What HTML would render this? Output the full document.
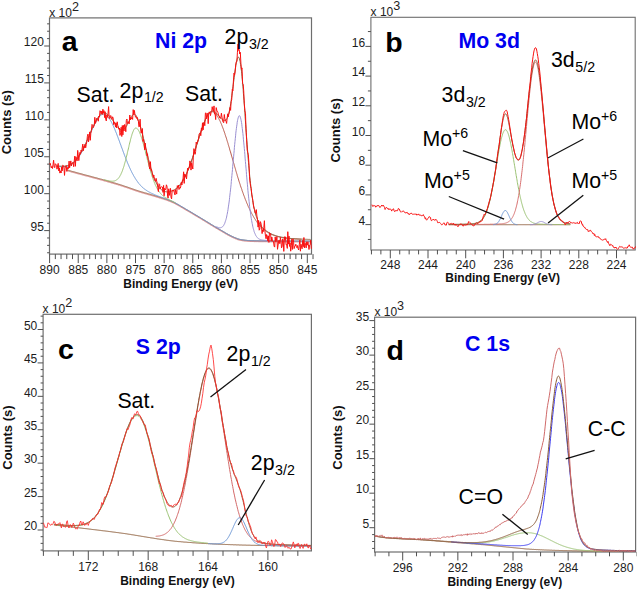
<!DOCTYPE html>
<html><head><meta charset="utf-8"><style>
html,body{margin:0;padding:0;background:#fff;}
svg{display:block;font-family:"Liberation Sans", sans-serif;}
</style></head><body>
<svg width="637" height="590" viewBox="0 0 637 590">
<rect width="637" height="590" fill="#fff"/>
<rect x="49.50" y="17.90" width="262.00" height="236.20" fill="none" stroke="#6e6e6e" stroke-width="1.2"/>
<line x1="47.10" y1="252.75" x2="49.50" y2="252.75" stroke="#505050" stroke-width="1.0"/>
<line x1="47.10" y1="245.37" x2="49.50" y2="245.37" stroke="#505050" stroke-width="1.0"/>
<line x1="47.10" y1="237.98" x2="49.50" y2="237.98" stroke="#505050" stroke-width="1.0"/>
<line x1="47.10" y1="223.22" x2="49.50" y2="223.22" stroke="#505050" stroke-width="1.0"/>
<line x1="47.10" y1="215.83" x2="49.50" y2="215.83" stroke="#505050" stroke-width="1.0"/>
<line x1="47.10" y1="208.45" x2="49.50" y2="208.45" stroke="#505050" stroke-width="1.0"/>
<line x1="47.10" y1="201.06" x2="49.50" y2="201.06" stroke="#505050" stroke-width="1.0"/>
<line x1="47.10" y1="186.30" x2="49.50" y2="186.30" stroke="#505050" stroke-width="1.0"/>
<line x1="47.10" y1="178.91" x2="49.50" y2="178.91" stroke="#505050" stroke-width="1.0"/>
<line x1="47.10" y1="171.53" x2="49.50" y2="171.53" stroke="#505050" stroke-width="1.0"/>
<line x1="47.10" y1="164.14" x2="49.50" y2="164.14" stroke="#505050" stroke-width="1.0"/>
<line x1="47.10" y1="149.38" x2="49.50" y2="149.38" stroke="#505050" stroke-width="1.0"/>
<line x1="47.10" y1="141.99" x2="49.50" y2="141.99" stroke="#505050" stroke-width="1.0"/>
<line x1="47.10" y1="134.61" x2="49.50" y2="134.61" stroke="#505050" stroke-width="1.0"/>
<line x1="47.10" y1="127.22" x2="49.50" y2="127.22" stroke="#505050" stroke-width="1.0"/>
<line x1="47.10" y1="112.46" x2="49.50" y2="112.46" stroke="#505050" stroke-width="1.0"/>
<line x1="47.10" y1="105.07" x2="49.50" y2="105.07" stroke="#505050" stroke-width="1.0"/>
<line x1="47.10" y1="97.69" x2="49.50" y2="97.69" stroke="#505050" stroke-width="1.0"/>
<line x1="47.10" y1="90.30" x2="49.50" y2="90.30" stroke="#505050" stroke-width="1.0"/>
<line x1="47.10" y1="75.54" x2="49.50" y2="75.54" stroke="#505050" stroke-width="1.0"/>
<line x1="47.10" y1="68.15" x2="49.50" y2="68.15" stroke="#505050" stroke-width="1.0"/>
<line x1="47.10" y1="60.77" x2="49.50" y2="60.77" stroke="#505050" stroke-width="1.0"/>
<line x1="47.10" y1="53.38" x2="49.50" y2="53.38" stroke="#505050" stroke-width="1.0"/>
<line x1="47.10" y1="38.62" x2="49.50" y2="38.62" stroke="#505050" stroke-width="1.0"/>
<line x1="47.10" y1="31.23" x2="49.50" y2="31.23" stroke="#505050" stroke-width="1.0"/>
<line x1="47.10" y1="23.85" x2="49.50" y2="23.85" stroke="#505050" stroke-width="1.0"/>
<line x1="44.20" y1="230.60" x2="49.50" y2="230.60" stroke="#505050" stroke-width="1.0"/>
<text x="43.90" y="230.80" font-size="12" font-weight="normal" fill="#1c1c1c" text-anchor="end" >95</text>
<line x1="44.20" y1="193.68" x2="49.50" y2="193.68" stroke="#505050" stroke-width="1.0"/>
<text x="43.90" y="193.88" font-size="12" font-weight="normal" fill="#1c1c1c" text-anchor="end" >100</text>
<line x1="44.20" y1="156.76" x2="49.50" y2="156.76" stroke="#505050" stroke-width="1.0"/>
<text x="43.90" y="156.96" font-size="12" font-weight="normal" fill="#1c1c1c" text-anchor="end" >105</text>
<line x1="44.20" y1="119.84" x2="49.50" y2="119.84" stroke="#505050" stroke-width="1.0"/>
<text x="43.90" y="120.04" font-size="12" font-weight="normal" fill="#1c1c1c" text-anchor="end" >110</text>
<line x1="44.20" y1="82.92" x2="49.50" y2="82.92" stroke="#505050" stroke-width="1.0"/>
<text x="43.90" y="83.12" font-size="12" font-weight="normal" fill="#1c1c1c" text-anchor="end" >115</text>
<line x1="44.20" y1="46.00" x2="49.50" y2="46.00" stroke="#505050" stroke-width="1.0"/>
<text x="43.90" y="46.20" font-size="12" font-weight="normal" fill="#1c1c1c" text-anchor="end" >120</text>
<line x1="313.03" y1="254.10" x2="313.03" y2="259.10" stroke="#505050" stroke-width="1.0"/>
<line x1="301.57" y1="254.10" x2="301.57" y2="259.10" stroke="#505050" stroke-width="1.0"/>
<line x1="295.85" y1="254.10" x2="295.85" y2="259.10" stroke="#505050" stroke-width="1.0"/>
<line x1="290.12" y1="254.10" x2="290.12" y2="259.10" stroke="#505050" stroke-width="1.0"/>
<line x1="284.39" y1="254.10" x2="284.39" y2="259.10" stroke="#505050" stroke-width="1.0"/>
<line x1="272.94" y1="254.10" x2="272.94" y2="259.10" stroke="#505050" stroke-width="1.0"/>
<line x1="267.21" y1="254.10" x2="267.21" y2="259.10" stroke="#505050" stroke-width="1.0"/>
<line x1="261.49" y1="254.10" x2="261.49" y2="259.10" stroke="#505050" stroke-width="1.0"/>
<line x1="255.76" y1="254.10" x2="255.76" y2="259.10" stroke="#505050" stroke-width="1.0"/>
<line x1="244.31" y1="254.10" x2="244.31" y2="259.10" stroke="#505050" stroke-width="1.0"/>
<line x1="238.58" y1="254.10" x2="238.58" y2="259.10" stroke="#505050" stroke-width="1.0"/>
<line x1="232.85" y1="254.10" x2="232.85" y2="259.10" stroke="#505050" stroke-width="1.0"/>
<line x1="227.13" y1="254.10" x2="227.13" y2="259.10" stroke="#505050" stroke-width="1.0"/>
<line x1="215.67" y1="254.10" x2="215.67" y2="259.10" stroke="#505050" stroke-width="1.0"/>
<line x1="209.95" y1="254.10" x2="209.95" y2="259.10" stroke="#505050" stroke-width="1.0"/>
<line x1="204.22" y1="254.10" x2="204.22" y2="259.10" stroke="#505050" stroke-width="1.0"/>
<line x1="198.49" y1="254.10" x2="198.49" y2="259.10" stroke="#505050" stroke-width="1.0"/>
<line x1="187.04" y1="254.10" x2="187.04" y2="259.10" stroke="#505050" stroke-width="1.0"/>
<line x1="181.31" y1="254.10" x2="181.31" y2="259.10" stroke="#505050" stroke-width="1.0"/>
<line x1="175.59" y1="254.10" x2="175.59" y2="259.10" stroke="#505050" stroke-width="1.0"/>
<line x1="169.86" y1="254.10" x2="169.86" y2="259.10" stroke="#505050" stroke-width="1.0"/>
<line x1="158.41" y1="254.10" x2="158.41" y2="259.10" stroke="#505050" stroke-width="1.0"/>
<line x1="152.68" y1="254.10" x2="152.68" y2="259.10" stroke="#505050" stroke-width="1.0"/>
<line x1="146.95" y1="254.10" x2="146.95" y2="259.10" stroke="#505050" stroke-width="1.0"/>
<line x1="141.23" y1="254.10" x2="141.23" y2="259.10" stroke="#505050" stroke-width="1.0"/>
<line x1="129.77" y1="254.10" x2="129.77" y2="259.10" stroke="#505050" stroke-width="1.0"/>
<line x1="124.05" y1="254.10" x2="124.05" y2="259.10" stroke="#505050" stroke-width="1.0"/>
<line x1="118.32" y1="254.10" x2="118.32" y2="259.10" stroke="#505050" stroke-width="1.0"/>
<line x1="112.59" y1="254.10" x2="112.59" y2="259.10" stroke="#505050" stroke-width="1.0"/>
<line x1="101.14" y1="254.10" x2="101.14" y2="259.10" stroke="#505050" stroke-width="1.0"/>
<line x1="95.41" y1="254.10" x2="95.41" y2="259.10" stroke="#505050" stroke-width="1.0"/>
<line x1="89.69" y1="254.10" x2="89.69" y2="259.10" stroke="#505050" stroke-width="1.0"/>
<line x1="83.96" y1="254.10" x2="83.96" y2="259.10" stroke="#505050" stroke-width="1.0"/>
<line x1="72.51" y1="254.10" x2="72.51" y2="259.10" stroke="#505050" stroke-width="1.0"/>
<line x1="66.78" y1="254.10" x2="66.78" y2="259.10" stroke="#505050" stroke-width="1.0"/>
<line x1="61.05" y1="254.10" x2="61.05" y2="259.10" stroke="#505050" stroke-width="1.0"/>
<line x1="55.33" y1="254.10" x2="55.33" y2="259.10" stroke="#505050" stroke-width="1.0"/>
<line x1="49.60" y1="254.10" x2="49.60" y2="263.10" stroke="#505050" stroke-width="1.0"/>
<text x="49.60" y="274.00" font-size="12" font-weight="normal" fill="#1c1c1c" text-anchor="middle" >890</text>
<line x1="78.23" y1="254.10" x2="78.23" y2="263.10" stroke="#505050" stroke-width="1.0"/>
<text x="78.23" y="274.00" font-size="12" font-weight="normal" fill="#1c1c1c" text-anchor="middle" >885</text>
<line x1="106.87" y1="254.10" x2="106.87" y2="263.10" stroke="#505050" stroke-width="1.0"/>
<text x="106.87" y="274.00" font-size="12" font-weight="normal" fill="#1c1c1c" text-anchor="middle" >880</text>
<line x1="135.50" y1="254.10" x2="135.50" y2="263.10" stroke="#505050" stroke-width="1.0"/>
<text x="135.50" y="274.00" font-size="12" font-weight="normal" fill="#1c1c1c" text-anchor="middle" >875</text>
<line x1="164.13" y1="254.10" x2="164.13" y2="263.10" stroke="#505050" stroke-width="1.0"/>
<text x="164.13" y="274.00" font-size="12" font-weight="normal" fill="#1c1c1c" text-anchor="middle" >870</text>
<line x1="192.77" y1="254.10" x2="192.77" y2="263.10" stroke="#505050" stroke-width="1.0"/>
<text x="192.77" y="274.00" font-size="12" font-weight="normal" fill="#1c1c1c" text-anchor="middle" >865</text>
<line x1="221.40" y1="254.10" x2="221.40" y2="263.10" stroke="#505050" stroke-width="1.0"/>
<text x="221.40" y="274.00" font-size="12" font-weight="normal" fill="#1c1c1c" text-anchor="middle" >860</text>
<line x1="250.03" y1="254.10" x2="250.03" y2="263.10" stroke="#505050" stroke-width="1.0"/>
<text x="250.03" y="274.00" font-size="12" font-weight="normal" fill="#1c1c1c" text-anchor="middle" >855</text>
<line x1="278.67" y1="254.10" x2="278.67" y2="263.10" stroke="#505050" stroke-width="1.0"/>
<text x="278.67" y="274.00" font-size="12" font-weight="normal" fill="#1c1c1c" text-anchor="middle" >850</text>
<line x1="307.30" y1="254.10" x2="307.30" y2="263.10" stroke="#505050" stroke-width="1.0"/>
<text x="307.30" y="274.00" font-size="12" font-weight="normal" fill="#1c1c1c" text-anchor="middle" >845</text>
<text x="49.20" y="17.00" font-size="12" fill="#222">x 10<tspan font-size="12.6" dy="-5.6">2</tspan></text>
<text x="0" y="0" font-size="13" font-weight="bold" fill="#111" text-anchor="middle" transform="translate(11.20,122.20) rotate(-90)">Counts (s)</text>
<text x="180.60" y="288.20" font-size="12" font-weight="bold" fill="#111" text-anchor="middle" >Binding Energy (eV)</text>
<polyline points="66.9,169.9 67.2,170.0 67.5,170.1 67.8,170.2 68.0,170.2 68.3,170.3 68.6,170.4 68.9,170.5 69.2,170.6 69.4,170.6 69.7,170.7 70.0,170.8 70.3,170.9 70.6,170.9 70.9,171.0 71.1,171.1 71.4,171.2 71.7,171.3 72.0,171.3 72.3,171.4 72.5,171.5 72.8,171.6 73.1,171.6 73.4,171.7 73.7,171.8 73.9,171.9 74.2,171.9 74.5,172.0 74.8,172.1 75.1,172.2 75.4,172.3 75.6,172.3 75.9,172.4 76.2,172.5 76.5,172.6 76.8,172.6 77.0,172.7 77.3,172.8 77.6,172.9 77.9,172.9 78.2,173.0 78.5,173.1 78.7,173.2 79.0,173.2 79.3,173.3 79.6,173.4 79.9,173.5 80.1,173.5 80.4,173.6 80.7,173.7 81.0,173.8 81.3,173.8 81.5,173.9 81.8,174.0 82.1,174.1 82.4,174.2 82.7,174.2 83.0,174.3 83.2,174.4 83.5,174.5 83.8,174.5 84.1,174.6 84.4,174.7 84.6,174.8 84.9,174.8 85.2,174.9 85.5,175.0 85.8,175.1 86.1,175.1 86.3,175.2 86.6,175.3 86.9,175.4 87.2,175.4 87.5,175.5 87.7,175.6 88.0,175.7 88.3,175.7 88.6,175.8 88.9,175.9 89.2,176.0 89.4,176.0 89.7,176.1 90.0,176.2 90.3,176.3 90.6,176.3 90.8,176.4 91.1,176.5 91.4,176.6 91.7,176.6 92.0,176.7 92.2,176.8 92.5,176.9 92.8,176.9 93.1,177.0 93.4,177.1 93.7,177.2 93.9,177.2 94.2,177.3 94.5,177.4 94.8,177.5 95.1,177.5 95.3,177.6 95.6,177.7 95.9,177.8 96.2,177.8 96.5,177.9 96.8,178.0 97.0,178.1 97.3,178.2 97.6,178.2 97.9,178.3 98.2,178.4 98.4,178.5 98.7,178.5 99.0,178.6 99.3,178.7 99.6,178.8 99.9,178.8 100.1,178.9 100.4,179.0 100.7,179.1 101.0,179.2 101.3,179.2 101.5,179.3 101.8,179.4 102.1,179.5 102.4,179.5 102.7,179.6 102.9,179.7 103.2,179.8 103.5,179.9 103.8,179.9 104.1,180.0 104.4,180.1 104.6,180.2 104.9,180.2 105.2,180.3 105.5,180.4 105.8,180.5 106.0,180.6 106.3,180.6 106.6,180.7 106.9,180.8 107.2,180.9 107.5,181.0 107.7,181.0 108.0,181.1 108.3,181.2 108.6,181.3 108.9,181.4 109.1,181.4 109.4,181.5 109.7,181.6 110.0,181.7 110.3,181.8 110.5,181.8 110.8,181.9 111.1,182.0 111.4,182.1 111.7,182.2 112.0,182.2 112.2,182.3 112.5,182.4 112.8,182.5 113.1,182.6 113.4,182.7 113.6,182.7 113.9,182.8 114.2,182.9 114.5,183.0 114.8,183.1 115.1,183.2 115.3,183.2 115.6,183.3 115.9,183.4 116.2,183.5 116.5,183.6 116.7,183.7 117.0,183.8 117.3,183.8 117.6,183.9 117.9,184.0 118.2,184.1 118.4,184.2 118.7,184.3 119.0,184.4 119.3,184.4 119.6,184.5 119.8,184.6 120.1,184.7 120.4,184.8 120.7,184.9 121.0,185.0 121.2,185.1 121.5,185.1 121.8,185.2 122.1,185.3 122.4,185.4 122.7,185.5 122.9,185.6 123.2,185.7 123.5,185.8 123.8,185.9 124.1,186.0 124.3,186.1 124.6,186.2 124.9,186.3 125.2,186.4 125.5,186.5 125.8,186.5 126.0,186.6 126.3,186.7 126.6,186.8 126.9,186.9 127.2,187.0 127.4,187.1 127.7,187.2 128.0,187.3 128.3,187.4 128.6,187.5 128.9,187.6 129.1,187.7 129.4,187.8 129.7,187.9 130.0,188.0 130.3,188.1 130.5,188.2 130.8,188.3 131.1,188.4 131.4,188.5 131.7,188.6 131.9,188.7 132.2,188.8 132.5,188.9 132.8,189.0 133.1,189.1 133.4,189.2 133.6,189.3 133.9,189.4 134.2,189.5 134.5,189.6 134.8,189.7 135.0,189.8 135.3,189.9 135.6,190.0 135.9,190.1 136.2,190.2 136.5,190.3 136.7,190.3 137.0,190.4 137.3,190.5 137.6,190.6 137.9,190.7 138.1,190.8 138.4,190.9 138.7,191.0 139.0,191.1 139.3,191.2 139.6,191.3 139.8,191.3 140.1,191.4 140.4,191.5 140.7,191.6 141.0,191.7 141.2,191.8 141.5,191.9 141.8,191.9 142.1,192.0 142.4,192.1 142.6,192.2 142.9,192.3 143.2,192.4 143.5,192.4 143.8,192.5 144.1,192.6 144.3,192.7 144.6,192.8 144.9,192.8 145.2,192.9 145.5,193.0 145.7,193.1 146.0,193.2 146.3,193.2 146.6,193.3 146.9,193.4 147.2,193.5 147.4,193.6 147.7,193.6 148.0,193.7 148.3,193.8 148.6,193.9 148.8,194.0 149.1,194.0 149.4,194.1 149.7,194.2 150.0,194.3 150.2,194.4 150.5,194.4 150.8,194.5 151.1,194.6 151.4,194.7 151.7,194.8 151.9,194.8 152.2,194.9 152.5,195.0 152.8,195.1 153.1,195.2 153.3,195.3 153.6,195.3 153.9,195.4 154.2,195.5 154.5,195.6 154.8,195.7 155.0,195.8 155.3,195.9 155.6,195.9 155.9,196.0 156.2,196.1 156.4,196.2 156.7,196.3 157.0,196.4 157.3,196.5 157.6,196.5 157.9,196.6 158.1,196.7 158.4,196.8 158.7,196.9 159.0,197.0 159.3,197.1 159.5,197.2 159.8,197.2 160.1,197.3 160.4,197.4 160.7,197.5 160.9,197.6 161.2,197.7 161.5,197.8 161.8,197.9 162.1,197.9 162.4,198.0 162.6,198.1 162.9,198.2 163.2,198.3 163.5,198.4 163.8,198.5 164.0,198.6 164.3,198.7 164.6,198.8 164.9,198.9 165.2,198.9 165.5,199.0 165.7,199.1 166.0,199.2 166.3,199.3 166.6,199.4 166.9,199.5 167.1,199.6 167.4,199.7 167.7,199.8 168.0,199.9 168.3,200.0 168.6,200.2 168.8,200.3 169.1,200.4 169.4,200.5 169.7,200.6 170.0,200.7 170.2,200.8 170.5,200.9 170.8,201.0 171.1,201.2 171.4,201.3 171.6,201.4 171.9,201.5 172.2,201.6 172.5,201.8 172.8,201.9 173.1,202.0 173.3,202.2 173.6,202.3 173.9,202.4 174.2,202.6 174.5,202.7 174.7,202.8 175.0,203.0 175.3,203.1 175.6,203.3 175.9,203.4 176.2,203.6 176.4,203.7 176.7,203.9 177.0,204.0 177.3,204.2 177.6,204.4 177.8,204.5 178.1,204.7 178.4,204.8 178.7,205.0 179.0,205.2 179.2,205.3 179.5,205.5 179.8,205.6 180.1,205.8 180.4,206.0 180.7,206.1 180.9,206.3 181.2,206.5 181.5,206.6 181.8,206.8 182.1,207.0 182.3,207.2 182.6,207.3 182.9,207.5 183.2,207.7 183.5,207.8 183.8,208.0 184.0,208.2 184.3,208.3 184.6,208.5 184.9,208.7 185.2,208.8 185.4,209.0 185.7,209.2 186.0,209.3 186.3,209.5 186.6,209.7 186.9,209.8 187.1,210.0 187.4,210.1 187.7,210.3 188.0,210.5 188.3,210.6 188.5,210.8 188.8,211.0 189.1,211.1 189.4,211.3 189.7,211.4 189.9,211.6 190.2,211.8 190.5,211.9 190.8,212.1 191.1,212.3 191.4,212.4 191.6,212.6 191.9,212.8 192.2,212.9 192.5,213.1 192.8,213.3 193.0,213.4 193.3,213.6 193.6,213.8 193.9,213.9 194.2,214.1 194.5,214.3 194.7,214.5 195.0,214.6 195.3,214.8 195.6,215.0 195.9,215.1 196.1,215.3 196.4,215.5 196.7,215.6 197.0,215.8 197.3,216.0 197.6,216.1 197.8,216.3 198.1,216.5 198.4,216.7 198.7,216.8 199.0,217.0 199.2,217.2 199.5,217.3 199.8,217.5 200.1,217.7 200.4,217.8 200.6,218.0 200.9,218.2 201.2,218.4 201.5,218.5 201.8,218.7 202.1,218.9 202.3,219.0 202.6,219.2 202.9,219.4 203.2,219.5 203.5,219.7 203.7,219.9 204.0,220.1 204.3,220.2 204.6,220.4 204.9,220.6 205.2,220.7 205.4,220.9 205.7,221.1 206.0,221.3 206.3,221.4 206.6,221.6 206.8,221.8 207.1,221.9 207.4,222.1 207.7,222.3 208.0,222.5 208.2,222.6 208.5,222.8 208.8,223.0 209.1,223.2 209.4,223.3 209.7,223.5 209.9,223.7 210.2,223.9 210.5,224.0 210.8,224.2 211.1,224.4 211.3,224.6 211.6,224.7 211.9,224.9 212.2,225.1 212.5,225.2 212.8,225.4 213.0,225.6 213.3,225.8 213.6,225.9 213.9,226.1 214.2,226.3 214.4,226.4 214.7,226.6 215.0,226.8 215.3,227.0 215.6,227.1 215.9,227.3 216.1,227.5 216.4,227.6 216.7,227.8 217.0,228.0 217.3,228.1 217.5,228.3 217.8,228.4 218.1,228.6 218.4,228.8 218.7,228.9 218.9,229.1 219.2,229.3 219.5,229.4 219.8,229.6 220.1,229.8 220.4,229.9 220.6,230.1 220.9,230.3 221.2,230.4 221.5,230.6 221.8,230.7 222.0,230.9 222.3,231.1 222.6,231.2 222.9,231.4 223.2,231.6 223.5,231.7 223.7,231.9 224.0,232.1 224.3,232.2 224.6,232.4 224.9,232.6 225.1,232.7 225.4,232.9 225.7,233.1 226.0,233.2 226.3,233.4 226.6,233.5 226.8,233.7 227.1,233.9 227.4,234.0 227.7,234.2 228.0,234.3 228.2,234.5 228.5,234.6 228.8,234.8 229.1,234.9 229.4,235.1 229.6,235.2 229.9,235.4 230.2,235.5 230.5,235.7 230.8,235.8 231.1,236.0 231.3,236.1 231.6,236.2 231.9,236.4 232.2,236.5 232.5,236.6 232.7,236.8 233.0,236.9 233.3,237.0 233.6,237.1 233.9,237.3 234.2,237.4 234.4,237.5 234.7,237.6 235.0,237.7 235.3,237.9 235.6,238.0 235.8,238.1 236.1,238.2 236.4,238.3 236.7,238.4 237.0,238.6 237.2,238.7 237.5,238.8 237.8,238.9 238.1,239.0 238.4,239.1 238.7,239.1 238.9,239.2 239.2,239.3 239.5,239.4 239.8,239.4 240.1,239.5 240.3,239.5 240.6,239.6 240.9,239.6 241.2,239.7 241.5,239.7 241.8,239.8 242.0,239.8 242.3,239.9 242.6,239.9 242.9,240.0 243.2,240.0 243.4,240.0 243.7,240.1 244.0,240.1 244.3,240.2 244.6,240.2 244.9,240.2 245.1,240.3 245.4,240.3 245.7,240.3 246.0,240.4 246.3,240.4 246.5,240.4 246.8,240.4 247.1,240.5 247.4,240.5 247.7,240.5 247.9,240.5 248.2,240.5 248.5,240.6 248.8,240.6 249.1,240.6 249.4,240.6 249.6,240.6 249.9,240.6 250.2,240.6 250.5,240.7 250.8,240.7 251.0,240.7 251.3,240.7 251.6,240.7 251.9,240.7 252.2,240.7 252.5,240.7 252.7,240.7 253.0,240.7 253.3,240.7 253.6,240.7 253.9,240.8 254.1,240.8 254.4,240.8 254.7,240.8 255.0,240.8 255.3,240.8 255.6,240.8 255.8,240.8 256.1,240.8 256.4,240.8 256.7,240.8 257.0,240.8 257.2,240.8 257.5,240.8 257.8,240.8 258.1,240.8 258.4,240.8 258.6,240.9 258.9,240.9 259.2,240.9 259.5,240.9 259.8,240.9 260.1,240.9 260.3,240.9 260.6,240.9 260.9,240.9 261.2,240.9 261.5,240.9 261.7,240.9 262.0,240.9 262.3,240.9 262.6,240.9 262.9,240.9 263.2,240.9 263.4,240.9 263.7,240.9 264.0,240.9 264.3,240.9 264.6,240.9 264.8,240.9 265.1,240.9 265.4,240.9 265.7,240.9 266.0,240.9 266.3,240.9 266.5,240.9 266.8,240.9 267.1,241.0 267.4,241.0 267.7,241.0 267.9,241.0 268.2,241.0 268.5,241.0 268.8,241.0 269.1,241.0 269.3,241.0 269.6,241.0 269.9,241.0 270.2,241.0 270.5,241.0 270.8,241.0 271.0,241.0 271.3,241.0 271.6,241.0 271.9,241.0 272.2,241.0 272.4,241.0 272.7,241.0 273.0,241.0 273.3,241.0 273.6,241.0 273.9,241.0 274.1,241.0 274.4,241.0 274.7,241.0 275.0,241.0 275.3,241.0 275.5,241.0 275.8,241.0 276.1,241.0 276.4,241.0 276.7,241.0 276.9,241.0 277.2,241.0 277.5,241.0 277.8,241.0 278.1,241.0 278.4,241.0 278.6,241.0 278.9,241.0 279.2,241.0 279.5,241.1 279.8,241.1 280.0,241.1 280.3,241.1 280.6,241.1 280.9,241.1 281.2,241.1 281.5,241.1 281.7,241.1 282.0,241.1 282.3,241.1 282.6,241.1 282.9,241.1 283.1,241.1 283.4,241.1 283.7,241.1 284.0,241.1 284.3,241.1 284.6,241.1 284.8,241.1 285.1,241.1 285.4,241.1 285.7,241.1 286.0,241.1 286.2,241.1 286.5,241.1 286.8,241.1 287.1,241.1 287.4,241.1 287.6,241.1 287.9,241.1 288.2,241.1 288.5,241.1 288.8,241.1 289.1,241.1 289.3,241.1 289.6,241.1 289.9,241.1 290.2,241.1 290.5,241.1 290.7,241.1 291.0,241.1 291.3,241.1 291.6,241.1 291.9,241.1 292.2,241.1 292.4,241.1 292.7,241.1 293.0,241.1 293.3,241.1 293.6,241.1 293.8,241.1 294.1,241.1 294.4,241.1 294.7,241.1 295.0,241.1 295.3,241.1 295.5,241.1 295.8,241.1 296.1,241.1 296.4,241.1 296.7,241.1 296.9,241.1 297.2,241.1 297.5,241.1 297.8,241.1 298.1,241.1 298.3,241.1 298.6,241.1 298.9,241.1 299.2,241.1 299.5,241.1 299.8,241.1 300.0,241.1 300.3,241.1 300.6,241.1 300.9,241.1 301.2,241.1 301.4,241.1 301.7,241.1 302.0,241.1 302.3,241.1 302.6,241.1 302.9,241.1 303.1,241.1 303.4,241.1 303.7,241.1 304.0,241.1 304.3,241.1 304.5,241.1 304.8,241.1 305.1,241.1 305.4,241.1 305.7,241.1 305.9,241.1 306.2,241.1 306.5,241.1 306.8,241.1 307.1,241.1 307.4,241.1 307.6,241.1 307.9,241.1 308.2,241.1 308.5,241.1 308.8,241.1 309.0,241.1 309.3,241.1 309.6,241.1 309.9,241.1 310.2,241.1 310.5,241.1 310.7,241.1" fill="none" stroke="#8a5a36" stroke-width="1.0" stroke-linejoin="round" />
<polyline points="66.9,170.7 67.2,170.8 67.5,170.9 67.8,171.0 68.0,171.0 68.3,171.1 68.6,171.2 68.9,171.3 69.2,171.4 69.4,171.4 69.7,171.5 70.0,171.6 70.3,171.7 70.6,171.7 70.9,171.8 71.1,171.9 71.4,172.0 71.7,172.1 72.0,172.1 72.3,172.2 72.5,172.3 72.8,172.4 73.1,172.4 73.4,172.5 73.7,172.6 73.9,172.7 74.2,172.7 74.5,172.8 74.8,172.9 75.1,173.0 75.4,173.1 75.6,173.1 75.9,173.2 76.2,173.3 76.5,173.4 76.8,173.4 77.0,173.5 77.3,173.6 77.6,173.7 77.9,173.7 78.2,173.8 78.5,173.9 78.7,174.0 79.0,174.0 79.3,174.1 79.6,174.2 79.9,174.3 80.1,174.3 80.4,174.4 80.7,174.5 81.0,174.6 81.3,174.6 81.5,174.7 81.8,174.8 82.1,174.9 82.4,175.0 82.7,175.0 83.0,175.1 83.2,175.2 83.5,175.3 83.8,175.3 84.1,175.4 84.4,175.5 84.6,175.6 84.9,175.6 85.2,175.7 85.5,175.8 85.8,175.9 86.1,175.9 86.3,176.0 86.6,176.1 86.9,176.2 87.2,176.2 87.5,176.3 87.7,176.4 88.0,176.5 88.3,176.5 88.6,176.6 88.9,176.7 89.2,176.8 89.4,176.8 89.7,176.9 90.0,177.0 90.3,177.1 90.6,177.1 90.8,177.2 91.1,177.3 91.4,177.4 91.7,177.4 92.0,177.5 92.2,177.6 92.5,177.7 92.8,177.7 93.1,177.8 93.4,177.9 93.7,178.0 93.9,178.0 94.2,178.1 94.5,178.2 94.8,178.3 95.1,178.3 95.3,178.4 95.6,178.5 95.9,178.6 96.2,178.6 96.5,178.7 96.8,178.8 97.0,178.9 97.3,179.0 97.6,179.0 97.9,179.1 98.2,179.2 98.4,179.3 98.7,179.3 99.0,179.4 99.3,179.5 99.6,179.6 99.9,179.6 100.1,179.7 100.4,179.8 100.7,179.9 101.0,180.0 101.3,180.0 101.5,180.1 101.8,180.2 102.1,180.3 102.4,180.3 102.7,180.4 102.9,180.5 103.2,180.6 103.5,180.7 103.8,180.7 104.1,180.8 104.4,180.9 104.6,181.0 104.9,181.0 105.2,181.1 105.5,181.2 105.8,181.3 106.0,181.4 106.3,181.4 106.6,181.5 106.9,181.6 107.2,181.7 107.5,181.8 107.7,181.8 108.0,181.9 108.3,182.0 108.6,182.1 108.9,182.2 109.1,182.2 109.4,182.3 109.7,182.4 110.0,182.5 110.3,182.6 110.5,182.6 110.8,182.7 111.1,182.8 111.4,182.9 111.7,183.0 112.0,183.0 112.2,183.1 112.5,183.2 112.8,183.3 113.1,183.4 113.4,183.5 113.6,183.5 113.9,183.6 114.2,183.7 114.5,183.8 114.8,183.9 115.1,184.0 115.3,184.0 115.6,184.1 115.9,184.2 116.2,184.3 116.5,184.4 116.7,184.5 117.0,184.6 117.3,184.6 117.6,184.7 117.9,184.8 118.2,184.9 118.4,185.0 118.7,185.1 119.0,185.2 119.3,185.2 119.6,185.3 119.8,185.4 120.1,185.5 120.4,185.6 120.7,185.7 121.0,185.8 121.2,185.9 121.5,185.9 121.8,186.0 122.1,186.1 122.4,186.2 122.7,186.3 122.9,186.4 123.2,186.5 123.5,186.6 123.8,186.7 124.1,186.8 124.3,186.9 124.6,187.0 124.9,187.1 125.2,187.2 125.5,187.3 125.8,187.3 126.0,187.4 126.3,187.5 126.6,187.6 126.9,187.7 127.2,187.8 127.4,187.9 127.7,188.0 128.0,188.1 128.3,188.2 128.6,188.3 128.9,188.4 129.1,188.5 129.4,188.6 129.7,188.7 130.0,188.8 130.3,188.9 130.5,189.0 130.8,189.1 131.1,189.2 131.4,189.3 131.7,189.4 131.9,189.5 132.2,189.6 132.5,189.7 132.8,189.8 133.1,189.9 133.4,190.0 133.6,190.1 133.9,190.2 134.2,190.3 134.5,190.4 134.8,190.5 135.0,190.6 135.3,190.7 135.6,190.8 135.9,190.9 136.2,191.0 136.5,191.1 136.7,191.1 137.0,191.2 137.3,191.3 137.6,191.4 137.9,191.5 138.1,191.6 138.4,191.7 138.7,191.8 139.0,191.9 139.3,192.0 139.6,192.1 139.8,192.1 140.1,192.2 140.4,192.3 140.7,192.4 141.0,192.5 141.2,192.6 141.5,192.7 141.8,192.7 142.1,192.8 142.4,192.9 142.6,193.0 142.9,193.1 143.2,193.2 143.5,193.2 143.8,193.3 144.1,193.4 144.3,193.5 144.6,193.6 144.9,193.6 145.2,193.7 145.5,193.8 145.7,193.9 146.0,194.0 146.3,194.0 146.6,194.1 146.9,194.2 147.2,194.3 147.4,194.4 147.7,194.4 148.0,194.5 148.3,194.6 148.6,194.7 148.8,194.8 149.1,194.8 149.4,194.9 149.7,195.0 150.0,195.1 150.2,195.2 150.5,195.2 150.8,195.3 151.1,195.4 151.4,195.5 151.7,195.6 151.9,195.6 152.2,195.7 152.5,195.8 152.8,195.9 153.1,196.0 153.3,196.1 153.6,196.1 153.9,196.2 154.2,196.3 154.5,196.4 154.8,196.5 155.0,196.6 155.3,196.7 155.6,196.7 155.9,196.8 156.2,196.9 156.4,197.0 156.7,197.1 157.0,197.2 157.3,197.3 157.6,197.3 157.9,197.4 158.1,197.5 158.4,197.6 158.7,197.7 159.0,197.8 159.3,197.9 159.5,198.0 159.8,198.0 160.1,198.1 160.4,198.2 160.7,198.3 160.9,198.4 161.2,198.5 161.5,198.6 161.8,198.7 162.1,198.7 162.4,198.8 162.6,198.9 162.9,199.0 163.2,199.1 163.5,199.2 163.8,199.3 164.0,199.4 164.3,199.5 164.6,199.6 164.9,199.7 165.2,199.7 165.5,199.8 165.7,199.9 166.0,200.0 166.3,200.1 166.6,200.2 166.9,200.3 167.1,200.4 167.4,200.5 167.7,200.6 168.0,200.7 168.3,200.8 168.6,201.0 168.8,201.1 169.1,201.2 169.4,201.3 169.7,201.4 170.0,201.5 170.2,201.6 170.5,201.7 170.8,201.8 171.1,202.0 171.4,202.1 171.6,202.2 171.9,202.3 172.2,202.4 172.5,202.6 172.8,202.7 173.1,202.8 173.3,203.0 173.6,203.1 173.9,203.2 174.2,203.4 174.5,203.5 174.7,203.6 175.0,203.8 175.3,203.9 175.6,204.1 175.9,204.2 176.2,204.4 176.4,204.5 176.7,204.7 177.0,204.8 177.3,205.0 177.6,205.2 177.8,205.3 178.1,205.5 178.4,205.6 178.7,205.8 179.0,206.0 179.2,206.1 179.5,206.3 179.8,206.4 180.1,206.6 180.4,206.8 180.7,206.9 180.9,207.1 181.2,207.3 181.5,207.4 181.8,207.6 182.1,207.8 182.3,208.0 182.6,208.1 182.9,208.3 183.2,208.5 183.5,208.6 183.8,208.8 184.0,209.0 184.3,209.1 184.6,209.3 184.9,209.5 185.2,209.6 185.4,209.8 185.7,210.0 186.0,210.1 186.3,210.3 186.6,210.5 186.9,210.6 187.1,210.8 187.4,210.9 187.7,211.1 188.0,211.3 188.3,211.4 188.5,211.6 188.8,211.8 189.1,211.9 189.4,212.1 189.7,212.2 189.9,212.4 190.2,212.6 190.5,212.7 190.8,212.9 191.1,213.1 191.4,213.2 191.6,213.4 191.9,213.6 192.2,213.7 192.5,213.9 192.8,214.1 193.0,214.2 193.3,214.4 193.6,214.6 193.9,214.7 194.2,214.9 194.5,215.1 194.7,215.3 195.0,215.4 195.3,215.6 195.6,215.8 195.9,215.9 196.1,216.1 196.4,216.3 196.7,216.4 197.0,216.6 197.3,216.8 197.6,216.9 197.8,217.1 198.1,217.3 198.4,217.5 198.7,217.6 199.0,217.8 199.2,218.0 199.5,218.1 199.8,218.3 200.1,218.5 200.4,218.6 200.6,218.8 200.9,219.0 201.2,219.2 201.5,219.3 201.8,219.5 202.1,219.7 202.3,219.8 202.6,220.0 202.9,220.2 203.2,220.3 203.5,220.5 203.7,220.7 204.0,220.9 204.3,221.0 204.6,221.2 204.9,221.4 205.2,221.5 205.4,221.7 205.7,221.9 206.0,222.1 206.3,222.2 206.6,222.4 206.8,222.6 207.1,222.7 207.4,222.9 207.7,223.1 208.0,223.3 208.2,223.4 208.5,223.6 208.8,223.8 209.1,224.0 209.4,224.1 209.7,224.3 209.9,224.5 210.2,224.7 210.5,224.8 210.8,225.0 211.1,225.2 211.3,225.4 211.6,225.5 211.9,225.7 212.2,225.9 212.5,226.0 212.8,226.2 213.0,226.4 213.3,226.6 213.6,226.7 213.9,226.9 214.2,227.1 214.4,227.2 214.7,227.4 215.0,227.6 215.3,227.8 215.6,227.9 215.9,228.1 216.1,228.3 216.4,228.4 216.7,228.6 217.0,228.8 217.3,228.9 217.5,229.1 217.8,229.2 218.1,229.4 218.4,229.6 218.7,229.7 218.9,229.9 219.2,230.1 219.5,230.2 219.8,230.4 220.1,230.6 220.4,230.7 220.6,230.9 220.9,231.1 221.2,231.2 221.5,231.4 221.8,231.5 222.0,231.7 222.3,231.9 222.6,232.0 222.9,232.2 223.2,232.4 223.5,232.5 223.7,232.7 224.0,232.9 224.3,233.0 224.6,233.2 224.9,233.4 225.1,233.5 225.4,233.7 225.7,233.9 226.0,234.0 226.3,234.2 226.6,234.3 226.8,234.5 227.1,234.7 227.4,234.8 227.7,235.0 228.0,235.1 228.2,235.3 228.5,235.4 228.8,235.6 229.1,235.7 229.4,235.9 229.6,236.0 229.9,236.2 230.2,236.3 230.5,236.5 230.8,236.6 231.1,236.8 231.3,236.9 231.6,237.0 231.9,237.2 232.2,237.3 232.5,237.4 232.7,237.6 233.0,237.7 233.3,237.8 233.6,237.9 233.9,238.1 234.2,238.2 234.4,238.3 234.7,238.4 235.0,238.5 235.3,238.7 235.6,238.8 235.8,238.9 236.1,239.0 236.4,239.1 236.7,239.2 237.0,239.4 237.2,239.5 237.5,239.6 237.8,239.7 238.1,239.8 238.4,239.9 238.7,239.9 238.9,240.0 239.2,240.1 239.5,240.2 239.8,240.2 240.1,240.3 240.3,240.3 240.6,240.4 240.9,240.4 241.2,240.5 241.5,240.5 241.8,240.6 242.0,240.6 242.3,240.7 242.6,240.7 242.9,240.8 243.2,240.8 243.4,240.8 243.7,240.9 244.0,240.9 244.3,241.0 244.6,241.0 244.9,241.0 245.1,241.1 245.4,241.1 245.7,241.1 246.0,241.2 246.3,241.2 246.5,241.2 246.8,241.2 247.1,241.3 247.4,241.3 247.7,241.3 247.9,241.3 248.2,241.3 248.5,241.4 248.8,241.4 249.1,241.4 249.4,241.4 249.6,241.4 249.9,241.4 250.2,241.4 250.5,241.5 250.8,241.5 251.0,241.5 251.3,241.5 251.6,241.5 251.9,241.5 252.2,241.5 252.5,241.5 252.7,241.5 253.0,241.5 253.3,241.5 253.6,241.5 253.9,241.6 254.1,241.6 254.4,241.6 254.7,241.6 255.0,241.6 255.3,241.6 255.6,241.6 255.8,241.6 256.1,241.6 256.4,241.6 256.7,241.6 257.0,241.6 257.2,241.6 257.5,241.6 257.8,241.6 258.1,241.6 258.4,241.6 258.6,241.7 258.9,241.7 259.2,241.7 259.5,241.7 259.8,241.7 260.1,241.7 260.3,241.7 260.6,241.7 260.9,241.7 261.2,241.7 261.5,241.7 261.7,241.7 262.0,241.7 262.3,241.7 262.6,241.7 262.9,241.7 263.2,241.7 263.4,241.7 263.7,241.7 264.0,241.7 264.3,241.7 264.6,241.7 264.8,241.7 265.1,241.7 265.4,241.7 265.7,241.7 266.0,241.7 266.3,241.7 266.5,241.7 266.8,241.7 267.1,241.8 267.4,241.8 267.7,241.8 267.9,241.8 268.2,241.8 268.5,241.8 268.8,241.8 269.1,241.8 269.3,241.8 269.6,241.8 269.9,241.8 270.2,241.8 270.5,241.8 270.8,241.8 271.0,241.8 271.3,241.8 271.6,241.8 271.9,241.8 272.2,241.8 272.4,241.8 272.7,241.8 273.0,241.8 273.3,241.8 273.6,241.8 273.9,241.8 274.1,241.8 274.4,241.8 274.7,241.8 275.0,241.8 275.3,241.8 275.5,241.8 275.8,241.8 276.1,241.8 276.4,241.8 276.7,241.8 276.9,241.8 277.2,241.8 277.5,241.8 277.8,241.8 278.1,241.8 278.4,241.8 278.6,241.8 278.9,241.8 279.2,241.8 279.5,241.9 279.8,241.9 280.0,241.9 280.3,241.9 280.6,241.9 280.9,241.9 281.2,241.9 281.5,241.9 281.7,241.9 282.0,241.9 282.3,241.9 282.6,241.9 282.9,241.9 283.1,241.9 283.4,241.9 283.7,241.9 284.0,241.9 284.3,241.9 284.6,241.9 284.8,241.9 285.1,241.9 285.4,241.9 285.7,241.9 286.0,241.9 286.2,241.9 286.5,241.9 286.8,241.9 287.1,241.9 287.4,241.9 287.6,241.9 287.9,241.9 288.2,241.9 288.5,241.9 288.8,241.9 289.1,241.9 289.3,241.9 289.6,241.9 289.9,241.9 290.2,241.9 290.5,241.9 290.7,241.9 291.0,241.9 291.3,241.9 291.6,241.9 291.9,241.9 292.2,241.9 292.4,241.9 292.7,241.9 293.0,241.9 293.3,241.9 293.6,241.9 293.8,241.9 294.1,241.9 294.4,241.9 294.7,241.9 295.0,241.9 295.3,241.9 295.5,241.9 295.8,241.9 296.1,241.9 296.4,241.9 296.7,241.9 296.9,241.9 297.2,241.9 297.5,241.9 297.8,241.9 298.1,241.9 298.3,241.9 298.6,241.9 298.9,241.9 299.2,241.9 299.5,241.9 299.8,241.9 300.0,241.9 300.3,241.9 300.6,241.9 300.9,241.9 301.2,241.9 301.4,241.9 301.7,241.9 302.0,241.9 302.3,241.9 302.6,241.9 302.9,241.9 303.1,241.9 303.4,241.9 303.7,241.9 304.0,241.9 304.3,241.9 304.5,241.9 304.8,241.9 305.1,241.9 305.4,241.9 305.7,241.9 305.9,241.9 306.2,241.9 306.5,241.9 306.8,241.9 307.1,241.9 307.4,241.9 307.6,241.9 307.9,241.9 308.2,241.9 308.5,241.9 308.8,241.9 309.0,241.9 309.3,241.9 309.6,241.9 309.9,241.9 310.2,241.9 310.5,241.9 310.7,241.9" fill="none" stroke="#cc6262" stroke-width="0.8" stroke-linejoin="round" />
<polyline points="57.6,166.3 57.9,166.3 58.2,166.4 58.5,166.4 58.7,166.5 59.0,166.5 59.3,166.5 59.6,166.6 59.9,166.6 60.2,166.6 60.4,166.6 60.7,166.7 61.0,166.7 61.3,166.7 61.6,166.7 61.8,166.7 62.1,166.7 62.4,166.7 62.7,166.7 63.0,166.7 63.2,166.7 63.5,166.7 63.8,166.7 64.1,166.7 64.4,166.6 64.7,166.6 64.9,166.6 65.2,166.6 65.5,166.5 65.8,166.5 66.1,166.4 66.3,166.4 66.6,166.3 66.9,166.2 67.2,166.2 67.5,166.1 67.8,166.0 68.0,165.9 68.3,165.8 68.6,165.7 68.9,165.6 69.2,165.5 69.4,165.4 69.7,165.3 70.0,165.1 70.3,165.0 70.6,164.9 70.9,164.7 71.1,164.5 71.4,164.4 71.7,164.2 72.0,164.0 72.3,163.8 72.5,163.6 72.8,163.4 73.1,163.2 73.4,163.0 73.7,162.7 73.9,162.5 74.2,162.2 74.5,162.0 74.8,161.7 75.1,161.4 75.4,161.1 75.6,160.8 75.9,160.5 76.2,160.2 76.5,159.9 76.8,159.6 77.0,159.2 77.3,158.9 77.6,158.5 77.9,158.1 78.2,157.7 78.5,157.3 78.7,156.9 79.0,156.5 79.3,156.1 79.6,155.7 79.9,155.2 80.1,154.8 80.4,154.3 80.7,153.8 81.0,153.4 81.3,152.9 81.5,152.4 81.8,151.9 82.1,151.4 82.4,150.8 82.7,150.3 83.0,149.8 83.2,149.2 83.5,148.6 83.8,148.1 84.1,147.5 84.4,146.9 84.6,146.3 84.9,145.8 85.2,145.2 85.5,144.5 85.8,143.9 86.1,143.3 86.3,142.7 86.6,142.1 86.9,141.4 87.2,140.8 87.5,140.2 87.7,139.5 88.0,138.9 88.3,138.2 88.6,137.6 88.9,136.9 89.2,136.3 89.4,135.6 89.7,135.0 90.0,134.3 90.3,133.7 90.6,133.1 90.8,132.4 91.1,131.8 91.4,131.1 91.7,130.5 92.0,129.9 92.2,129.2 92.5,128.6 92.8,128.0 93.1,127.4 93.4,126.8 93.7,126.2 93.9,125.6 94.2,125.0 94.5,124.5 94.8,123.9 95.1,123.4 95.3,122.8 95.6,122.3 95.9,121.8 96.2,121.3 96.5,120.8 96.8,120.3 97.0,119.9 97.3,119.4 97.6,119.0 97.9,118.6 98.2,118.2 98.4,117.8 98.7,117.4 99.0,117.1 99.3,116.8 99.6,116.5 99.9,116.2 100.1,115.9 100.4,115.6 100.7,115.4 101.0,115.2 101.3,115.0 101.5,114.8 101.8,114.7 102.1,114.6 102.4,114.5 102.7,114.4 102.9,114.3 103.2,114.3 103.5,114.3 103.8,114.3 104.1,114.3 104.4,114.4 104.6,114.4 104.9,114.5 105.2,114.7 105.5,114.8 105.8,115.0 106.0,115.1 106.3,115.3 106.6,115.5 106.9,115.8 107.2,116.0 107.5,116.3 107.7,116.6 108.0,116.9 108.3,117.3 108.6,117.6 108.9,118.0 109.1,118.4 109.4,118.8 109.7,119.2 110.0,119.6 110.3,120.1 110.5,120.6 110.8,121.0 111.1,121.5 111.4,122.1 111.7,122.6 112.0,123.1 112.2,123.7 112.5,124.3 112.8,124.9 113.1,125.5 113.4,126.1 113.6,126.7 113.9,127.3 114.2,128.0 114.5,128.6 114.8,129.3 115.1,130.0 115.3,130.7 115.6,131.4 115.9,132.1 116.2,132.8 116.5,133.5 116.7,134.2 117.0,134.9 117.3,135.7 117.6,136.4 117.9,137.2 118.2,137.9 118.4,138.7 118.7,139.4 119.0,140.2 119.3,141.0 119.6,141.7 119.8,142.5 120.1,143.3 120.4,144.0 120.7,144.8 121.0,145.6 121.2,146.3 121.5,147.1 121.8,147.9 122.1,148.6 122.4,149.4 122.7,150.2 122.9,150.9 123.2,151.7 123.5,152.5 123.8,153.2 124.1,154.0 124.3,154.7 124.6,155.4 124.9,156.2 125.2,156.9 125.5,157.6 125.8,158.4 126.0,159.1 126.3,159.8 126.6,160.5 126.9,161.2 127.2,161.9 127.4,162.6 127.7,163.3 128.0,163.9 128.3,164.6 128.6,165.2 128.9,165.9 129.1,166.5 129.4,167.2 129.7,167.8 130.0,168.4 130.3,169.0 130.5,169.6 130.8,170.2 131.1,170.8 131.4,171.4 131.7,171.9 131.9,172.5 132.2,173.0 132.5,173.6 132.8,174.1 133.1,174.6 133.4,175.2 133.6,175.7 133.9,176.2 134.2,176.6 134.5,177.1 134.8,177.6 135.0,178.1 135.3,178.5 135.6,179.0 135.9,179.4 136.2,179.8 136.5,180.2 136.7,180.6 137.0,181.0 137.3,181.4 137.6,181.8 137.9,182.2 138.1,182.6 138.4,182.9 138.7,183.3 139.0,183.6 139.3,184.0 139.6,184.3 139.8,184.6 140.1,185.0 140.4,185.3 140.7,185.6 141.0,185.9 141.2,186.1 141.5,186.4 141.8,186.7 142.1,187.0 142.4,187.2 142.6,187.5 142.9,187.7 143.2,188.0 143.5,188.2 143.8,188.5 144.1,188.7 144.3,188.9 144.6,189.1 144.9,189.3 145.2,189.6 145.5,189.8 145.7,190.0 146.0,190.2 146.3,190.3 146.6,190.5 146.9,190.7 147.2,190.9 147.4,191.1 147.7,191.2 148.0,191.4 148.3,191.6 148.6,191.7 148.8,191.9 149.1,192.0 149.4,192.2 149.7,192.3 150.0,192.5 150.2,192.6 150.5,192.8 150.8,192.9 151.1,193.1 151.4,193.2 151.7,193.3 151.9,193.5 152.2,193.6 152.5,193.7 152.8,193.9 153.1,194.0 153.3,194.1 153.6,194.2 153.9,194.4 154.2,194.5 154.5,194.6 154.8,194.7 155.0,194.8 155.3,195.0 155.6,195.1 155.9,195.2 156.2,195.3 156.4,195.4 156.7,195.5 157.0,195.6 157.3,195.7 157.6,195.9 157.9,196.0 158.1,196.1 158.4,196.2 158.7,196.3 159.0,196.4 159.3,196.5 159.5,196.6 159.8,196.7 160.1,196.8 160.4,196.9 160.7,197.0 160.9,197.1 161.2,197.2 161.5,197.3 161.8,197.4 162.1,197.5 162.4,197.6 162.6,197.7 162.9,197.8 163.2,197.9 163.5,198.0 163.8,198.1 164.0,198.2 164.3,198.3 164.6,198.4 164.9,198.5 165.2,198.6 165.5,198.7 165.7,198.8 166.0,198.9 166.3,199.0 166.6,199.1 166.9,199.2 167.1,199.3 167.4,199.4 167.7,199.5 168.0,199.6 168.3,199.7 168.6,199.9 168.8,200.0 169.1,200.1 169.4,200.2 169.7,200.3 170.0,200.4 170.2,200.5 170.5,200.6 170.8,200.8 171.1,200.9 171.4,201.0 171.6,201.1 171.9,201.3 172.2,201.4 172.5,201.5 172.8,201.6 173.1,201.8 173.3,201.9 173.6,202.0 173.9,202.2 174.2,202.3 174.5,202.5 174.7,202.6 175.0,202.8 175.3,202.9 175.6,203.1 175.9,203.2 176.2,203.4 176.4,203.5 176.7,203.7 177.0,203.8 177.3,204.0 177.6,204.1 177.8,204.3 178.1,204.5 178.4,204.6 178.7,204.8 179.0,205.0 179.2,205.1 179.5,205.3 179.8,205.4 180.1,205.6 180.4,205.8 180.7,205.9 180.9,206.1 181.2,206.3 181.5,206.5 181.8,206.6 182.1,206.8 182.3,207.0 182.6,207.1 182.9,207.3 183.2,207.5 183.5,207.6 183.8,207.8 184.0,208.0 184.3,208.1 184.6,208.3 184.9,208.5 185.2,208.7 185.4,208.8 185.7,209.0 186.0,209.2 186.3,209.3 186.6,209.5 186.9,209.6 187.1,209.8 187.4,210.0 187.7,210.1 188.0,210.3 188.3,210.5 188.5,210.6 188.8,210.8 189.1,211.0 189.4,211.1 189.7,211.3 189.9,211.5 190.2,211.6 190.5,211.8 190.8,212.0 191.1,212.1 191.4,212.3 191.6,212.5 191.9,212.6 192.2,212.8 192.5,213.0 192.8,213.1 193.0,213.3 193.3,213.5 193.6,213.6 193.9,213.8 194.2,214.0 194.5,214.1 194.7,214.3 195.0,214.5 195.3,214.6 195.6,214.8 195.9,215.0 196.1,215.2 196.4,215.3 196.7,215.5 197.0,215.7 197.3,215.8 197.6,216.0 197.8,216.2 198.1,216.4 198.4,216.5 198.7,216.7 199.0,216.9 199.2,217.0 199.5,217.2 199.8,217.4 200.1,217.5 200.4,217.7 200.6,217.9 200.9,218.1 201.2,218.2 201.5,218.4 201.8,218.6 202.1,218.7 202.3,218.9 202.6,219.1 202.9,219.2 203.2,219.4 203.5,219.6 203.7,219.8 204.0,219.9 204.3,220.1 204.6,220.3 204.9,220.4 205.2,220.6 205.4,220.8 205.7,221.0 206.0,221.1 206.3,221.3 206.6,221.5 206.8,221.7 207.1,221.8 207.4,222.0 207.7,222.2 208.0,222.4 208.2,222.5 208.5,222.7 208.8,222.9 209.1,223.1 209.4,223.2 209.7,223.4 209.9,223.6 210.2,223.8 210.5,223.9 210.8,224.1 211.1,224.3 211.3,224.5 211.6,224.6 211.9,224.8 212.2,225.0 212.5,225.1 212.8,225.3 213.0,225.5 213.3,225.7 213.6,225.8 213.9,226.0 214.2,226.2 214.4,226.3 214.7,226.5 215.0,226.7 215.3,226.9 215.6,227.0 215.9,227.2 216.1,227.4 216.4,227.5 216.7,227.7 217.0,227.9 217.3,228.0 217.5,228.2 217.8,228.4 218.1,228.5 218.4,228.7 218.7,228.8 218.9,229.0 219.2,229.2 219.5,229.3 219.8,229.5 220.1,229.7 220.4,229.8 220.6,230.0 220.9,230.2 221.2,230.3 221.5,230.5 221.8,230.7 222.0,230.8 222.3,231.0 222.6,231.2 222.9,231.3 223.2,231.5 223.5,231.7 223.7,231.8 224.0,232.0 224.3,232.2 224.6,232.3 224.9,232.5 225.1,232.7 225.4,232.8 225.7,233.0 226.0,233.1 226.3,233.3 226.6,233.5 226.8,233.6 227.1,233.8 227.4,233.9 227.7,234.1 228.0,234.3 228.2,234.4 228.5,234.6 228.8,234.7 229.1,234.9 229.4,235.0 229.6,235.2 229.9,235.3 230.2,235.5 230.5,235.6 230.8,235.7 231.1,235.9 231.3,236.0 231.6,236.2 231.9,236.3 232.2,236.4 232.5,236.6 232.7,236.7 233.0,236.8 233.3,237.0 233.6,237.1 233.9,237.2 234.2,237.3 234.4,237.4 234.7,237.6 235.0,237.7 235.3,237.8 235.6,237.9 235.8,238.0 236.1,238.2 236.4,238.3 236.7,238.4 237.0,238.5 237.2,238.6 237.5,238.7 237.8,238.8 238.1,238.9 238.4,239.0 238.7,239.1 238.9,239.2 239.2,239.2 239.5,239.3 239.8,239.4 240.1,239.4 240.3,239.5 240.6,239.5 240.9,239.6 241.2,239.6 241.5,239.7 241.8,239.7 242.0,239.8 242.3,239.8 242.6,239.8 242.9,239.9 243.2,239.9 243.4,240.0 243.7,240.0 244.0,240.1 244.3,240.1 244.6,240.1 244.9,240.2 245.1,240.2 245.4,240.2 245.7,240.3 246.0,240.3 246.3,240.3 246.5,240.4 246.8,240.4 247.1,240.4 247.4,240.4 247.7,240.5 247.9,240.5 248.2,240.5 248.5,240.5 248.8,240.5 249.1,240.5 249.4,240.6 249.6,240.6 249.9,240.6 250.2,240.6 250.5,240.6 250.8,240.6 251.0,240.6 251.3,240.6 251.6,240.6 251.9,240.6 252.2,240.7 252.5,240.7 252.7,240.7 253.0,240.7 253.3,240.7 253.6,240.7 253.9,240.7 254.1,240.7 254.4,240.7 254.7,240.7 255.0,240.7 255.3,240.7 255.6,240.7 255.8,240.7 256.1,240.8 256.4,240.8 256.7,240.8 257.0,240.8 257.2,240.8 257.5,240.8 257.8,240.8 258.1,240.8 258.4,240.8 258.6,240.8 258.9,240.8 259.2,240.8 259.5,240.8 259.8,240.8 260.1,240.8 260.3,240.8 260.6,240.8 260.9,240.8 261.2,240.8 261.5,240.8 261.7,240.8 262.0,240.8 262.3,240.9 262.6,240.9 262.9,240.9 263.2,240.9 263.4,240.9 263.7,240.9 264.0,240.9 264.3,240.9 264.6,240.9 264.8,240.9 265.1,240.9 265.4,240.9 265.7,240.9 266.0,240.9 266.3,240.9 266.5,240.9 266.8,240.9 267.1,240.9 267.4,240.9 267.7,240.9 267.9,240.9 268.2,240.9 268.5,240.9 268.8,240.9 269.1,240.9 269.3,240.9 269.6,240.9 269.9,240.9 270.2,240.9 270.5,240.9 270.8,240.9 271.0,240.9 271.3,240.9 271.6,240.9 271.9,241.0 272.2,241.0 272.4,241.0 272.7,241.0 273.0,241.0 273.3,241.0 273.6,241.0 273.9,241.0 274.1,241.0 274.4,241.0 274.7,241.0 275.0,241.0 275.3,241.0 275.5,241.0 275.8,241.0 276.1,241.0 276.4,241.0 276.7,241.0 276.9,241.0 277.2,241.0 277.5,241.0 277.8,241.0 278.1,241.0 278.4,241.0 278.6,241.0 278.9,241.0 279.2,241.0 279.5,241.0 279.8,241.0 280.0,241.0 280.3,241.0 280.6,241.0 280.9,241.0 281.2,241.0 281.5,241.0 281.7,241.0 282.0,241.0 282.3,241.0 282.6,241.0 282.9,241.0 283.1,241.0 283.4,241.0 283.7,241.0 284.0,241.0 284.3,241.0 284.6,241.0 284.8,241.0 285.1,241.0 285.4,241.0 285.7,241.0 286.0,241.0 286.2,241.0 286.5,241.0 286.8,241.0 287.1,241.0 287.4,241.0 287.6,241.0 287.9,241.0 288.2,241.0 288.5,241.0 288.8,241.0 289.1,241.0 289.3,241.1 289.6,241.1 289.9,241.1 290.2,241.1 290.5,241.1 290.7,241.1 291.0,241.1 291.3,241.1 291.6,241.1 291.9,241.1 292.2,241.1 292.4,241.1 292.7,241.1 293.0,241.1 293.3,241.1 293.6,241.1 293.8,241.1 294.1,241.1 294.4,241.1 294.7,241.1 295.0,241.1 295.3,241.1 295.5,241.1 295.8,241.1 296.1,241.1 296.4,241.1 296.7,241.1 296.9,241.1 297.2,241.1 297.5,241.1 297.8,241.1 298.1,241.1 298.3,241.1 298.6,241.1 298.9,241.1 299.2,241.1 299.5,241.1 299.8,241.1 300.0,241.1 300.3,241.1 300.6,241.1 300.9,241.1 301.2,241.1 301.4,241.1 301.7,241.1 302.0,241.1 302.3,241.1 302.6,241.1 302.9,241.1 303.1,241.1 303.4,241.1 303.7,241.1 304.0,241.1 304.3,241.1 304.5,241.1 304.8,241.1 305.1,241.1 305.4,241.1 305.7,241.1 305.9,241.1 306.2,241.1 306.5,241.1 306.8,241.1 307.1,241.1 307.4,241.1 307.6,241.1 307.9,241.1 308.2,241.1 308.5,241.1 308.8,241.1 309.0,241.1 309.3,241.1 309.6,241.1 309.9,241.1 310.2,241.1 310.5,241.1 310.7,241.1" fill="none" stroke="#6e98d6" stroke-width="1.0" stroke-linejoin="round" />
<polyline points="104.1,179.7 104.4,179.8 104.6,179.9 104.9,179.9 105.2,180.0 105.5,180.1 105.8,180.2 106.0,180.2 106.3,180.3 106.6,180.4 106.9,180.4 107.2,180.5 107.5,180.5 107.7,180.6 108.0,180.7 108.3,180.7 108.6,180.8 108.9,180.8 109.1,180.9 109.4,180.9 109.7,181.0 110.0,181.0 110.3,181.1 110.5,181.1 110.8,181.1 111.1,181.1 111.4,181.2 111.7,181.2 112.0,181.2 112.2,181.2 112.5,181.2 112.8,181.2 113.1,181.1 113.4,181.1 113.6,181.1 113.9,181.0 114.2,181.0 114.5,180.9 114.8,180.8 115.1,180.7 115.3,180.6 115.6,180.5 115.9,180.3 116.2,180.2 116.5,180.0 116.7,179.8 117.0,179.6 117.3,179.4 117.6,179.1 117.9,178.8 118.2,178.5 118.4,178.2 118.7,177.9 119.0,177.5 119.3,177.1 119.6,176.7 119.8,176.2 120.1,175.7 120.4,175.2 120.7,174.7 121.0,174.1 121.2,173.5 121.5,172.9 121.8,172.2 122.1,171.5 122.4,170.7 122.7,170.0 122.9,169.2 123.2,168.3 123.5,167.5 123.8,166.6 124.1,165.7 124.3,164.7 124.6,163.7 124.9,162.7 125.2,161.7 125.5,160.6 125.8,159.5 126.0,158.4 126.3,157.3 126.6,156.1 126.9,155.0 127.2,153.8 127.4,152.6 127.7,151.4 128.0,150.2 128.3,149.0 128.6,147.8 128.9,146.6 129.1,145.4 129.4,144.2 129.7,143.0 130.0,141.9 130.3,140.8 130.5,139.7 130.8,138.6 131.1,137.6 131.4,136.5 131.7,135.6 131.9,134.7 132.2,133.8 132.5,133.0 132.8,132.2 133.1,131.5 133.4,130.8 133.6,130.2 133.9,129.7 134.2,129.2 134.5,128.8 134.8,128.5 135.0,128.2 135.3,128.1 135.6,128.0 135.9,127.9 136.2,128.0 136.5,128.1 136.7,128.3 137.0,128.5 137.3,128.7 137.6,129.0 137.9,129.4 138.1,129.8 138.4,130.2 138.7,130.7 139.0,131.2 139.3,131.8 139.6,132.4 139.8,133.1 140.1,133.8 140.4,134.5 140.7,135.3 141.0,136.0 141.2,136.9 141.5,137.7 141.8,138.6 142.1,139.5 142.4,140.5 142.6,141.4 142.9,142.4 143.2,143.4 143.5,144.4 143.8,145.5 144.1,146.5 144.3,147.6 144.6,148.7 144.9,149.8 145.2,150.8 145.5,151.9 145.7,153.1 146.0,154.2 146.3,155.3 146.6,156.4 146.9,157.5 147.2,158.6 147.4,159.7 147.7,160.8 148.0,161.9 148.3,162.9 148.6,164.0 148.8,165.1 149.1,166.1 149.4,167.1 149.7,168.2 150.0,169.2 150.2,170.1 150.5,171.1 150.8,172.1 151.1,173.0 151.4,173.9 151.7,174.8 151.9,175.7 152.2,176.6 152.5,177.4 152.8,178.2 153.1,179.0 153.3,179.8 153.6,180.6 153.9,181.3 154.2,182.1 154.5,182.8 154.8,183.4 155.0,184.1 155.3,184.8 155.6,185.4 155.9,186.0 156.2,186.6 156.4,187.1 156.7,187.7 157.0,188.2 157.3,188.7 157.6,189.2 157.9,189.7 158.1,190.1 158.4,190.6 158.7,191.0 159.0,191.4 159.3,191.8 159.5,192.2 159.8,192.5 160.1,192.9 160.4,193.2 160.7,193.6 160.9,193.9 161.2,194.2 161.5,194.5 161.8,194.7 162.1,195.0 162.4,195.3 162.6,195.5 162.9,195.8 163.2,196.0 163.5,196.2 163.8,196.4 164.0,196.7 164.3,196.9 164.6,197.1 164.9,197.3 165.2,197.4 165.5,197.6 165.7,197.8 166.0,198.0 166.3,198.1 166.6,198.3 166.9,198.5 167.1,198.6 167.4,198.8 167.7,198.9 168.0,199.1 168.3,199.2 168.6,199.4 168.8,199.5 169.1,199.7 169.4,199.8 169.7,200.0 170.0,200.1 170.2,200.2 170.5,200.4 170.8,200.5 171.1,200.6 171.4,200.8 171.6,200.9 171.9,201.1 172.2,201.2 172.5,201.3 172.8,201.5 173.1,201.6 173.3,201.8 173.6,201.9 173.9,202.1 174.2,202.2 174.5,202.4 174.7,202.5 175.0,202.7 175.3,202.8" fill="none" stroke="#9ac272" stroke-width="1.0" stroke-linejoin="round" />
<polyline points="175.6,189.6 175.9,189.4 176.2,189.1 176.4,188.9 176.7,188.7 177.0,188.4 177.3,188.2 177.6,187.9 177.8,187.6 178.1,187.4 178.4,187.1 178.7,186.8 179.0,186.5 179.2,186.1 179.5,185.8 179.8,185.5 180.1,185.1 180.4,184.8 180.7,184.4 180.9,184.0 181.2,183.6 181.5,183.2 181.8,182.8 182.1,182.4 182.3,181.9 182.6,181.5 182.9,181.0 183.2,180.5 183.5,180.0 183.8,179.5 184.0,179.0 184.3,178.5 184.6,178.0 184.9,177.4 185.2,176.8 185.4,176.3 185.7,175.7 186.0,175.1 186.3,174.5 186.6,173.9 186.9,173.2 187.1,172.6 187.4,171.9 187.7,171.2 188.0,170.6 188.3,169.9 188.5,169.2 188.8,168.4 189.1,167.7 189.4,167.0 189.7,166.2 189.9,165.5 190.2,164.7 190.5,163.9 190.8,163.2 191.1,162.4 191.4,161.6 191.6,160.8 191.9,160.0 192.2,159.1 192.5,158.3 192.8,157.5 193.0,156.6 193.3,155.8 193.6,154.9 193.9,154.0 194.2,153.2 194.5,152.3 194.7,151.4 195.0,150.5 195.3,149.6 195.6,148.8 195.9,147.9 196.1,147.0 196.4,146.1 196.7,145.2 197.0,144.3 197.3,143.4 197.6,142.5 197.8,141.6 198.1,140.7 198.4,139.8 198.7,138.9 199.0,138.0 199.2,137.1 199.5,136.2 199.8,135.4 200.1,134.5 200.4,133.6 200.6,132.8 200.9,131.9 201.2,131.1 201.5,130.2 201.8,129.4 202.1,128.6 202.3,127.8 202.6,127.0 202.9,126.2 203.2,125.4 203.5,124.7 203.7,123.9 204.0,123.2 204.3,122.5 204.6,121.8 204.9,121.1 205.2,120.5 205.4,119.9 205.7,119.2 206.0,118.6 206.3,118.1 206.6,117.5 206.8,117.0 207.1,116.5 207.4,116.0 207.7,115.5 208.0,115.1 208.2,114.7 208.5,114.3 208.8,113.9 209.1,113.6 209.4,113.3 209.7,113.0 209.9,112.7 210.2,112.5 210.5,112.3 210.8,112.2 211.1,112.0 211.3,111.9 211.6,111.9 211.9,111.8 212.2,111.8 212.5,111.8 212.8,111.9 213.0,112.0 213.3,112.1 213.6,112.2 213.9,112.4 214.2,112.6 214.4,112.8 214.7,113.0 215.0,113.3 215.3,113.6 215.6,113.9 215.9,114.2 216.1,114.5 216.4,114.9 216.7,115.3 217.0,115.6 217.3,116.1 217.5,116.5 217.8,116.9 218.1,117.4 218.4,117.9 218.7,118.4 218.9,118.9 219.2,119.5 219.5,120.0 219.8,120.6 220.1,121.2 220.4,121.8 220.6,122.4 220.9,123.1 221.2,123.7 221.5,124.4 221.8,125.1 222.0,125.8 222.3,126.5 222.6,127.3 222.9,128.0 223.2,128.8 223.5,129.6 223.7,130.3 224.0,131.1 224.3,132.0 224.6,132.8 224.9,133.6 225.1,134.5 225.4,135.3 225.7,136.2 226.0,137.1 226.3,138.0 226.6,138.8 226.8,139.7 227.1,140.7 227.4,141.6 227.7,142.5 228.0,143.4 228.2,144.4 228.5,145.3 228.8,146.3 229.1,147.2 229.4,148.2 229.6,149.1 229.9,150.1 230.2,151.1 230.5,152.0 230.8,153.0 231.1,154.0 231.3,155.0 231.6,155.9 231.9,156.9 232.2,157.9 232.5,158.9 232.7,159.9 233.0,160.8 233.3,161.8 233.6,162.8 233.9,163.8 234.2,164.7 234.4,165.7 234.7,166.7 235.0,167.7 235.3,168.6 235.6,169.6 235.8,170.6 236.1,171.5 236.4,172.5 236.7,173.5 237.0,174.4 237.2,175.4 237.5,176.3 237.8,177.3 238.1,178.2 238.4,179.1 238.7,180.0 238.9,180.9 239.2,181.8 239.5,182.7 239.8,183.6 240.1,184.4 240.3,185.3 240.6,186.1 240.9,187.0 241.2,187.8 241.5,188.6 241.8,189.4 242.0,190.3 242.3,191.1 242.6,191.9 242.9,192.7 243.2,193.5 243.4,194.2 243.7,195.0 244.0,195.8 244.3,196.5 244.6,197.3 244.9,198.0 245.1,198.8 245.4,199.5 245.7,200.2 246.0,200.9 246.3,201.6 246.5,202.3 246.8,203.0 247.1,203.7 247.4,204.3 247.7,205.0 247.9,205.6 248.2,206.3 248.5,206.9 248.8,207.5 249.1,208.1 249.4,208.7 249.6,209.3 249.9,209.9 250.2,210.5 250.5,211.1 250.8,211.6 251.0,212.2 251.3,212.7 251.6,213.3 251.9,213.8 252.2,214.3 252.5,214.8 252.7,215.3 253.0,215.8 253.3,216.3 253.6,216.8 253.9,217.3 254.1,217.7 254.4,218.2 254.7,218.7 255.0,219.1 255.3,219.5 255.6,220.0 255.8,220.4 256.1,220.8 256.4,221.2 256.7,221.6 257.0,222.0 257.2,222.4 257.5,222.8 257.8,223.1 258.1,223.5 258.4,223.9 258.6,224.2 258.9,224.6 259.2,224.9 259.5,225.2 259.8,225.6 260.1,225.9 260.3,226.2 260.6,226.5 260.9,226.8 261.2,227.1 261.5,227.4 261.7,227.7 262.0,227.9 262.3,228.2 262.6,228.5 262.9,228.7 263.2,229.0 263.4,229.2 263.7,229.5 264.0,229.7 264.3,230.0 264.6,230.2 264.8,230.4 265.1,230.6 265.4,230.8 265.7,231.1 266.0,231.3 266.3,231.5 266.5,231.7 266.8,231.8 267.1,232.0 267.4,232.2 267.7,232.4 267.9,232.6 268.2,232.7 268.5,232.9 268.8,233.1 269.1,233.2 269.3,233.4 269.6,233.5 269.9,233.7 270.2,233.8 270.5,234.0 270.8,234.1 271.0,234.2 271.3,234.4 271.6,234.5 271.9,234.6 272.2,234.7 272.4,234.9 272.7,235.0 273.0,235.1 273.3,235.2 273.6,235.3 273.9,235.4 274.1,235.5 274.4,235.6 274.7,235.7 275.0,235.8 275.3,235.9 275.5,236.0 275.8,236.1 276.1,236.2 276.4,236.2 276.7,236.3 276.9,236.4 277.2,236.5 277.5,236.6 277.8,236.6 278.1,236.7 278.4,236.8 278.6,236.8 278.9,236.9 279.2,237.0 279.5,237.0 279.8,237.1 280.0,237.2 280.3,237.2 280.6,237.3 280.9,237.3 281.2,237.4 281.5,237.4 281.7,237.5 282.0,237.5 282.3,237.6 282.6,237.6 282.9,237.7 283.1,237.7 283.4,237.8 283.7,237.8 284.0,237.9 284.3,237.9 284.6,237.9 284.8,238.0 285.1,238.0 285.4,238.1 285.7,238.1 286.0,238.1 286.2,238.2 286.5,238.2 286.8,238.2 287.1,238.3 287.4,238.3 287.6,238.3 287.9,238.4 288.2,238.4 288.5,238.4 288.8,238.4 289.1,238.5 289.3,238.5 289.6,238.5 289.9,238.5 290.2,238.6 290.5,238.6 290.7,238.6 291.0,238.6 291.3,238.7 291.6,238.7 291.9,238.7 292.2,238.7 292.4,238.7 292.7,238.8 293.0,238.8 293.3,238.8 293.6,238.8 293.8,238.8 294.1,238.9 294.4,238.9 294.7,238.9 295.0,238.9 295.3,238.9 295.5,239.0 295.8,239.0 296.1,239.0 296.4,239.0 296.7,239.0 296.9,239.0 297.2,239.0 297.5,239.1 297.8,239.1 298.1,239.1 298.3,239.1 298.6,239.1 298.9,239.1 299.2,239.1 299.5,239.2 299.8,239.2 300.0,239.2 300.3,239.2 300.6,239.2 300.9,239.2 301.2,239.2 301.4,239.3" fill="none" stroke="#b8584a" stroke-width="1.0" stroke-linejoin="round" />
<polyline points="215.9,226.5 216.1,226.6 216.4,226.8 216.7,226.9 217.0,227.0 217.3,227.1 217.5,227.2 217.8,227.3 218.1,227.4 218.4,227.5 218.7,227.6 218.9,227.6 219.2,227.7 219.5,227.7 219.8,227.7 220.1,227.7 220.4,227.7 220.6,227.7 220.9,227.6 221.2,227.5 221.5,227.4 221.8,227.3 222.0,227.1 222.3,226.9 222.6,226.7 222.9,226.4 223.2,226.0 223.5,225.7 223.7,225.2 224.0,224.7 224.3,224.2 224.6,223.6 224.9,222.9 225.1,222.1 225.4,221.3 225.7,220.4 226.0,219.4 226.3,218.3 226.6,217.1 226.8,215.9 227.1,214.5 227.4,213.0 227.7,211.4 228.0,209.8 228.2,208.0 228.5,206.1 228.8,204.1 229.1,202.0 229.4,199.8 229.6,197.5 229.9,195.1 230.2,192.5 230.5,189.9 230.8,187.2 231.1,184.4 231.3,181.5 231.6,178.6 231.9,175.6 232.2,172.5 232.5,169.4 232.7,166.3 233.0,163.1 233.3,159.9 233.6,156.8 233.9,153.6 234.2,150.5 234.4,147.4 234.7,144.4 235.0,141.4 235.3,138.6 235.6,135.8 235.8,133.2 236.1,130.7 236.4,128.4 236.7,126.2 237.0,124.2 237.2,122.3 237.5,120.7 237.8,119.3 238.1,118.1 238.4,117.2 238.7,116.4 238.9,115.9 239.2,115.7 239.5,115.7 239.8,115.9 240.1,116.4 240.3,117.2 240.6,118.1 240.9,119.3 241.2,120.8 241.5,122.4 241.8,124.3 242.0,126.4 242.3,128.6 242.6,131.0 242.9,133.6 243.2,136.3 243.4,139.2 243.7,142.1 244.0,145.2 244.3,148.3 244.6,151.5 244.9,154.8 245.1,158.1 245.4,161.4 245.7,164.7 246.0,168.1 246.3,171.4 246.5,174.7 246.8,177.9 247.1,181.1 247.4,184.2 247.7,187.3 247.9,190.3 248.2,193.2 248.5,196.1 248.8,198.8 249.1,201.4 249.4,204.0 249.6,206.4 249.9,208.7 250.2,210.9 250.5,213.0 250.8,215.1 251.0,217.0 251.3,218.7 251.6,220.4 251.9,222.0 252.2,223.5 252.5,224.9 252.7,226.2 253.0,227.4 253.3,228.6 253.6,229.6 253.9,230.6 254.1,231.5 254.4,232.3 254.7,233.0 255.0,233.7 255.3,234.4 255.6,235.0 255.8,235.5 256.1,236.0 256.4,236.4 256.7,236.8 257.0,237.2 257.2,237.5 257.5,237.8 257.8,238.1 258.1,238.3 258.4,238.5 258.6,238.7 258.9,238.9 259.2,239.1 259.5,239.2 259.8,239.3 260.1,239.4 260.3,239.5 260.6,239.6 260.9,239.7 261.2,239.8 261.5,239.9 261.7,239.9 262.0,240.0 262.3,240.0 262.6,240.1 262.9,240.1 263.2,240.1 263.4,240.2 263.7,240.2 264.0,240.2 264.3,240.3 264.6,240.3 264.8,240.3 265.1,240.3 265.4,240.3 265.7,240.4 266.0,240.4 266.3,240.4 266.5,240.4 266.8,240.4 267.1,240.4 267.4,240.5 267.7,240.5 267.9,240.5 268.2,240.5 268.5,240.5 268.8,240.5 269.1,240.5 269.3,240.5 269.6,240.5 269.9,240.6" fill="none" stroke="#9a90d2" stroke-width="1.0" stroke-linejoin="round" />
<polyline points="57.6,165.9 57.9,165.9 58.2,165.9 58.5,166.0 58.7,166.0 59.0,166.0 59.3,166.1 59.6,166.1 59.9,166.1 60.2,166.1 60.4,166.2 60.7,166.2 61.0,166.2 61.3,166.2 61.6,166.2 61.8,166.2 62.1,166.2 62.4,166.2 62.7,166.2 63.0,166.2 63.2,166.2 63.5,166.2 63.8,166.2 64.1,166.2 64.4,166.2 64.7,166.1 64.9,166.1 65.2,166.1 65.5,166.0 65.8,166.0 66.1,165.9 66.3,165.9 66.6,165.8 66.9,165.7 67.2,165.7 67.5,165.6 67.8,165.5 68.0,165.4 68.3,165.3 68.6,165.2 68.9,165.1 69.2,165.0 69.4,164.9 69.7,164.7 70.0,164.6 70.3,164.5 70.6,164.3 70.9,164.2 71.1,164.0 71.4,163.8 71.7,163.7 72.0,163.5 72.3,163.3 72.5,163.1 72.8,162.9 73.1,162.6 73.4,162.4 73.7,162.2 73.9,161.9 74.2,161.7 74.5,161.4 74.8,161.1 75.1,160.9 75.4,160.6 75.6,160.3 75.9,160.0 76.2,159.6 76.5,159.3 76.8,159.0 77.0,158.6 77.3,158.3 77.6,157.9 77.9,157.5 78.2,157.1 78.5,156.7 78.7,156.3 79.0,155.9 79.3,155.5 79.6,155.0 79.9,154.6 80.1,154.1 80.4,153.7 80.7,153.2 81.0,152.7 81.3,152.2 81.5,151.7 81.8,151.2 82.1,150.7 82.4,150.2 82.7,149.6 83.0,149.1 83.2,148.5 83.5,148.0 83.8,147.4 84.1,146.8 84.4,146.3 84.6,145.7 84.9,145.1 85.2,144.5 85.5,143.9 85.8,143.2 86.1,142.6 86.3,142.0 86.6,141.4 86.9,140.7 87.2,140.1 87.5,139.5 87.7,138.8 88.0,138.2 88.3,137.5 88.6,136.9 88.9,136.2 89.2,135.6 89.4,134.9 89.7,134.2 90.0,133.6 90.3,132.9 90.6,132.3 90.8,131.6 91.1,131.0 91.4,130.3 91.7,129.7 92.0,129.1 92.2,128.4 92.5,127.8 92.8,127.2 93.1,126.6 93.4,126.0 93.7,125.4 93.9,124.8 94.2,124.2 94.5,123.6 94.8,123.1 95.1,122.5 95.3,122.0 95.6,121.4 95.9,120.9 96.2,120.4 96.5,119.9 96.8,119.4 97.0,119.0 97.3,118.5 97.6,118.1 97.9,117.6 98.2,117.2 98.4,116.8 98.7,116.5 99.0,116.1 99.3,115.8 99.6,115.5 99.9,115.2 100.1,114.9 100.4,114.6 100.7,114.4 101.0,114.1 101.3,113.9 101.5,113.7 101.8,113.6 102.1,113.4 102.4,113.3 102.7,113.2 102.9,113.1 103.2,113.0 103.5,113.0 103.8,113.0 104.1,113.0 104.4,113.0 104.6,113.0 104.9,113.1 105.2,113.1 105.5,113.2 105.8,113.3 106.0,113.5 106.3,113.6 106.6,113.8 106.9,113.9 107.2,114.1 107.5,114.3 107.7,114.6 108.0,114.8 108.3,115.0 108.6,115.3 108.9,115.6 109.1,115.9 109.4,116.2 109.7,116.5 110.0,116.8 110.3,117.1 110.5,117.5 110.8,117.8 111.1,118.2 111.4,118.6 111.7,118.9 112.0,119.3 112.2,119.7 112.5,120.1 112.8,120.5 113.1,120.9 113.4,121.3 113.6,121.7 113.9,122.2 114.2,122.6 114.5,123.0 114.8,123.4 115.1,123.8 115.3,124.2 115.6,124.6 115.9,125.0 116.2,125.4 116.5,125.8 116.7,126.1 117.0,126.5 117.3,126.9 117.6,127.2 117.9,127.5 118.2,127.8 118.4,128.1 118.7,128.4 119.0,128.7 119.3,128.9 119.6,129.1 119.8,129.3 120.1,129.5 120.4,129.7 120.7,129.8 121.0,129.9 121.2,130.0 121.5,130.0 121.8,130.1 122.1,130.1 122.4,130.0 122.7,130.0 122.9,129.9 123.2,129.7 123.5,129.6 123.8,129.4 124.1,129.2 124.3,128.9 124.6,128.6 124.9,128.3 125.2,128.0 125.5,127.6 125.8,127.2 126.0,126.8 126.3,126.4 126.6,125.9 126.9,125.4 127.2,124.9 127.4,124.4 127.7,123.9 128.0,123.3 128.3,122.7 128.6,122.2 128.9,121.6 129.1,121.0 129.4,120.5 129.7,119.9 130.0,119.3 130.3,118.8 130.5,118.3 130.8,117.7 131.1,117.2 131.4,116.8 131.7,116.3 131.9,115.9 132.2,115.6 132.5,115.2 132.8,114.9 133.1,114.7 133.4,114.5 133.6,114.4 133.9,114.3 134.2,114.2 134.5,114.3 134.8,114.3 135.0,114.5 135.3,114.7 135.6,115.0 135.9,115.3 136.2,115.7 136.5,116.2 136.7,116.7 137.0,117.2 137.3,117.8 137.6,118.4 137.9,119.0 138.1,119.7 138.4,120.4 138.7,121.2 139.0,122.0 139.3,122.8 139.6,123.7 139.8,124.6 140.1,125.5 140.4,126.4 140.7,127.4 141.0,128.4 141.2,129.4 141.5,130.5 141.8,131.5 142.1,132.6 142.4,133.7 142.6,134.9 142.9,136.0 143.2,137.1 143.5,138.3 143.8,139.5 144.1,140.7 144.3,141.9 144.6,143.1 144.9,144.3 145.2,145.5 145.5,146.7 145.7,147.9 146.0,149.1 146.3,150.3 146.6,151.5 146.9,152.7 147.2,153.9 147.4,155.1 147.7,156.2 148.0,157.4 148.3,158.5 148.6,159.6 148.8,160.8 149.1,161.9 149.4,162.9 149.7,164.0 150.0,165.1 150.2,166.1 150.5,167.1 150.8,168.1 151.1,169.0 151.4,170.0 151.7,170.9 151.9,171.8 152.2,172.7 152.5,173.6 152.8,174.4 153.1,175.2 153.3,176.0 153.6,176.8 153.9,177.5 154.2,178.3 154.5,179.0 154.8,179.6 155.0,180.3 155.3,180.9 155.6,181.5 155.9,182.1 156.2,182.7 156.4,183.2 156.7,183.8 157.0,184.3 157.3,184.7 157.6,185.2 157.9,185.6 158.1,186.1 158.4,186.5 158.7,186.9 159.0,187.2 159.3,187.6 159.5,187.9 159.8,188.2 160.1,188.5 160.4,188.8 160.7,189.1 160.9,189.3 161.2,189.5 161.5,189.8 161.8,190.0 162.1,190.2 162.4,190.4 162.6,190.5 162.9,190.7 163.2,190.8 163.5,191.0 163.8,191.1 164.0,191.2 164.3,191.3 164.6,191.4 164.9,191.5 165.2,191.6 165.5,191.6 165.7,191.7 166.0,191.7 166.3,191.8 166.6,191.8 166.9,191.8 167.1,191.8 167.4,191.8 167.7,191.8 168.0,191.8 168.3,191.8 168.6,191.8 168.8,191.8 169.1,191.7 169.4,191.7 169.7,191.6 170.0,191.6 170.2,191.5 170.5,191.4 170.8,191.3 171.1,191.3 171.4,191.2 171.6,191.1 171.9,190.9 172.2,190.8 172.5,190.7 172.8,190.6 173.1,190.5 173.3,190.3 173.6,190.2 173.9,190.0 174.2,189.9 174.5,189.7 174.7,189.5 175.0,189.3 175.3,189.1 175.6,189.0 175.9,188.7 176.2,188.5 176.4,188.3 176.7,188.1 177.0,187.8 177.3,187.6 177.6,187.3 177.8,187.1 178.1,186.8 178.4,186.5 178.7,186.2 179.0,185.9 179.2,185.6 179.5,185.3 179.8,184.9 180.1,184.6 180.4,184.2 180.7,183.9 180.9,183.5 181.2,183.1 181.5,182.7 181.8,182.3 182.1,181.8 182.3,181.4 182.6,180.9 182.9,180.5 183.2,180.0 183.5,179.5 183.8,179.0 184.0,178.5 184.3,178.0 184.6,177.5 184.9,176.9 185.2,176.4 185.4,175.8 185.7,175.2 186.0,174.6 186.3,174.0 186.6,173.4 186.9,172.7 187.1,172.1 187.4,171.4 187.7,170.8 188.0,170.1 188.3,169.4 188.5,168.7 188.8,168.0 189.1,167.2 189.4,166.5 189.7,165.8 189.9,165.0 190.2,164.3 190.5,163.5 190.8,162.7 191.1,161.9 191.4,161.1 191.6,160.3 191.9,159.5 192.2,158.7 192.5,157.8 192.8,157.0 193.0,156.1 193.3,155.3 193.6,154.4 193.9,153.6 194.2,152.7 194.5,151.8 194.7,150.9 195.0,150.1 195.3,149.2 195.6,148.3 195.9,147.4 196.1,146.5 196.4,145.6 196.7,144.7 197.0,143.8 197.3,142.9 197.6,142.0 197.8,141.1 198.1,140.2 198.4,139.3 198.7,138.4 199.0,137.5 199.2,136.6 199.5,135.7 199.8,134.9 200.1,134.0 200.4,133.1 200.6,132.3 200.9,131.4 201.2,130.6 201.5,129.7 201.8,128.9 202.1,128.1 202.3,127.3 202.6,126.5 202.9,125.7 203.2,124.9 203.5,124.2 203.7,123.4 204.0,122.7 204.3,122.0 204.6,121.3 204.9,120.6 205.2,119.9 205.4,119.3 205.7,118.7 206.0,118.1 206.3,117.5 206.6,116.9 206.8,116.4 207.1,115.9 207.4,115.4 207.7,114.9 208.0,114.5 208.2,114.1 208.5,113.7 208.8,113.3 209.1,113.0 209.4,112.6 209.7,112.4 209.9,112.1 210.2,111.9 210.5,111.7 210.8,111.5 211.1,111.4 211.3,111.2 211.6,111.2 211.9,111.1 212.2,111.1 212.5,111.1 212.8,111.1 213.0,111.2 213.3,111.3 213.6,111.4 213.9,111.5 214.2,111.7 214.4,111.9 214.7,112.1 215.0,112.3 215.3,112.5 215.6,112.8 215.9,113.0 216.1,113.3 216.4,113.5 216.7,113.8 217.0,114.1 217.3,114.4 217.5,114.7 217.8,115.0 218.1,115.3 218.4,115.6 218.7,115.9 218.9,116.2 219.2,116.5 219.5,116.8 219.8,117.1 220.1,117.4 220.4,117.7 220.6,118.0 220.9,118.3 221.2,118.6 221.5,118.8 221.8,119.1 222.0,119.3 222.3,119.5 222.6,119.7 222.9,119.9 223.2,120.1 223.5,120.2 223.7,120.3 224.0,120.4 224.3,120.5 224.6,120.5 224.9,120.5 225.1,120.4 225.4,120.3 225.7,120.1 226.0,119.9 226.3,119.6 226.6,119.3 226.8,118.9 227.1,118.4 227.4,117.8 227.7,117.1 228.0,116.3 228.2,115.5 228.5,114.5 228.8,113.5 229.1,112.3 229.4,111.0 229.6,109.7 229.9,108.2 230.2,106.7 230.5,105.0 230.8,103.2 231.1,101.4 231.3,99.5 231.6,97.4 231.9,95.4 232.2,93.2 232.5,91.1 232.7,88.8 233.0,86.6 233.3,84.3 233.6,82.0 233.9,79.8 234.2,77.5 234.4,75.3 234.7,73.2 235.0,71.1 235.3,69.1 235.6,67.3 235.8,65.5 236.1,63.9 236.4,62.4 236.7,61.0 237.0,59.9 237.2,58.9 237.5,58.1 237.8,57.6 238.1,57.2 238.4,57.1 238.7,57.2 238.9,57.5 239.2,58.1 239.5,58.9 239.8,60.0 240.1,61.3 240.3,62.8 240.6,64.6 240.9,66.6 241.2,68.8 241.5,71.2 241.8,73.9 242.0,76.7 242.3,79.7 242.6,82.9 242.9,86.2 243.2,89.7 243.4,93.3 243.7,96.9 244.0,100.7 244.3,104.6 244.6,108.5 244.9,112.5 245.1,116.5 245.4,120.5 245.7,124.5 246.0,128.5 246.3,132.5 246.5,136.5 246.8,140.4 247.1,144.2 247.4,148.0 247.7,151.7 247.9,155.3 248.2,158.9 248.5,162.3 248.8,165.6 249.1,168.9 249.4,172.0 249.6,175.0 249.9,177.9 250.2,180.7 250.5,183.4 250.8,185.9 251.0,188.4 251.3,190.7 251.6,192.9 251.9,195.0 252.2,197.0 252.5,198.9 252.7,200.7 253.0,202.4 253.3,204.1 253.6,205.6 253.9,207.0 254.1,208.4 254.4,209.6 254.7,210.8 255.0,212.0 255.3,213.0 255.6,214.1 255.8,215.0 256.1,215.9 256.4,216.7 256.7,217.5 257.0,218.3 257.2,219.0 257.5,219.7 257.8,220.3 258.1,220.9 258.4,221.5 258.6,222.0 258.9,222.5 259.2,223.0 259.5,223.5 259.8,223.9 260.1,224.4 260.3,224.8 260.6,225.2 260.9,225.6 261.2,225.9 261.5,226.3 261.7,226.6 262.0,226.9 262.3,227.3 262.6,227.6 262.9,227.9 263.2,228.2 263.4,228.4 263.7,228.7 264.0,229.0 264.3,229.2 264.6,229.5 264.8,229.7 265.1,230.0 265.4,230.2 265.7,230.4 266.0,230.6 266.3,230.8 266.5,231.1 266.8,231.3 267.1,231.5 267.4,231.6 267.7,231.8 267.9,232.0 268.2,232.2 268.5,232.4 268.8,232.5 269.1,232.7 269.3,232.9 269.6,233.0 269.9,233.2 270.2,233.3 270.5,233.5 270.8,233.6 271.0,233.8 271.3,233.9 271.6,234.0 271.9,234.2 272.2,234.3 272.4,234.4 272.7,234.6 273.0,234.7 273.3,234.8 273.6,234.9 273.9,235.0 274.1,235.1 274.4,235.2 274.7,235.3 275.0,235.4 275.3,235.5 275.5,235.6 275.8,235.7 276.1,235.8 276.4,235.9 276.7,236.0 276.9,236.1 277.2,236.1 277.5,236.2 277.8,236.3 278.1,236.4 278.4,236.5 278.6,236.5 278.9,236.6 279.2,236.7 279.5,236.7 279.8,236.8 280.0,236.9 280.3,236.9 280.6,237.0 280.9,237.0 281.2,237.1 281.5,237.2 281.7,237.2 282.0,237.3 282.3,237.3 282.6,237.4 282.9,237.4 283.1,237.5 283.4,237.5 283.7,237.6 284.0,237.6 284.3,237.6 284.6,237.7 284.8,237.7 285.1,237.8 285.4,237.8 285.7,237.8 286.0,237.9 286.2,237.9 286.5,238.0 286.8,238.0 287.1,238.0 287.4,238.1 287.6,238.1 287.9,238.1 288.2,238.2 288.5,238.2 288.8,238.2 289.1,238.2 289.3,238.3 289.6,238.3 289.9,238.3 290.2,238.4 290.5,238.4 290.7,238.4 291.0,238.4 291.3,238.5 291.6,238.5 291.9,238.5 292.2,238.5 292.4,238.6 292.7,238.6 293.0,238.6 293.3,238.6 293.6,238.6 293.8,238.7 294.1,238.7 294.4,238.7 294.7,238.7 295.0,238.7 295.3,238.8 295.5,238.8 295.8,238.8 296.1,238.8 296.4,238.8 296.7,238.8 296.9,238.9 297.2,238.9 297.5,238.9 297.8,238.9 298.1,238.9 298.3,238.9 298.6,239.0 298.9,239.0 299.2,239.0 299.5,239.0 299.8,239.0 300.0,239.0 300.3,239.0 300.6,239.1 300.9,239.1 301.2,239.1 301.4,239.1 301.7,239.1 302.0,239.1 302.3,239.1 302.6,239.2 302.9,239.2 303.1,239.2 303.4,239.2 303.7,239.2 304.0,239.2 304.3,239.2 304.5,239.2 304.8,239.2 305.1,239.3 305.4,239.3 305.7,239.3 305.9,239.3 306.2,239.3 306.5,239.3 306.8,239.3 307.1,239.3 307.4,239.3 307.6,239.4 307.9,239.4 308.2,239.4 308.5,239.4 308.8,239.4 309.0,239.4 309.3,239.4 309.6,239.4 309.9,239.4 310.2,239.4 310.5,239.5 310.7,239.5" fill="none" stroke="#8a5a36" stroke-width="1.0" stroke-linejoin="round" />
<polyline points="49.6,164.2 50.2,163.3 50.7,165.5 51.3,167.9 51.9,166.4 52.5,168.5 53.0,164.8 53.6,160.2 54.2,167.1 54.8,167.7 55.3,163.7 55.9,164.3 56.5,165.3 57.0,169.2 57.6,166.0 58.2,163.4 58.8,171.0 59.3,167.8 59.9,173.1 60.5,170.9 61.1,173.0 61.6,167.1 62.2,170.9 62.8,165.2 63.3,165.6 63.9,166.9 64.5,175.4 65.1,168.1 65.6,166.2 66.2,165.5 66.8,171.4 67.4,167.4 67.9,169.1 68.5,168.2 69.1,161.1 69.6,167.8 70.2,164.6 70.8,160.9 71.4,166.0 71.9,163.9 72.5,162.7 73.1,162.4 73.7,166.7 74.2,161.4 74.8,156.1 75.4,166.3 75.9,156.8 76.5,158.8 77.1,160.9 77.7,150.4 78.2,154.2 78.8,160.6 79.4,155.1 80.0,152.3 80.5,154.2 81.1,150.0 81.7,151.8 82.2,148.0 82.8,144.1 83.4,150.7 84.0,146.3 84.5,147.6 85.1,144.2 85.7,147.8 86.3,144.3 86.8,141.6 87.4,136.3 88.0,134.1 88.5,141.9 89.1,138.6 89.7,131.9 90.3,140.3 90.8,133.4 91.4,130.7 92.0,124.4 92.6,125.2 93.1,127.7 93.7,126.6 94.3,125.0 94.8,117.3 95.4,123.4 96.0,121.9 96.6,118.4 97.1,119.2 97.7,118.6 98.3,121.2 98.8,116.3 99.4,117.2 100.0,110.7 100.6,112.0 101.1,114.1 101.7,111.1 102.3,114.5 102.9,109.2 103.4,112.9 104.0,110.7 104.6,117.6 105.1,111.7 105.7,119.4 106.3,120.9 106.9,114.8 107.4,117.4 108.0,113.8 108.6,106.6 109.2,118.5 109.7,118.3 110.3,115.9 110.9,115.5 111.4,118.6 112.0,119.4 112.6,116.8 113.2,118.2 113.7,124.7 114.3,122.0 114.9,122.3 115.5,127.1 116.0,123.0 116.6,127.9 117.2,121.8 117.7,125.3 118.3,126.3 118.9,129.3 119.5,128.0 120.0,135.4 120.6,132.5 121.2,127.2 121.8,136.5 122.3,125.5 122.9,134.9 123.5,125.4 124.0,131.0 124.6,124.5 125.2,126.3 125.8,131.7 126.3,120.6 126.9,119.0 127.5,123.6 128.1,123.3 128.6,121.8 129.2,123.8 129.8,115.0 130.3,120.0 130.9,117.2 131.5,119.1 132.1,117.7 132.6,119.4 133.2,109.6 133.8,114.6 134.4,110.4 134.9,114.2 135.5,117.2 136.1,116.6 136.6,118.4 137.2,117.5 137.8,120.2 138.4,121.3 138.9,126.9 139.5,126.5 140.1,119.2 140.7,129.8 141.2,133.2 141.8,130.2 142.4,128.5 142.9,141.4 143.5,139.2 144.1,143.2 144.7,149.8 145.2,143.0 145.8,148.3 146.4,150.4 147.0,155.8 147.5,153.8 148.1,159.8 148.7,160.6 149.2,166.4 149.8,169.0 150.4,161.7 151.0,170.5 151.5,169.4 152.1,172.5 152.7,175.7 153.3,177.6 153.8,175.0 154.4,179.9 155.0,180.7 155.5,181.3 156.1,178.3 156.7,181.2 157.3,183.3 157.8,187.7 158.4,191.6 159.0,183.7 159.6,184.3 160.1,189.1 160.7,187.1 161.3,186.7 161.8,186.9 162.4,187.0 163.0,192.4 163.6,185.4 164.1,195.8 164.7,188.3 165.3,189.8 165.9,188.5 166.4,184.8 167.0,186.3 167.6,196.1 168.1,198.1 168.7,188.8 169.3,195.4 169.9,191.6 170.4,188.3 171.0,197.3 171.6,198.9 172.2,189.9 172.7,190.4 173.3,191.2 173.9,189.9 174.4,192.9 175.0,194.9 175.6,189.6 176.2,192.1 176.7,194.1 177.3,185.7 177.9,187.3 178.5,185.0 179.0,189.5 179.6,187.6 180.2,188.2 180.7,187.0 181.3,182.2 181.9,185.0 182.5,179.9 183.0,179.0 183.6,171.8 184.2,183.4 184.7,173.9 185.3,176.4 185.9,174.9 186.5,179.0 187.0,174.0 187.6,168.2 188.2,169.9 188.8,167.8 189.3,167.7 189.9,160.9 190.5,163.7 191.0,170.1 191.6,162.9 192.2,165.9 192.8,169.0 193.3,157.2 193.9,148.6 194.5,151.6 195.1,154.3 195.6,151.6 196.2,142.1 196.8,143.9 197.3,142.5 197.9,141.0 198.5,138.9 199.1,134.2 199.6,133.3 200.2,132.8 200.8,135.7 201.4,128.2 201.9,131.0 202.5,122.8 203.1,129.9 203.6,124.2 204.2,122.2 204.8,125.7 205.4,113.1 205.9,112.8 206.5,118.7 207.1,113.1 207.7,113.6 208.2,123.7 208.8,112.4 209.4,112.9 209.9,111.8 210.5,115.6 211.1,112.3 211.7,111.8 212.2,106.7 212.8,109.9 213.4,111.3 214.0,105.9 214.5,114.0 215.1,113.8 215.7,119.6 216.2,107.6 216.8,110.4 217.4,111.2 218.0,112.7 218.5,115.4 219.1,115.6 219.7,117.9 220.3,118.4 220.8,118.0 221.4,113.2 222.0,117.2 222.5,119.9 223.1,122.2 223.7,122.7 224.3,114.5 224.8,118.6 225.4,120.1 226.0,121.2 226.6,123.4 227.1,118.6 227.7,113.8 228.3,116.8 228.8,114.1 229.4,111.6 230.0,107.5 230.6,110.4 231.1,101.7 231.7,100.0 232.3,89.2 232.9,90.8 233.4,81.2 234.0,73.1 234.6,75.3 235.1,72.0 235.7,65.0 236.3,61.7 236.9,61.6 237.4,52.8 238.0,44.1 238.6,50.4 239.2,49.6 239.7,54.0 240.3,52.3 240.9,63.2 241.4,69.3 242.0,67.9 242.6,83.8 243.2,84.4 243.7,90.8 244.3,103.6 244.9,110.7 245.5,113.8 246.0,129.9 246.6,139.4 247.2,150.1 247.7,152.5 248.3,154.4 248.9,163.2 249.5,176.6 250.0,182.2 250.6,186.4 251.2,188.4 251.8,194.8 252.3,197.3 252.9,200.6 253.5,206.1 254.0,208.0 254.6,209.7 255.2,213.1 255.8,212.9 256.3,209.6 256.9,216.0 257.5,219.4 258.1,227.1 258.6,220.5 259.2,230.2 259.8,229.1 260.3,221.6 260.9,223.0 261.5,226.9 262.1,233.6 262.6,229.7 263.2,231.7 263.8,227.8 264.4,220.7 264.9,230.9 265.5,236.2 266.1,238.8 266.6,234.5 267.2,235.8 267.8,241.0 268.4,235.9 268.9,242.4 269.5,232.7 270.1,233.6 270.6,233.8 271.2,241.2 271.8,237.0 272.4,240.2 272.9,241.6 273.5,241.6 274.1,246.2 274.7,247.1 275.2,237.0 275.8,241.8 276.4,240.1 276.9,236.6 277.5,249.3 278.1,245.1 278.7,240.9 279.2,240.0 279.8,243.7 280.4,237.4 281.0,241.3 281.5,247.9 282.1,246.7 282.7,238.9 283.2,240.5 283.8,251.4 284.4,236.7 285.0,240.2 285.5,236.8 286.1,244.8 286.7,244.5 287.3,248.4 287.8,231.7 288.4,244.1 289.0,236.1 289.5,246.4 290.1,242.8 290.7,251.2 291.3,245.4 291.8,239.2 292.4,249.4 293.0,238.9 293.6,242.3 294.1,248.6 294.7,246.2 295.3,246.0 295.8,244.2 296.4,246.5 297.0,247.8 297.6,245.5 298.1,248.8 298.7,250.0 299.3,244.4 299.9,240.1 300.4,251.2 301.0,244.2 301.6,247.2 302.1,248.8 302.7,240.4 303.3,246.7 303.9,237.5 304.4,248.0 305.0,242.7 305.6,245.5 306.2,247.9 306.7,241.8 307.3,245.2 307.9,241.8 308.4,244.8 309.0,249.5 309.6,245.1 310.2,244.4 310.7,240.2 311.3,248.8" fill="none" stroke="#fa1010" stroke-width="1.0" stroke-linejoin="round" />
<text x="61.80" y="51.00" font-size="28.5" font-weight="bold" fill="#000" text-anchor="start" >a</text>
<text x="155.00" y="48.00" font-size="21.3" font-weight="bold" fill="#0000f0" text-anchor="start" >Ni 2p</text>
<text x="76.60" y="101.60" font-size="21.3" font-weight="normal" fill="#000" text-anchor="start" >Sat.</text>
<text x="119.60" y="97.60" font-size="21.3" fill="#000">2p<tspan font-size="14.2" dx="0.6" dy="4.6">1/2</tspan></text>
<text x="185.00" y="101.40" font-size="21.3" font-weight="normal" fill="#000" text-anchor="start" >Sat.</text>
<text x="224.60" y="43.90" font-size="21.3" fill="#000">2p<tspan font-size="14.2" dx="0.6" dy="4.6">3/2</tspan></text>
<rect x="370.90" y="17.30" width="264.30" height="232.70" fill="none" stroke="#6e6e6e" stroke-width="1.1"/>
<line x1="367.90" y1="239.45" x2="370.90" y2="239.45" stroke="#505050" stroke-width="1.0"/>
<line x1="367.90" y1="209.75" x2="370.90" y2="209.75" stroke="#505050" stroke-width="1.0"/>
<line x1="367.90" y1="180.05" x2="370.90" y2="180.05" stroke="#505050" stroke-width="1.0"/>
<line x1="367.90" y1="150.35" x2="370.90" y2="150.35" stroke="#505050" stroke-width="1.0"/>
<line x1="367.90" y1="120.65" x2="370.90" y2="120.65" stroke="#505050" stroke-width="1.0"/>
<line x1="367.90" y1="90.95" x2="370.90" y2="90.95" stroke="#505050" stroke-width="1.0"/>
<line x1="367.90" y1="61.25" x2="370.90" y2="61.25" stroke="#505050" stroke-width="1.0"/>
<line x1="367.90" y1="31.55" x2="370.90" y2="31.55" stroke="#505050" stroke-width="1.0"/>
<line x1="365.40" y1="224.60" x2="370.90" y2="224.60" stroke="#505050" stroke-width="1.0"/>
<text x="365.10" y="224.80" font-size="12" font-weight="normal" fill="#1c1c1c" text-anchor="end" >4</text>
<line x1="365.40" y1="194.90" x2="370.90" y2="194.90" stroke="#505050" stroke-width="1.0"/>
<text x="365.10" y="195.10" font-size="12" font-weight="normal" fill="#1c1c1c" text-anchor="end" >6</text>
<line x1="365.40" y1="165.20" x2="370.90" y2="165.20" stroke="#505050" stroke-width="1.0"/>
<text x="365.10" y="165.40" font-size="12" font-weight="normal" fill="#1c1c1c" text-anchor="end" >8</text>
<line x1="365.40" y1="135.50" x2="370.90" y2="135.50" stroke="#505050" stroke-width="1.0"/>
<text x="365.10" y="135.70" font-size="12" font-weight="normal" fill="#1c1c1c" text-anchor="end" >10</text>
<line x1="365.40" y1="105.80" x2="370.90" y2="105.80" stroke="#505050" stroke-width="1.0"/>
<text x="365.10" y="106.00" font-size="12" font-weight="normal" fill="#1c1c1c" text-anchor="end" >12</text>
<line x1="365.40" y1="76.10" x2="370.90" y2="76.10" stroke="#505050" stroke-width="1.0"/>
<text x="365.10" y="76.30" font-size="12" font-weight="normal" fill="#1c1c1c" text-anchor="end" >14</text>
<line x1="365.40" y1="46.40" x2="370.90" y2="46.40" stroke="#505050" stroke-width="1.0"/>
<text x="365.10" y="46.60" font-size="12" font-weight="normal" fill="#1c1c1c" text-anchor="end" >16</text>
<line x1="625.93" y1="250.00" x2="625.93" y2="254.40" stroke="#505050" stroke-width="1.0"/>
<line x1="607.08" y1="250.00" x2="607.08" y2="254.40" stroke="#505050" stroke-width="1.0"/>
<line x1="597.65" y1="250.00" x2="597.65" y2="254.40" stroke="#505050" stroke-width="1.0"/>
<line x1="588.22" y1="250.00" x2="588.22" y2="254.40" stroke="#505050" stroke-width="1.0"/>
<line x1="569.38" y1="250.00" x2="569.38" y2="254.40" stroke="#505050" stroke-width="1.0"/>
<line x1="559.95" y1="250.00" x2="559.95" y2="254.40" stroke="#505050" stroke-width="1.0"/>
<line x1="550.53" y1="250.00" x2="550.53" y2="254.40" stroke="#505050" stroke-width="1.0"/>
<line x1="531.68" y1="250.00" x2="531.68" y2="254.40" stroke="#505050" stroke-width="1.0"/>
<line x1="522.25" y1="250.00" x2="522.25" y2="254.40" stroke="#505050" stroke-width="1.0"/>
<line x1="512.83" y1="250.00" x2="512.83" y2="254.40" stroke="#505050" stroke-width="1.0"/>
<line x1="493.97" y1="250.00" x2="493.97" y2="254.40" stroke="#505050" stroke-width="1.0"/>
<line x1="484.55" y1="250.00" x2="484.55" y2="254.40" stroke="#505050" stroke-width="1.0"/>
<line x1="475.12" y1="250.00" x2="475.12" y2="254.40" stroke="#505050" stroke-width="1.0"/>
<line x1="456.28" y1="250.00" x2="456.28" y2="254.40" stroke="#505050" stroke-width="1.0"/>
<line x1="446.85" y1="250.00" x2="446.85" y2="254.40" stroke="#505050" stroke-width="1.0"/>
<line x1="437.43" y1="250.00" x2="437.43" y2="254.40" stroke="#505050" stroke-width="1.0"/>
<line x1="418.58" y1="250.00" x2="418.58" y2="254.40" stroke="#505050" stroke-width="1.0"/>
<line x1="409.15" y1="250.00" x2="409.15" y2="254.40" stroke="#505050" stroke-width="1.0"/>
<line x1="399.72" y1="250.00" x2="399.72" y2="254.40" stroke="#505050" stroke-width="1.0"/>
<line x1="380.88" y1="250.00" x2="380.88" y2="254.40" stroke="#505050" stroke-width="1.0"/>
<line x1="371.45" y1="250.00" x2="371.45" y2="254.40" stroke="#505050" stroke-width="1.0"/>
<line x1="390.30" y1="250.00" x2="390.30" y2="258.30" stroke="#505050" stroke-width="1.0"/>
<text x="390.30" y="268.80" font-size="12" font-weight="normal" fill="#1c1c1c" text-anchor="middle" >248</text>
<line x1="428.00" y1="250.00" x2="428.00" y2="258.30" stroke="#505050" stroke-width="1.0"/>
<text x="428.00" y="268.80" font-size="12" font-weight="normal" fill="#1c1c1c" text-anchor="middle" >244</text>
<line x1="465.70" y1="250.00" x2="465.70" y2="258.30" stroke="#505050" stroke-width="1.0"/>
<text x="465.70" y="268.80" font-size="12" font-weight="normal" fill="#1c1c1c" text-anchor="middle" >240</text>
<line x1="503.40" y1="250.00" x2="503.40" y2="258.30" stroke="#505050" stroke-width="1.0"/>
<text x="503.40" y="268.80" font-size="12" font-weight="normal" fill="#1c1c1c" text-anchor="middle" >236</text>
<line x1="541.10" y1="250.00" x2="541.10" y2="258.30" stroke="#505050" stroke-width="1.0"/>
<text x="541.10" y="268.80" font-size="12" font-weight="normal" fill="#1c1c1c" text-anchor="middle" >232</text>
<line x1="578.80" y1="250.00" x2="578.80" y2="258.30" stroke="#505050" stroke-width="1.0"/>
<text x="578.80" y="268.80" font-size="12" font-weight="normal" fill="#1c1c1c" text-anchor="middle" >228</text>
<line x1="616.50" y1="250.00" x2="616.50" y2="258.30" stroke="#505050" stroke-width="1.0"/>
<text x="616.50" y="268.80" font-size="12" font-weight="normal" fill="#1c1c1c" text-anchor="middle" >224</text>
<text x="370.60" y="15.60" font-size="12" fill="#222">x 10<tspan font-size="12.6" dy="-5.6">3</tspan></text>
<text x="0" y="0" font-size="13" font-weight="bold" fill="#111" text-anchor="middle" transform="translate(340.20,130.40) rotate(-90)">Counts (s)</text>
<text x="502.70" y="281.60" font-size="12" font-weight="bold" fill="#111" text-anchor="middle" >Binding Energy (eV)</text>
<polyline points="448.7,224.7 449.0,224.7 449.2,224.7 449.5,224.7 449.7,224.7 450.0,224.7 450.2,224.7 450.4,224.7 450.7,224.7 450.9,224.7 451.2,224.7 451.4,224.7 451.7,224.7 451.9,224.7 452.1,224.7 452.4,224.7 452.6,224.7 452.9,224.7 453.1,224.7 453.4,224.7 453.6,224.7 453.9,224.7 454.1,224.7 454.3,224.7 454.6,224.7 454.8,224.7 455.1,224.7 455.3,224.7 455.6,224.7 455.8,224.7 456.0,224.7 456.3,224.7 456.5,224.7 456.8,224.7 457.0,224.7 457.3,224.7 457.5,224.7 457.8,224.7 458.0,224.7 458.2,224.7 458.5,224.7 458.7,224.7 459.0,224.7 459.2,224.7 459.5,224.7 459.7,224.7 459.9,224.7 460.2,224.7 460.4,224.7 460.7,224.7 460.9,224.7 461.2,224.7 461.4,224.7 461.6,224.7 461.9,224.7 462.1,224.7 462.4,224.7 462.6,224.7 462.9,224.7 463.1,224.7 463.4,224.7 463.6,224.7 463.8,224.7 464.1,224.7 464.3,224.7 464.6,224.7 464.8,224.7 465.1,224.7 465.3,224.7 465.5,224.7 465.8,224.7 466.0,224.7 466.3,224.7 466.5,224.7 466.8,224.7 467.0,224.7 467.3,224.7 467.5,224.7 467.7,224.7 468.0,224.7 468.2,224.7 468.5,224.7 468.7,224.7 469.0,224.7 469.2,224.7 469.4,224.7 469.7,224.7 469.9,224.7 470.2,224.7 470.4,224.7 470.7,224.7 470.9,224.7 471.2,224.7 471.4,224.7 471.6,224.7 471.9,224.7 472.1,224.7 472.4,224.7 472.6,224.7 472.9,224.7 473.1,224.7 473.3,224.7 473.6,224.7 473.8,224.7 474.1,224.7 474.3,224.7 474.6,224.7 474.8,224.7 475.0,224.7 475.3,224.7 475.5,224.7 475.8,224.7 476.0,224.7 476.3,224.7 476.5,224.7 476.8,224.7 477.0,224.7 477.2,224.7 477.5,224.7 477.7,224.7 478.0,224.7 478.2,224.7 478.5,224.7 478.7,224.7 478.9,224.7 479.2,224.7 479.4,224.7 479.7,224.7 479.9,224.7 480.2,224.7 480.4,224.7 480.7,224.7 480.9,224.7 481.1,224.7 481.4,224.7 481.6,224.7 481.9,224.7 482.1,224.7 482.4,224.7 482.6,224.7 482.8,224.7 483.1,224.7 483.3,224.7 483.6,224.7 483.8,224.7 484.1,224.7 484.3,224.7 484.6,224.7 484.8,224.7 485.0,224.7 485.3,224.7 485.5,224.7 485.8,224.7 486.0,224.7 486.3,224.7 486.5,224.7 486.7,224.7 487.0,224.7 487.2,224.7 487.5,224.7 487.7,224.7 488.0,224.7 488.2,224.7 488.5,224.7 488.7,224.7 488.9,224.7 489.2,224.7 489.4,224.7 489.7,224.7 489.9,224.7 490.2,224.7 490.4,224.7 490.6,224.7 490.9,224.7 491.1,224.7 491.4,224.7 491.6,224.7 491.9,224.7 492.1,224.7 492.3,224.7 492.6,224.7 492.8,224.7 493.1,224.7 493.3,224.7 493.6,224.7 493.8,224.7 494.1,224.7 494.3,224.7 494.5,224.7 494.8,224.7 495.0,224.7 495.3,224.7 495.5,224.7 495.8,224.7 496.0,224.7 496.2,224.7 496.5,224.7 496.7,224.7 497.0,224.7 497.2,224.7 497.5,224.7 497.7,224.7 498.0,224.7 498.2,224.7 498.4,224.7 498.7,224.7 498.9,224.7 499.2,224.7 499.4,224.7 499.7,224.7 499.9,224.7 500.1,224.7 500.4,224.7 500.6,224.7 500.9,224.7 501.1,224.7 501.4,224.7 501.6,224.7 501.9,224.7 502.1,224.7 502.3,224.7 502.6,224.7 502.8,224.7 503.1,224.7 503.3,224.7 503.6,224.7 503.8,224.7 504.0,224.7 504.3,224.7 504.5,224.7 504.8,224.7 505.0,224.7 505.3,224.7 505.5,224.7 505.7,224.7 506.0,224.7 506.2,224.7 506.5,224.7 506.7,224.7 507.0,224.7 507.2,224.7 507.5,224.7 507.7,224.7 507.9,224.7 508.2,224.7 508.4,224.7 508.7,224.7 508.9,224.7 509.2,224.7 509.4,224.7 509.6,224.7 509.9,224.7 510.1,224.7 510.4,224.7 510.6,224.7 510.9,224.7 511.1,224.7 511.4,224.7 511.6,224.7 511.8,224.7 512.1,224.7 512.3,224.7 512.6,224.7 512.8,224.7 513.1,224.7 513.3,224.7 513.5,224.7 513.8,224.7 514.0,224.7 514.3,224.7 514.5,224.7 514.8,224.7 515.0,224.7 515.3,224.7 515.5,224.7 515.7,224.7 516.0,224.7 516.2,224.7 516.5,224.7 516.7,224.7 517.0,224.7 517.2,224.7 517.4,224.7 517.7,224.7 517.9,224.7 518.2,224.7 518.4,224.7 518.7,224.7 518.9,224.7 519.2,224.7 519.4,224.7 519.6,224.7 519.9,224.7 520.1,224.7 520.4,224.7 520.6,224.7 520.9,224.7 521.1,224.7 521.3,224.7 521.6,224.7 521.8,224.7 522.1,224.7 522.3,224.7 522.6,224.7 522.8,224.7 523.0,224.7 523.3,224.7 523.5,224.7 523.8,224.7 524.0,224.7 524.3,224.7 524.5,224.7 524.8,224.7 525.0,224.7 525.2,224.7 525.5,224.7 525.7,224.7 526.0,224.7 526.2,224.7 526.5,224.7 526.7,224.7 526.9,224.7 527.2,224.7 527.4,224.7 527.7,224.7 527.9,224.7 528.2,224.7 528.4,224.7 528.7,224.7 528.9,224.7 529.1,224.7 529.4,224.7 529.6,224.7 529.9,224.7 530.1,224.7 530.4,224.7 530.6,224.7 530.8,224.7 531.1,224.7 531.3,224.7 531.6,224.7 531.8,224.7 532.1,224.7 532.3,224.7 532.6,224.7 532.8,224.7 533.0,224.7 533.3,224.7 533.5,224.7 533.8,224.7 534.0,224.7 534.3,224.7 534.5,224.7 534.7,224.7 535.0,224.7 535.2,224.7 535.5,224.7 535.7,224.7 536.0,224.7 536.2,224.7 536.4,224.7 536.7,224.7 536.9,224.7 537.2,224.7 537.4,224.7 537.7,224.7 537.9,224.7 538.2,224.7 538.4,224.7 538.6,224.7 538.9,224.7 539.1,224.7 539.4,224.7 539.6,224.7 539.9,224.7 540.1,224.7 540.3,224.7 540.6,224.7 540.8,224.7 541.1,224.7 541.3,224.7 541.6,224.7 541.8,224.7 542.1,224.7 542.3,224.7 542.5,224.7 542.8,224.7 543.0,224.7 543.3,224.7 543.5,224.7 543.8,224.7 544.0,224.7 544.2,224.7 544.5,224.7 544.7,224.7 545.0,224.7 545.2,224.7 545.5,224.7 545.7,224.7 546.0,224.7 546.2,224.7 546.4,224.7 546.7,224.7 546.9,224.7 547.2,224.7 547.4,224.7 547.7,224.7 547.9,224.7 548.1,224.7 548.4,224.7 548.6,224.7 548.9,224.7 549.1,224.7 549.4,224.7 549.6,224.7 549.9,224.7 550.1,224.7 550.3,224.7 550.6,224.7 550.8,224.7 551.1,224.7 551.3,224.7 551.6,224.7 551.8,224.7 552.0,224.7 552.3,224.7 552.5,224.7 552.8,224.7 553.0,224.7 553.3,224.7 553.5,224.7 553.7,224.7 554.0,224.7 554.2,224.7 554.5,224.7 554.7,224.7 555.0,224.7 555.2,224.7 555.5,224.7 555.7,224.7 555.9,224.7 556.2,224.7 556.4,224.7 556.7,224.7 556.9,224.7 557.2,224.7 557.4,224.7 557.6,224.7 557.9,224.7 558.1,224.7 558.4,224.7 558.6,224.7 558.9,224.7 559.1,224.7 559.4,224.7 559.6,224.7 559.8,224.7 560.1,224.7 560.3,224.7 560.6,224.7 560.8,224.7 561.1,224.7 561.3,224.7 561.5,224.7 561.8,224.7 562.0,224.7 562.3,224.7 562.5,224.7 562.8,224.7 563.0,224.7 563.3,224.7 563.5,224.7 563.7,224.7 564.0,224.7 564.2,224.7 564.5,224.7 564.7,224.7 565.0,224.7 565.2,224.7 565.4,224.7 565.7,224.7 565.9,224.7 566.2,224.7 566.4,224.7 566.7,224.7 566.9,224.7 567.2,224.7 567.4,224.7 567.6,224.7 567.9,224.7 568.1,224.7 568.4,224.7 568.6,224.7 568.9,224.7 569.1,224.7 569.3,224.7 569.6,224.7 569.8,224.7 570.1,224.7 570.3,224.7" fill="none" stroke="#8a5a36" stroke-width="1.0" stroke-linejoin="round" />
<polyline points="448.7,224.5 449.0,224.5 449.2,224.5 449.5,224.5 449.7,224.5 450.0,224.5 450.2,224.5 450.4,224.5 450.7,224.5 450.9,224.5 451.2,224.5 451.4,224.5 451.7,224.5 451.9,224.5 452.1,224.5 452.4,224.5 452.6,224.5 452.9,224.5 453.1,224.5 453.4,224.5 453.6,224.5 453.9,224.5 454.1,224.5 454.3,224.5 454.6,224.5 454.8,224.5 455.1,224.5 455.3,224.5 455.6,224.5 455.8,224.5 456.0,224.5 456.3,224.5 456.5,224.5 456.8,224.5 457.0,224.5 457.3,224.5 457.5,224.5 457.8,224.5 458.0,224.5 458.2,224.5 458.5,224.5 458.7,224.4 459.0,224.4 459.2,224.4 459.5,224.4 459.7,224.4 459.9,224.4 460.2,224.4 460.4,224.4 460.7,224.4 460.9,224.4 461.2,224.4 461.4,224.4 461.6,224.4 461.9,224.4 462.1,224.4 462.4,224.4 462.6,224.4 462.9,224.4 463.1,224.4 463.4,224.4 463.6,224.4 463.8,224.4 464.1,224.4 464.3,224.4 464.6,224.4 464.8,224.4 465.1,224.3 465.3,224.3 465.5,224.3 465.8,224.3 466.0,224.3 466.3,224.3 466.5,224.3 466.8,224.3 467.0,224.3 467.3,224.3 467.5,224.3 467.7,224.3 468.0,224.3 468.2,224.3 468.5,224.2 468.7,224.2 469.0,224.2 469.2,224.2 469.4,224.2 469.7,224.2 469.9,224.2 470.2,224.2 470.4,224.2 470.7,224.1 470.9,224.1 471.2,224.1 471.4,224.1 471.6,224.1 471.9,224.1 472.1,224.0 472.4,224.0 472.6,224.0 472.9,224.0 473.1,223.9 473.3,223.9 473.6,223.9 473.8,223.8 474.1,223.8 474.3,223.8 474.6,223.7 474.8,223.7 475.0,223.6 475.3,223.6 475.5,223.5 475.8,223.5 476.0,223.4 476.3,223.3 476.5,223.3 476.8,223.2 477.0,223.1 477.2,223.0 477.5,223.0 477.7,222.9 478.0,222.8 478.2,222.7 478.5,222.5 478.7,222.4 478.9,222.3 479.2,222.2 479.4,222.0 479.7,221.9 479.9,221.7 480.2,221.5 480.4,221.3 480.7,221.1 480.9,220.9 481.1,220.7 481.4,220.5 481.6,220.2 481.9,220.0 482.1,219.7 482.4,219.4 482.6,219.1 482.8,218.8 483.1,218.5 483.3,218.2 483.6,217.8 483.8,217.4 484.1,217.0 484.3,216.6 484.6,216.1 484.8,215.7 485.0,215.2 485.3,214.7 485.5,214.2 485.8,213.6 486.0,213.0 486.3,212.4 486.5,211.8 486.7,211.2 487.0,210.5 487.2,209.8 487.5,209.1 487.7,208.3 488.0,207.6 488.2,206.8 488.5,205.9 488.7,205.1 488.9,204.2 489.2,203.3 489.4,202.3 489.7,201.4 489.9,200.4 490.2,199.3 490.4,198.3 490.6,197.2 490.9,196.1 491.1,195.0 491.4,193.8 491.6,192.6 491.9,191.4 492.1,190.2 492.3,188.9 492.6,187.6 492.8,186.3 493.1,185.0 493.3,183.7 493.6,182.3 493.8,180.9 494.1,179.5 494.3,178.1 494.5,176.7 494.8,175.2 495.0,173.8 495.3,172.3 495.5,170.8 495.8,169.4 496.0,167.9 496.2,166.4 496.5,164.9 496.7,163.4 497.0,162.0 497.2,160.5 497.5,159.0 497.7,157.6 498.0,156.1 498.2,154.7 498.4,153.3 498.7,151.9 498.9,150.6 499.2,149.2 499.4,147.9 499.7,146.6 499.9,145.4 500.1,144.1 500.4,142.9 500.6,141.8 500.9,140.7 501.1,139.6 501.4,138.6 501.6,137.6 501.9,136.7 502.1,135.8 502.3,135.0 502.6,134.2 502.8,133.5 503.1,132.9 503.3,132.3 503.6,131.7 503.8,131.3 504.0,130.8 504.3,130.5 504.5,130.2 504.8,130.0 505.0,129.8 505.3,129.7 505.5,129.7 505.7,129.8 506.0,129.9 506.2,130.0 506.5,130.3 506.7,130.6 507.0,130.9 507.2,131.4 507.5,131.9 507.7,132.4 507.9,133.0 508.2,133.7 508.4,134.4 508.7,135.2 508.9,136.1 509.2,136.9 509.4,137.9 509.6,138.9 509.9,139.9 510.1,141.0 510.4,142.1 510.6,143.3 510.9,144.5 511.1,145.7 511.4,147.0 511.6,148.2 511.8,149.6 512.1,150.9 512.3,152.3 512.6,153.7 512.8,155.1 513.1,156.5 513.3,158.0 513.5,159.4 513.8,160.9 514.0,162.4 514.3,163.8 514.5,165.3 514.8,166.8 515.0,168.3 515.3,169.8 515.5,171.2 515.7,172.7 516.0,174.2 516.2,175.6 516.5,177.0 516.7,178.5 517.0,179.9 517.2,181.3 517.4,182.7 517.7,184.0 517.9,185.4 518.2,186.7 518.4,188.0 518.7,189.3 518.9,190.5 519.2,191.7 519.4,192.9 519.6,194.1 519.9,195.3 520.1,196.4 520.4,197.5 520.6,198.6 520.9,199.6 521.1,200.6 521.3,201.6 521.6,202.6 521.8,203.5 522.1,204.4 522.3,205.3 522.6,206.2 522.8,207.0 523.0,207.8 523.3,208.5 523.5,209.3 523.8,210.0 524.0,210.7 524.3,211.4 524.5,212.0 524.8,212.6 525.0,213.2 525.2,213.8 525.5,214.3 525.7,214.8 526.0,215.3 526.2,215.8 526.5,216.3 526.7,216.7 526.9,217.1 527.2,217.5 527.4,217.9 527.7,218.2 527.9,218.6 528.2,218.9 528.4,219.2 528.7,219.5 528.9,219.8 529.1,220.1 529.4,220.3 529.6,220.6 529.9,220.8 530.1,221.0 530.4,221.2 530.6,221.4 530.8,221.6 531.1,221.7 531.3,221.9 531.6,222.0 531.8,222.2 532.1,222.3 532.3,222.5 532.6,222.6 532.8,222.7 533.0,222.8 533.3,222.9 533.5,223.0 533.8,223.1 534.0,223.1 534.3,223.2 534.5,223.3 534.7,223.4 535.0,223.4 535.2,223.5 535.5,223.5 535.7,223.6 536.0,223.6 536.2,223.7 536.4,223.7 536.7,223.8 536.9,223.8 537.2,223.8 537.4,223.9 537.7,223.9 537.9,223.9 538.2,224.0 538.4,224.0 538.6,224.0 538.9,224.0 539.1,224.1 539.4,224.1 539.6,224.1 539.9,224.1 540.1,224.1 540.3,224.1 540.6,224.2 540.8,224.2 541.1,224.2 541.3,224.2 541.6,224.2 541.8,224.2 542.1,224.2 542.3,224.2 542.5,224.2 542.8,224.3 543.0,224.3 543.3,224.3 543.5,224.3 543.8,224.3 544.0,224.3 544.2,224.3 544.5,224.3 544.7,224.3 545.0,224.3 545.2,224.3 545.5,224.3 545.7,224.3 546.0,224.3 546.2,224.4 546.4,224.4 546.7,224.4 546.9,224.4 547.2,224.4 547.4,224.4 547.7,224.4 547.9,224.4 548.1,224.4 548.4,224.4 548.6,224.4 548.9,224.4 549.1,224.4 549.4,224.4 549.6,224.4 549.9,224.4 550.1,224.4 550.3,224.4 550.6,224.4 550.8,224.4 551.1,224.4 551.3,224.4 551.6,224.4 551.8,224.4 552.0,224.4 552.3,224.4 552.5,224.5 552.8,224.5 553.0,224.5 553.3,224.5 553.5,224.5 553.7,224.5 554.0,224.5 554.2,224.5 554.5,224.5 554.7,224.5 555.0,224.5 555.2,224.5 555.5,224.5 555.7,224.5 555.9,224.5 556.2,224.5 556.4,224.5 556.7,224.5 556.9,224.5 557.2,224.5 557.4,224.5 557.6,224.5 557.9,224.5 558.1,224.5 558.4,224.5 558.6,224.5 558.9,224.5 559.1,224.5 559.4,224.5 559.6,224.5 559.8,224.5 560.1,224.5 560.3,224.5 560.6,224.5 560.8,224.5 561.1,224.5 561.3,224.5 561.5,224.5 561.8,224.5 562.0,224.5 562.3,224.5 562.5,224.5 562.8,224.5 563.0,224.5 563.3,224.5 563.5,224.5 563.7,224.6 564.0,224.6 564.2,224.6 564.5,224.6 564.7,224.6 565.0,224.6 565.2,224.6 565.4,224.6 565.7,224.6 565.9,224.6 566.2,224.6 566.4,224.6 566.7,224.6 566.9,224.6 567.2,224.6 567.4,224.6 567.6,224.6 567.9,224.6 568.1,224.6 568.4,224.6 568.6,224.6 568.9,224.6 569.1,224.6 569.3,224.6 569.6,224.6 569.8,224.6 570.1,224.6 570.3,224.6" fill="none" stroke="#9ac272" stroke-width="1.0" stroke-linejoin="round" />
<polyline points="448.7,224.6 449.0,224.6 449.2,224.6 449.5,224.6 449.7,224.6 450.0,224.6 450.2,224.6 450.4,224.6 450.7,224.6 450.9,224.6 451.2,224.6 451.4,224.6 451.7,224.6 451.9,224.6 452.1,224.6 452.4,224.6 452.6,224.6 452.9,224.6 453.1,224.6 453.4,224.6 453.6,224.6 453.9,224.6 454.1,224.6 454.3,224.6 454.6,224.6 454.8,224.6 455.1,224.6 455.3,224.6 455.6,224.6 455.8,224.6 456.0,224.6 456.3,224.6 456.5,224.6 456.8,224.6 457.0,224.6 457.3,224.6 457.5,224.6 457.8,224.6 458.0,224.6 458.2,224.6 458.5,224.6 458.7,224.6 459.0,224.6 459.2,224.6 459.5,224.6 459.7,224.6 459.9,224.6 460.2,224.6 460.4,224.6 460.7,224.6 460.9,224.6 461.2,224.6 461.4,224.6 461.6,224.6 461.9,224.6 462.1,224.6 462.4,224.5 462.6,224.5 462.9,224.5 463.1,224.5 463.4,224.5 463.6,224.5 463.8,224.5 464.1,224.5 464.3,224.5 464.6,224.5 464.8,224.5 465.1,224.5 465.3,224.5 465.5,224.5 465.8,224.5 466.0,224.5 466.3,224.5 466.5,224.5 466.8,224.5 467.0,224.5 467.3,224.5 467.5,224.5 467.7,224.5 468.0,224.5 468.2,224.5 468.5,224.5 468.7,224.5 469.0,224.5 469.2,224.5 469.4,224.5 469.7,224.5 469.9,224.5 470.2,224.5 470.4,224.5 470.7,224.5 470.9,224.5 471.2,224.5 471.4,224.5 471.6,224.5 471.9,224.5 472.1,224.5 472.4,224.5 472.6,224.5 472.9,224.5 473.1,224.5 473.3,224.5 473.6,224.5 473.8,224.5 474.1,224.5 474.3,224.5 474.6,224.5 474.8,224.5 475.0,224.5 475.3,224.5 475.5,224.5 475.8,224.5 476.0,224.5 476.3,224.4 476.5,224.4 476.8,224.4 477.0,224.4 477.2,224.4 477.5,224.4 477.7,224.4 478.0,224.4 478.2,224.4 478.5,224.4 478.7,224.4 478.9,224.4 479.2,224.4 479.4,224.4 479.7,224.4 479.9,224.4 480.2,224.4 480.4,224.4 480.7,224.4 480.9,224.4 481.1,224.4 481.4,224.4 481.6,224.4 481.9,224.4 482.1,224.4 482.4,224.4 482.6,224.4 482.8,224.4 483.1,224.4 483.3,224.4 483.6,224.4 483.8,224.4 484.1,224.4 484.3,224.3 484.6,224.3 484.8,224.3 485.0,224.3 485.3,224.3 485.5,224.3 485.8,224.3 486.0,224.3 486.3,224.3 486.5,224.3 486.7,224.3 487.0,224.3 487.2,224.3 487.5,224.3 487.7,224.3 488.0,224.3 488.2,224.3 488.5,224.3 488.7,224.3 488.9,224.3 489.2,224.3 489.4,224.3 489.7,224.3 489.9,224.3 490.2,224.2 490.4,224.2 490.6,224.2 490.9,224.2 491.1,224.2 491.4,224.2 491.6,224.2 491.9,224.2 492.1,224.2 492.3,224.2 492.6,224.2 492.8,224.2 493.1,224.2 493.3,224.2 493.6,224.2 493.8,224.2 494.1,224.1 494.3,224.1 494.5,224.1 494.8,224.1 495.0,224.1 495.3,224.1 495.5,224.1 495.8,224.1 496.0,224.1 496.2,224.1 496.5,224.1 496.7,224.1 497.0,224.0 497.2,224.0 497.5,224.0 497.7,224.0 498.0,224.0 498.2,224.0 498.4,224.0 498.7,224.0 498.9,224.0 499.2,223.9 499.4,223.9 499.7,223.9 499.9,223.9 500.1,223.9 500.4,223.9 500.6,223.8 500.9,223.8 501.1,223.8 501.4,223.8 501.6,223.8 501.9,223.7 502.1,223.7 502.3,223.7 502.6,223.7 502.8,223.6 503.1,223.6 503.3,223.5 503.6,223.5 503.8,223.5 504.0,223.4 504.3,223.4 504.5,223.3 504.8,223.3 505.0,223.2 505.3,223.2 505.5,223.1 505.7,223.0 506.0,222.9 506.2,222.9 506.5,222.8 506.7,222.7 507.0,222.6 507.2,222.5 507.5,222.4 507.7,222.2 507.9,222.1 508.2,222.0 508.4,221.8 508.7,221.7 508.9,221.5 509.2,221.3 509.4,221.1 509.6,220.9 509.9,220.7 510.1,220.5 510.4,220.2 510.6,219.9 510.9,219.7 511.1,219.4 511.4,219.0 511.6,218.7 511.8,218.3 512.1,218.0 512.3,217.6 512.6,217.1 512.8,216.7 513.1,216.2 513.3,215.7 513.5,215.2 513.8,214.6 514.0,214.0 514.3,213.4 514.5,212.7 514.8,212.0 515.0,211.3 515.3,210.6 515.5,209.8 515.7,208.9 516.0,208.0 516.2,207.1 516.5,206.2 516.7,205.2 517.0,204.1 517.2,203.0 517.4,201.9 517.7,200.7 517.9,199.5 518.2,198.2 518.4,196.9 518.7,195.5 518.9,194.0 519.2,192.6 519.4,191.0 519.6,189.4 519.9,187.8 520.1,186.1 520.4,184.4 520.6,182.6 520.9,180.7 521.1,178.8 521.3,176.9 521.6,174.9 521.8,172.8 522.1,170.7 522.3,168.6 522.6,166.4 522.8,164.2 523.0,161.9 523.3,159.6 523.5,157.2 523.8,154.8 524.0,152.4 524.3,149.9 524.5,147.4 524.8,144.9 525.0,142.3 525.2,139.7 525.5,137.1 525.7,134.5 526.0,131.9 526.2,129.2 526.5,126.6 526.7,123.9 526.9,121.3 527.2,118.6 527.4,116.0 527.7,113.4 527.9,110.8 528.2,108.2 528.4,105.7 528.7,103.1 528.9,100.6 529.1,98.2 529.4,95.8 529.6,93.4 529.9,91.1 530.1,88.9 530.4,86.7 530.6,84.6 530.8,82.5 531.1,80.6 531.3,78.7 531.6,76.9 531.8,75.2 532.1,73.5 532.3,72.0 532.6,70.6 532.8,69.3 533.0,68.0 533.3,66.9 533.5,65.9 533.8,65.0 534.0,64.3 534.3,63.6 534.5,63.1 534.7,62.6 535.0,62.4 535.2,62.2 535.5,62.1 535.7,62.2 536.0,62.4 536.2,62.7 536.4,63.2 536.7,63.8 536.9,64.4 537.2,65.2 537.4,66.2 537.7,67.2 537.9,68.3 538.2,69.6 538.4,70.9 538.6,72.4 538.9,73.9 539.1,75.6 539.4,77.3 539.6,79.1 539.9,81.1 540.1,83.0 540.3,85.1 540.6,87.2 540.8,89.4 541.1,91.7 541.3,94.0 541.6,96.4 541.8,98.8 542.1,101.3 542.3,103.8 542.5,106.3 542.8,108.8 543.0,111.4 543.3,114.0 543.5,116.7 543.8,119.3 544.0,121.9 544.2,124.6 544.5,127.2 544.7,129.9 545.0,132.5 545.2,135.2 545.5,137.8 545.7,140.4 546.0,142.9 546.2,145.5 546.4,148.0 546.7,150.5 546.9,153.0 547.2,155.4 547.4,157.8 547.7,160.1 547.9,162.4 548.1,164.7 548.4,166.9 548.6,169.1 548.9,171.3 549.1,173.3 549.4,175.4 549.6,177.4 549.9,179.3 550.1,181.2 550.3,183.0 550.6,184.8 550.8,186.5 551.1,188.2 551.3,189.8 551.6,191.4 551.8,192.9 552.0,194.4 552.3,195.8 552.5,197.2 552.8,198.5 553.0,199.8 553.3,201.0 553.5,202.2 553.7,203.3 554.0,204.4 554.2,205.4 554.5,206.4 554.7,207.4 555.0,208.3 555.2,209.1 555.5,210.0 555.7,210.7 555.9,211.5 556.2,212.2 556.4,212.9 556.7,213.5 556.9,214.2 557.2,214.7 557.4,215.3 557.6,215.8 557.9,216.3 558.1,216.8 558.4,217.2 558.6,217.7 558.9,218.1 559.1,218.4 559.4,218.8 559.6,219.1 559.8,219.4 560.1,219.7 560.3,220.0 560.6,220.3 560.8,220.5 561.1,220.8 561.3,221.0 561.5,221.2 561.8,221.4 562.0,221.5 562.3,221.7 562.5,221.9 562.8,222.0 563.0,222.1 563.3,222.3 563.5,222.4 563.7,222.5 564.0,222.6 564.2,222.7 564.5,222.8 564.7,222.9 565.0,223.0 565.2,223.0 565.4,223.1 565.7,223.2 565.9,223.2 566.2,223.3 566.4,223.3 566.7,223.4 566.9,223.4 567.2,223.5 567.4,223.5 567.6,223.6 567.9,223.6 568.1,223.6 568.4,223.7 568.6,223.7 568.9,223.7 569.1,223.7 569.3,223.8 569.6,223.8 569.8,223.8 570.1,223.8 570.3,223.9" fill="none" stroke="#d87070" stroke-width="1.0" stroke-linejoin="round" />
<polyline points="493.1,224.7 493.3,224.6 493.6,224.6 493.8,224.6 494.1,224.6 494.3,224.5 494.5,224.5 494.8,224.4 495.0,224.4 495.3,224.3 495.5,224.2 495.8,224.1 496.0,224.0 496.2,223.9 496.5,223.8 496.7,223.6 497.0,223.4 497.2,223.2 497.5,223.0 497.7,222.8 498.0,222.5 498.2,222.2 498.4,221.9 498.7,221.6 498.9,221.2 499.2,220.8 499.4,220.4 499.7,220.0 499.9,219.5 500.1,219.0 500.4,218.5 500.6,218.0 500.9,217.5 501.1,216.9 501.4,216.4 501.6,215.8 501.9,215.3 502.1,214.7 502.3,214.2 502.6,213.7 502.8,213.2 503.1,212.7 503.3,212.3 503.6,211.9 503.8,211.5 504.0,211.2 504.3,211.0 504.5,210.8 504.8,210.6 505.0,210.5 505.3,210.5 505.5,210.5 505.7,210.6 506.0,210.7 506.2,210.9 506.5,211.2 506.7,211.5 507.0,211.8 507.2,212.2 507.5,212.6 507.7,213.1 507.9,213.6 508.2,214.1 508.4,214.6 508.7,215.2 508.9,215.7 509.2,216.3 509.4,216.8 509.6,217.4 509.9,217.9 510.1,218.4 510.4,218.9 510.6,219.4 510.9,219.9 511.1,220.3 511.4,220.8 511.6,221.2 511.8,221.5 512.1,221.9 512.3,222.2 512.6,222.5 512.8,222.7 513.1,223.0 513.3,223.2 513.5,223.4 513.8,223.6 514.0,223.7 514.3,223.9 514.5,224.0 514.8,224.1 515.0,224.2 515.3,224.3 515.5,224.4 515.7,224.4 516.0,224.5 516.2,224.5 516.5,224.6 516.7,224.6 517.0,224.6 517.2,224.6 517.4,224.7" fill="none" stroke="#6e98d6" stroke-width="1.0" stroke-linejoin="round" />
<polyline points="529.9,224.7 530.1,224.7 530.4,224.7 530.6,224.7 530.8,224.7 531.1,224.7 531.3,224.7 531.6,224.6 531.8,224.6 532.1,224.6 532.3,224.6 532.6,224.6 532.8,224.5 533.0,224.5 533.3,224.4 533.5,224.4 533.8,224.3 534.0,224.3 534.3,224.2 534.5,224.1 534.7,224.1 535.0,224.0 535.2,223.9 535.5,223.8 535.7,223.7 536.0,223.6 536.2,223.5 536.4,223.3 536.7,223.2 536.9,223.1 537.2,222.9 537.4,222.8 537.7,222.7 537.9,222.5 538.2,222.4 538.4,222.3 538.6,222.2 538.9,222.0 539.1,221.9 539.4,221.8 539.6,221.7 539.9,221.7 540.1,221.6 540.3,221.6 540.6,221.5 540.8,221.5 541.1,221.5 541.3,221.5 541.6,221.5 541.8,221.5 542.1,221.6 542.3,221.7 542.5,221.7 542.8,221.8 543.0,221.9 543.3,222.0 543.5,222.1 543.8,222.3 544.0,222.4 544.2,222.5 544.5,222.7 544.7,222.8 545.0,222.9 545.2,223.1 545.5,223.2 545.7,223.3 546.0,223.4 546.2,223.5 546.4,223.7 546.7,223.8 546.9,223.9 547.2,224.0 547.4,224.0 547.7,224.1 547.9,224.2 548.1,224.3 548.4,224.3 548.6,224.4 548.9,224.4 549.1,224.5 549.4,224.5 549.6,224.5 549.9,224.6 550.1,224.6 550.3,224.6 550.6,224.6 550.8,224.7 551.1,224.7 551.3,224.7 551.6,224.7 551.8,224.7 552.0,224.7 552.3,224.7" fill="none" stroke="#9a90d2" stroke-width="1.0" stroke-linejoin="round" />
<polyline points="448.7,224.4 449.0,224.4 449.2,224.4 449.5,224.4 449.7,224.4 450.0,224.4 450.2,224.4 450.4,224.4 450.7,224.4 450.9,224.4 451.2,224.4 451.4,224.4 451.7,224.4 451.9,224.4 452.1,224.4 452.4,224.4 452.6,224.4 452.9,224.4 453.1,224.3 453.4,224.3 453.6,224.3 453.9,224.3 454.1,224.3 454.3,224.3 454.6,224.3 454.8,224.3 455.1,224.3 455.3,224.3 455.6,224.3 455.8,224.3 456.0,224.3 456.3,224.3 456.5,224.3 456.8,224.3 457.0,224.3 457.3,224.3 457.5,224.3 457.8,224.3 458.0,224.3 458.2,224.3 458.5,224.3 458.7,224.3 459.0,224.3 459.2,224.3 459.5,224.3 459.7,224.2 459.9,224.2 460.2,224.2 460.4,224.2 460.7,224.2 460.9,224.2 461.2,224.2 461.4,224.2 461.6,224.2 461.9,224.2 462.1,224.2 462.4,224.2 462.6,224.2 462.9,224.2 463.1,224.2 463.4,224.2 463.6,224.2 463.8,224.2 464.1,224.2 464.3,224.2 464.6,224.1 464.8,224.1 465.1,224.1 465.3,224.1 465.5,224.1 465.8,224.1 466.0,224.1 466.3,224.1 466.5,224.1 466.8,224.1 467.0,224.1 467.3,224.1 467.5,224.1 467.7,224.0 468.0,224.0 468.2,224.0 468.5,224.0 468.7,224.0 469.0,224.0 469.2,224.0 469.4,224.0 469.7,223.9 469.9,223.9 470.2,223.9 470.4,223.9 470.7,223.9 470.9,223.9 471.2,223.9 471.4,223.8 471.6,223.8 471.9,223.8 472.1,223.8 472.4,223.7 472.6,223.7 472.9,223.7 473.1,223.7 473.3,223.6 473.6,223.6 473.8,223.6 474.1,223.5 474.3,223.5 474.6,223.4 474.8,223.4 475.0,223.3 475.3,223.3 475.5,223.2 475.8,223.2 476.0,223.1 476.3,223.0 476.5,223.0 476.8,222.9 477.0,222.8 477.2,222.7 477.5,222.6 477.7,222.5 478.0,222.4 478.2,222.3 478.5,222.2 478.7,222.1 478.9,222.0 479.2,221.8 479.4,221.7 479.7,221.5 479.9,221.4 480.2,221.2 480.4,221.0 480.7,220.8 480.9,220.6 481.1,220.4 481.4,220.1 481.6,219.9 481.9,219.6 482.1,219.4 482.4,219.1 482.6,218.8 482.8,218.5 483.1,218.1 483.3,217.8 483.6,217.4 483.8,217.0 484.1,216.6 484.3,216.2 484.6,215.7 484.8,215.3 485.0,214.8 485.3,214.3 485.5,213.7 485.8,213.2 486.0,212.6 486.3,212.0 486.5,211.4 486.7,210.7 487.0,210.1 487.2,209.4 487.5,208.6 487.7,207.9 488.0,207.1 488.2,206.3 488.5,205.5 488.7,204.6 488.9,203.7 489.2,202.8 489.4,201.8 489.7,200.9 489.9,199.9 490.2,198.8 490.4,197.8 490.6,196.7 490.9,195.6 491.1,194.4 491.4,193.3 491.6,192.1 491.9,190.8 492.1,189.6 492.3,188.3 492.6,187.0 492.8,185.7 493.1,184.4 493.3,183.0 493.6,181.6 493.8,180.2 494.1,178.7 494.3,177.3 494.5,175.8 494.8,174.3 495.0,172.8 495.3,171.2 495.5,169.7 495.8,168.1 496.0,166.5 496.2,164.9 496.5,163.3 496.7,161.6 497.0,160.0 497.2,158.3 497.5,156.6 497.7,154.9 498.0,153.2 498.2,151.5 498.4,149.7 498.7,148.0 498.9,146.2 499.2,144.5 499.4,142.8 499.7,141.0 499.9,139.3 500.1,137.5 500.4,135.8 500.6,134.2 500.9,132.5 501.1,130.9 501.4,129.3 501.6,127.7 501.9,126.2 502.1,124.8 502.3,123.4 502.6,122.1 502.8,120.8 503.1,119.7 503.3,118.6 503.6,117.6 503.8,116.8 504.0,116.0 504.3,115.3 504.5,114.8 504.8,114.4 505.0,114.1 505.3,113.9 505.5,113.8 505.7,113.9 506.0,114.0 506.2,114.3 506.5,114.7 506.7,115.2 507.0,115.9 507.2,116.6 507.5,117.4 507.7,118.3 507.9,119.2 508.2,120.3 508.4,121.4 508.7,122.5 508.9,123.8 509.2,125.0 509.4,126.3 509.6,127.7 509.9,129.0 510.1,130.4 510.4,131.8 510.6,133.1 510.9,134.5 511.1,135.9 511.4,137.3 511.6,138.6 511.8,139.9 512.1,141.3 512.3,142.5 512.6,143.8 512.8,145.0 513.1,146.2 513.3,147.4 513.5,148.5 513.8,149.6 514.0,150.6 514.3,151.6 514.5,152.6 514.8,153.5 515.0,154.3 515.3,155.1 515.5,155.9 515.7,156.5 516.0,157.2 516.2,157.8 516.5,158.3 516.7,158.7 517.0,159.1 517.2,159.5 517.4,159.7 517.7,159.9 517.9,160.0 518.2,160.1 518.4,160.1 518.7,160.0 518.9,159.8 519.2,159.5 519.4,159.2 519.6,158.8 519.9,158.3 520.1,157.8 520.4,157.1 520.6,156.4 520.9,155.6 521.1,154.7 521.3,153.8 521.6,152.7 521.8,151.6 522.1,150.4 522.3,149.2 522.6,147.8 522.8,146.4 523.0,144.9 523.3,143.4 523.5,141.7 523.8,140.0 524.0,138.3 524.3,136.5 524.5,134.6 524.8,132.7 525.0,130.7 525.2,128.7 525.5,126.7 525.7,124.6 526.0,122.4 526.2,120.3 526.5,118.1 526.7,115.9 526.9,113.6 527.2,111.4 527.4,109.1 527.7,106.9 527.9,104.6 528.2,102.4 528.4,100.1 528.7,97.9 528.9,95.7 529.1,93.5 529.4,91.3 529.6,89.2 529.9,87.1 530.1,85.1 530.4,83.1 530.6,81.2 530.8,79.3 531.1,77.5 531.3,75.8 531.6,74.1 531.8,72.5 532.1,71.0 532.3,69.5 532.6,68.2 532.8,67.0 533.0,65.8 533.3,64.7 533.5,63.8 533.8,62.9 534.0,62.2 534.3,61.5 534.5,61.0 534.7,60.6 535.0,60.3 535.2,60.1 535.5,60.0 535.7,60.0 536.0,60.1 536.2,60.4 536.4,60.7 536.7,61.2 536.9,61.8 537.2,62.5 537.4,63.3 537.7,64.3 537.9,65.3 538.2,66.4 538.4,67.7 538.6,69.1 538.9,70.5 539.1,72.1 539.4,73.7 539.6,75.5 539.9,77.3 540.1,79.3 540.3,81.3 540.6,83.4 540.8,85.6 541.1,87.9 541.3,90.2 541.6,92.6 541.8,95.1 542.1,97.6 542.3,100.2 542.5,102.8 542.8,105.4 543.0,108.1 543.3,110.8 543.5,113.6 543.8,116.4 544.0,119.1 544.2,121.9 544.5,124.7 544.7,127.5 545.0,130.3 545.2,133.0 545.5,135.8 545.7,138.5 546.0,141.2 546.2,143.9 546.4,146.5 546.7,149.1 546.9,151.7 547.2,154.2 547.4,156.7 547.7,159.1 547.9,161.5 548.1,163.9 548.4,166.2 548.6,168.4 548.9,170.6 549.1,172.7 549.4,174.8 549.6,176.8 549.9,178.8 550.1,180.7 550.3,182.6 550.6,184.4 550.8,186.1 551.1,187.8 551.3,189.5 551.6,191.1 551.8,192.6 552.0,194.1 552.3,195.5 552.5,196.9 552.8,198.2 553.0,199.5 553.3,200.7 553.5,201.9 553.7,203.0 554.0,204.1 554.2,205.1 554.5,206.1 554.7,207.1 555.0,208.0 555.2,208.9 555.5,209.7 555.7,210.5 555.9,211.2 556.2,212.0 556.4,212.6 556.7,213.3 556.9,213.9 557.2,214.5 557.4,215.1 557.6,215.6 557.9,216.1 558.1,216.6 558.4,217.0 558.6,217.4 558.9,217.8 559.1,218.2 559.4,218.6 559.6,218.9 559.8,219.2 560.1,219.5 560.3,219.8 560.6,220.1 560.8,220.3 561.1,220.5 561.3,220.8 561.5,221.0 561.8,221.1 562.0,221.3 562.3,221.5 562.5,221.7 562.8,221.8 563.0,221.9 563.3,222.1 563.5,222.2 563.7,222.3 564.0,222.4 564.2,222.5 564.5,222.6 564.7,222.7 565.0,222.8 565.2,222.9 565.4,222.9 565.7,223.0 565.9,223.0 566.2,223.1 566.4,223.2 566.7,223.2 566.9,223.3 567.2,223.3 567.4,223.3 567.6,223.4 567.9,223.4 568.1,223.5 568.4,223.5 568.6,223.5 568.9,223.5 569.1,223.6 569.3,223.6 569.6,223.6 569.8,223.6 570.1,223.7 570.3,223.7" fill="none" stroke="#8a5a36" stroke-width="1.0" stroke-linejoin="round" />
<polyline points="371.5,205.2 371.9,204.8 372.4,205.5 372.9,206.5 373.3,205.7 373.8,205.5 374.3,205.8 374.7,205.4 375.2,205.9 375.7,207.2 376.2,206.2 376.6,206.2 377.1,206.2 377.6,205.4 378.0,206.1 378.5,205.5 379.0,205.7 379.5,206.8 379.9,207.5 380.4,206.8 380.9,206.6 381.3,205.9 381.8,205.0 382.3,206.0 382.8,205.9 383.2,205.1 383.7,205.8 384.2,206.9 384.6,207.6 385.1,209.5 385.6,208.6 386.1,207.4 386.5,207.5 387.0,207.7 387.5,208.5 387.9,208.3 388.4,209.5 388.9,208.6 389.4,209.2 389.8,209.6 390.3,208.8 390.8,209.4 391.2,209.8 391.7,211.1 392.2,209.8 392.7,209.3 393.1,208.8 393.6,208.9 394.1,210.8 394.5,211.5 395.0,211.4 395.5,211.1 396.0,210.2 396.4,210.7 396.9,210.8 397.4,210.8 397.8,210.1 398.3,208.5 398.8,208.6 399.3,209.1 399.7,210.0 400.2,211.4 400.7,211.8 401.1,211.5 401.6,212.2 402.1,211.6 402.6,211.3 403.0,211.3 403.5,210.9 404.0,211.7 404.4,212.3 404.9,212.6 405.4,212.9 405.9,212.5 406.3,212.0 406.8,212.8 407.3,212.5 407.7,213.5 408.2,213.9 408.7,213.4 409.2,214.7 409.6,214.0 410.1,213.7 410.6,213.7 411.0,212.9 411.5,213.3 412.0,214.0 412.4,214.2 412.9,214.4 413.4,214.2 413.9,214.4 414.3,214.3 414.8,214.0 415.3,214.3 415.7,214.0 416.2,213.9 416.7,215.1 417.2,214.9 417.6,214.6 418.1,214.9 418.6,213.9 419.0,214.7 419.5,215.1 420.0,215.1 420.5,215.2 420.9,214.9 421.4,215.7 421.9,215.9 422.3,215.7 422.8,215.4 423.3,214.6 423.8,215.9 424.2,216.2 424.7,217.0 425.2,218.7 425.6,217.8 426.1,219.4 426.6,220.2 427.1,219.3 427.5,219.0 428.0,218.6 428.5,217.9 428.9,216.8 429.4,216.8 429.9,216.8 430.4,217.3 430.8,219.2 431.3,220.6 431.8,220.5 432.2,220.3 432.7,219.7 433.2,219.0 433.7,219.8 434.1,220.2 434.6,220.0 435.1,220.4 435.5,219.5 436.0,219.4 436.5,220.1 437.0,220.4 437.4,221.7 437.9,222.9 438.4,222.6 438.8,222.9 439.3,222.3 439.8,222.5 440.3,223.2 440.7,223.6 441.2,224.4 441.7,224.8 442.1,224.9 442.6,224.2 443.1,223.7 443.6,222.9 444.0,222.9 444.5,223.2 445.0,225.1 445.4,225.0 445.9,224.9 446.4,225.1 446.9,222.8 447.3,222.2 447.8,222.4 448.3,222.7 448.7,223.3 449.2,224.2 449.7,224.5 450.1,224.2 450.6,223.5 451.1,223.3 451.6,223.4 452.0,223.8 452.5,224.1 453.0,224.1 453.4,223.2 453.9,223.9 454.4,224.8 454.9,224.9 455.3,225.3 455.8,224.2 456.3,224.9 456.7,225.3 457.2,225.6 457.7,226.5 458.2,226.5 458.6,225.4 459.1,225.3 459.6,224.7 460.0,224.1 460.5,224.1 461.0,224.5 461.5,224.2 461.9,224.4 462.4,225.4 462.9,225.2 463.3,226.2 463.8,225.3 464.3,224.6 464.8,225.2 465.2,224.8 465.7,225.3 466.2,224.9 466.6,224.7 467.1,225.0 467.6,224.1 468.1,223.3 468.5,221.8 469.0,221.5 469.5,222.0 469.9,222.4 470.4,223.5 470.9,224.0 471.4,224.0 471.8,224.6 472.3,224.9 472.8,225.2 473.2,226.0 473.7,225.8 474.2,225.7 474.7,224.7 475.1,223.7 475.6,223.6 476.1,223.2 476.5,222.7 477.0,223.2 477.5,223.5 478.0,223.7 478.4,223.1 478.9,222.4 479.4,222.3 479.8,221.6 480.3,222.0 480.8,221.2 481.3,221.2 481.7,221.1 482.2,220.6 482.7,219.0 483.1,216.9 483.6,215.7 484.1,214.3 484.6,214.9 485.0,214.3 485.5,213.3 486.0,212.1 486.4,211.3 486.9,209.8 487.4,208.5 487.8,206.8 488.3,205.0 488.8,203.3 489.3,201.3 489.7,200.3 490.2,198.6 490.7,196.6 491.1,194.5 491.6,191.6 492.1,189.4 492.6,187.3 493.0,184.7 493.5,182.3 494.0,179.7 494.4,176.7 494.9,173.9 495.4,171.3 495.9,167.9 496.3,164.5 496.8,161.0 497.3,156.8 497.7,153.7 498.2,150.8 498.7,147.8 499.2,145.0 499.6,141.6 500.1,137.6 500.6,134.4 501.0,130.6 501.5,127.4 502.0,124.2 502.5,120.8 502.9,118.2 503.4,115.5 503.9,113.6 504.3,112.2 504.8,111.4 505.3,110.8 505.8,110.3 506.2,110.2 506.7,110.5 507.2,111.8 507.6,114.2 508.1,116.5 508.6,119.3 509.1,122.2 509.5,124.9 510.0,128.1 510.5,131.2 510.9,134.1 511.4,137.1 511.9,140.0 512.4,142.1 512.8,144.6 513.3,146.8 513.8,148.8 514.2,151.1 514.7,153.2 515.2,154.8 515.7,156.2 516.1,157.5 516.6,158.3 517.1,158.6 517.5,159.5 518.0,159.8 518.5,159.9 519.0,159.7 519.4,159.4 519.9,158.7 520.4,157.5 520.8,156.2 521.3,153.9 521.8,151.4 522.3,149.3 522.7,146.6 523.2,143.9 523.7,141.2 524.1,137.4 524.6,134.1 525.1,130.7 525.5,126.6 526.0,122.9 526.5,118.6 527.0,113.6 527.4,108.9 527.9,103.6 528.4,98.8 528.8,94.5 529.3,90.0 529.8,85.8 530.3,81.4 530.7,76.3 531.2,71.9 531.7,67.8 532.1,63.4 532.6,59.9 533.1,56.4 533.6,53.1 534.0,50.9 534.5,49.2 535.0,48.0 535.4,47.6 535.9,48.0 536.4,48.9 536.9,51.2 537.3,53.6 537.8,56.5 538.3,59.8 538.7,63.4 539.2,67.1 539.7,71.3 540.2,76.2 540.6,81.1 541.1,86.5 541.6,91.7 542.0,96.8 542.5,101.8 543.0,107.3 543.5,112.6 543.9,118.1 544.4,123.6 544.9,128.7 545.3,133.7 545.8,139.1 546.3,144.3 546.8,149.8 547.2,155.1 547.7,159.9 548.2,164.5 548.6,168.7 549.1,173.2 549.6,177.2 550.1,180.9 550.5,185.0 551.0,188.4 551.5,191.5 551.9,194.3 552.4,196.6 552.9,199.3 553.4,201.6 553.8,203.7 554.3,205.6 554.8,207.1 555.2,208.9 555.7,210.5 556.2,212.1 556.7,213.7 557.1,214.8 557.6,215.7 558.1,216.5 558.5,216.8 559.0,217.5 559.5,218.3 560.0,219.1 560.4,220.0 560.9,219.8 561.4,220.2 561.8,220.6 562.3,220.9 562.8,221.7 563.2,221.9 563.7,222.7 564.2,223.2 564.7,223.9 565.1,224.7 565.6,224.5 566.1,222.8 566.5,222.5 567.0,222.1 567.5,222.8 568.0,223.1 568.4,222.1 568.9,222.1 569.4,221.4 569.8,221.7 570.3,221.9 570.8,222.8 571.3,222.9 571.7,222.7 572.2,223.2 572.7,222.8 573.1,222.5 573.6,222.8 574.1,223.1 574.6,222.8 575.0,223.5 575.5,223.3 576.0,222.8 576.4,223.3 576.9,222.7 577.4,222.4 577.9,223.5 578.3,223.0 578.8,223.6 579.3,223.5 579.7,221.8 580.2,221.0 580.7,220.8 581.2,221.3 581.6,223.0 582.1,224.6 582.6,224.2 583.0,226.1 583.5,226.2 584.0,227.0 584.5,227.6 584.9,227.3 585.4,228.6 585.9,228.7 586.3,229.4 586.8,229.7 587.3,229.2 587.8,229.8 588.2,231.6 588.7,231.3 589.2,231.3 589.6,231.1 590.1,230.1 590.6,230.3 591.1,231.1 591.5,231.9 592.0,232.4 592.5,232.7 592.9,233.6 593.4,233.0 593.9,233.7 594.4,235.5 594.8,234.5 595.3,235.7 595.8,236.5 596.2,236.5 596.7,237.1 597.2,236.7 597.7,236.6 598.1,236.4 598.6,236.8 599.1,238.1 599.5,237.8 600.0,238.3 600.5,239.2 600.9,239.3 601.4,239.6 601.9,239.8 602.4,240.0 602.8,240.2 603.3,239.8 603.8,240.0 604.2,239.4 604.7,238.8 605.2,239.4 605.7,238.7 606.1,240.1 606.6,240.7 607.1,241.7 607.5,242.4 608.0,241.4 608.5,243.3 609.0,243.9 609.4,244.9 609.9,245.7 610.4,244.4 610.8,244.2 611.3,244.6 611.8,244.9 612.3,245.6 612.7,245.3 613.2,247.0 613.7,247.2 614.1,247.9 614.6,248.0 615.1,247.0 615.6,247.9 616.0,247.2 616.5,248.3 617.0,248.7 617.4,249.1 617.9,249.4 618.4,248.6 618.9,247.6 619.3,246.8 619.8,246.3 620.3,246.6 620.7,247.2 621.2,246.9 621.7,246.9 622.2,247.1 622.6,247.2 623.1,247.6 623.6,248.2 624.0,248.5 624.5,247.8 625.0,248.0 625.5,247.8 625.9,247.7 626.4,248.1 626.9,247.7 627.3,248.1 627.8,246.5 628.3,246.5 628.8,245.6 629.2,244.8 629.7,246.2 630.2,246.6 630.6,247.2 631.1,247.6 631.6,247.1 632.1,246.9 632.5,248.1 633.0,248.1 633.5,249.2 633.9,248.7 634.4,248.0 634.9,248.0 635.4,246.7 635.8,246.7" fill="none" stroke="#fa1010" stroke-width="1.0" stroke-linejoin="round" />
<text x="385.30" y="52.20" font-size="28.5" font-weight="bold" fill="#000" text-anchor="start" >b</text>
<text x="458.40" y="47.60" font-size="21.3" font-weight="bold" fill="#0000f0" text-anchor="start" >Mo 3d</text>
<text x="441.60" y="101.90" font-size="21.3" fill="#000">3d<tspan font-size="14.2" dx="0.6" dy="4.6">3/2</tspan></text>
<text x="551.00" y="67.10" font-size="21.3" fill="#000">3d<tspan font-size="14.2" dx="0.6" dy="4.6">5/2</tspan></text>
<text x="422.40" y="145.50" font-size="21.3" fill="#000">Mo<tspan font-size="14.2" dy="-7.8">+6</tspan></text>
<text x="424.00" y="188.20" font-size="21.3" fill="#000">Mo<tspan font-size="14.2" dy="-7.8">+5</tspan></text>
<text x="571.40" y="128.80" font-size="21.3" fill="#000">Mo<tspan font-size="14.2" dy="-7.8">+6</tspan></text>
<text x="571.40" y="187.50" font-size="21.3" fill="#000">Mo<tspan font-size="14.2" dy="-7.8">+5</tspan></text>
<line x1="462.90" y1="150.70" x2="497.30" y2="162.90" stroke="#111" stroke-width="1.3"/>
<line x1="448.80" y1="196.50" x2="504.10" y2="219.10" stroke="#111" stroke-width="1.3"/>
<line x1="583.40" y1="139.00" x2="547.80" y2="158.00" stroke="#111" stroke-width="1.3"/>
<line x1="583.30" y1="195.20" x2="548.10" y2="222.90" stroke="#111" stroke-width="1.3"/>
<rect x="43.10" y="314.30" width="268.30" height="236.60" fill="none" stroke="#6e6e6e" stroke-width="1.2"/>
<line x1="40.60" y1="550.05" x2="43.10" y2="550.05" stroke="#505050" stroke-width="1.0"/>
<line x1="40.60" y1="543.37" x2="43.10" y2="543.37" stroke="#505050" stroke-width="1.0"/>
<line x1="40.60" y1="536.68" x2="43.10" y2="536.68" stroke="#505050" stroke-width="1.0"/>
<line x1="40.60" y1="523.32" x2="43.10" y2="523.32" stroke="#505050" stroke-width="1.0"/>
<line x1="40.60" y1="516.63" x2="43.10" y2="516.63" stroke="#505050" stroke-width="1.0"/>
<line x1="40.60" y1="509.95" x2="43.10" y2="509.95" stroke="#505050" stroke-width="1.0"/>
<line x1="40.60" y1="503.27" x2="43.10" y2="503.27" stroke="#505050" stroke-width="1.0"/>
<line x1="40.60" y1="489.90" x2="43.10" y2="489.90" stroke="#505050" stroke-width="1.0"/>
<line x1="40.60" y1="483.22" x2="43.10" y2="483.22" stroke="#505050" stroke-width="1.0"/>
<line x1="40.60" y1="476.53" x2="43.10" y2="476.53" stroke="#505050" stroke-width="1.0"/>
<line x1="40.60" y1="469.85" x2="43.10" y2="469.85" stroke="#505050" stroke-width="1.0"/>
<line x1="40.60" y1="456.48" x2="43.10" y2="456.48" stroke="#505050" stroke-width="1.0"/>
<line x1="40.60" y1="449.80" x2="43.10" y2="449.80" stroke="#505050" stroke-width="1.0"/>
<line x1="40.60" y1="443.12" x2="43.10" y2="443.12" stroke="#505050" stroke-width="1.0"/>
<line x1="40.60" y1="436.43" x2="43.10" y2="436.43" stroke="#505050" stroke-width="1.0"/>
<line x1="40.60" y1="423.07" x2="43.10" y2="423.07" stroke="#505050" stroke-width="1.0"/>
<line x1="40.60" y1="416.38" x2="43.10" y2="416.38" stroke="#505050" stroke-width="1.0"/>
<line x1="40.60" y1="409.70" x2="43.10" y2="409.70" stroke="#505050" stroke-width="1.0"/>
<line x1="40.60" y1="403.02" x2="43.10" y2="403.02" stroke="#505050" stroke-width="1.0"/>
<line x1="40.60" y1="389.65" x2="43.10" y2="389.65" stroke="#505050" stroke-width="1.0"/>
<line x1="40.60" y1="382.97" x2="43.10" y2="382.97" stroke="#505050" stroke-width="1.0"/>
<line x1="40.60" y1="376.28" x2="43.10" y2="376.28" stroke="#505050" stroke-width="1.0"/>
<line x1="40.60" y1="369.60" x2="43.10" y2="369.60" stroke="#505050" stroke-width="1.0"/>
<line x1="40.60" y1="356.23" x2="43.10" y2="356.23" stroke="#505050" stroke-width="1.0"/>
<line x1="40.60" y1="349.55" x2="43.10" y2="349.55" stroke="#505050" stroke-width="1.0"/>
<line x1="40.60" y1="342.87" x2="43.10" y2="342.87" stroke="#505050" stroke-width="1.0"/>
<line x1="40.60" y1="336.18" x2="43.10" y2="336.18" stroke="#505050" stroke-width="1.0"/>
<line x1="40.60" y1="322.82" x2="43.10" y2="322.82" stroke="#505050" stroke-width="1.0"/>
<line x1="40.60" y1="316.13" x2="43.10" y2="316.13" stroke="#505050" stroke-width="1.0"/>
<line x1="37.60" y1="530.00" x2="43.10" y2="530.00" stroke="#505050" stroke-width="1.0"/>
<text x="37.30" y="530.20" font-size="12" font-weight="normal" fill="#1c1c1c" text-anchor="end" >20</text>
<line x1="37.60" y1="496.58" x2="43.10" y2="496.58" stroke="#505050" stroke-width="1.0"/>
<text x="37.30" y="496.78" font-size="12" font-weight="normal" fill="#1c1c1c" text-anchor="end" >25</text>
<line x1="37.60" y1="463.17" x2="43.10" y2="463.17" stroke="#505050" stroke-width="1.0"/>
<text x="37.30" y="463.37" font-size="12" font-weight="normal" fill="#1c1c1c" text-anchor="end" >30</text>
<line x1="37.60" y1="429.75" x2="43.10" y2="429.75" stroke="#505050" stroke-width="1.0"/>
<text x="37.30" y="429.95" font-size="12" font-weight="normal" fill="#1c1c1c" text-anchor="end" >35</text>
<line x1="37.60" y1="396.33" x2="43.10" y2="396.33" stroke="#505050" stroke-width="1.0"/>
<text x="37.30" y="396.53" font-size="12" font-weight="normal" fill="#1c1c1c" text-anchor="end" >40</text>
<line x1="37.60" y1="362.92" x2="43.10" y2="362.92" stroke="#505050" stroke-width="1.0"/>
<text x="37.30" y="363.12" font-size="12" font-weight="normal" fill="#1c1c1c" text-anchor="end" >45</text>
<line x1="37.60" y1="329.50" x2="43.10" y2="329.50" stroke="#505050" stroke-width="1.0"/>
<text x="37.30" y="329.70" font-size="12" font-weight="normal" fill="#1c1c1c" text-anchor="end" >50</text>
<line x1="297.83" y1="550.90" x2="297.83" y2="555.90" stroke="#505050" stroke-width="1.0"/>
<line x1="282.87" y1="550.90" x2="282.87" y2="555.90" stroke="#505050" stroke-width="1.0"/>
<line x1="252.93" y1="550.90" x2="252.93" y2="555.90" stroke="#505050" stroke-width="1.0"/>
<line x1="237.97" y1="550.90" x2="237.97" y2="555.90" stroke="#505050" stroke-width="1.0"/>
<line x1="223.00" y1="550.90" x2="223.00" y2="555.90" stroke="#505050" stroke-width="1.0"/>
<line x1="193.07" y1="550.90" x2="193.07" y2="555.90" stroke="#505050" stroke-width="1.0"/>
<line x1="178.10" y1="550.90" x2="178.10" y2="555.90" stroke="#505050" stroke-width="1.0"/>
<line x1="163.13" y1="550.90" x2="163.13" y2="555.90" stroke="#505050" stroke-width="1.0"/>
<line x1="133.20" y1="550.90" x2="133.20" y2="555.90" stroke="#505050" stroke-width="1.0"/>
<line x1="118.23" y1="550.90" x2="118.23" y2="555.90" stroke="#505050" stroke-width="1.0"/>
<line x1="103.27" y1="550.90" x2="103.27" y2="555.90" stroke="#505050" stroke-width="1.0"/>
<line x1="73.33" y1="550.90" x2="73.33" y2="555.90" stroke="#505050" stroke-width="1.0"/>
<line x1="58.37" y1="550.90" x2="58.37" y2="555.90" stroke="#505050" stroke-width="1.0"/>
<line x1="43.40" y1="550.90" x2="43.40" y2="555.90" stroke="#505050" stroke-width="1.0"/>
<line x1="88.30" y1="550.90" x2="88.30" y2="560.10" stroke="#505050" stroke-width="1.0"/>
<text x="88.30" y="570.80" font-size="12" font-weight="normal" fill="#1c1c1c" text-anchor="middle" >172</text>
<line x1="148.17" y1="550.90" x2="148.17" y2="560.10" stroke="#505050" stroke-width="1.0"/>
<text x="148.17" y="570.80" font-size="12" font-weight="normal" fill="#1c1c1c" text-anchor="middle" >168</text>
<line x1="208.03" y1="550.90" x2="208.03" y2="560.10" stroke="#505050" stroke-width="1.0"/>
<text x="208.03" y="570.80" font-size="12" font-weight="normal" fill="#1c1c1c" text-anchor="middle" >164</text>
<line x1="267.90" y1="550.90" x2="267.90" y2="560.10" stroke="#505050" stroke-width="1.0"/>
<text x="267.90" y="570.80" font-size="12" font-weight="normal" fill="#1c1c1c" text-anchor="middle" >160</text>
<text x="42.60" y="312.60" font-size="12" fill="#222">x 10<tspan font-size="12.6" dy="-5.6">2</tspan></text>
<text x="0" y="0" font-size="13" font-weight="bold" fill="#111" text-anchor="middle" transform="translate(11.60,437.60) rotate(-90)">Counts (s)</text>
<text x="177.50" y="584.70" font-size="12" font-weight="bold" fill="#111" text-anchor="middle" >Binding Energy (eV)</text>
<polyline points="53.9,525.0 54.3,525.0 54.7,525.1 55.2,525.1 55.6,525.2 56.0,525.2 56.5,525.3 56.9,525.3 57.3,525.4 57.7,525.4 58.2,525.5 58.6,525.5 59.0,525.6 59.5,525.6 59.9,525.7 60.3,525.7 60.8,525.8 61.2,525.8 61.6,525.8 62.0,525.9 62.5,525.9 62.9,526.0 63.3,526.0 63.8,526.1 64.2,526.1 64.6,526.2 65.1,526.2 65.5,526.3 65.9,526.3 66.3,526.4 66.8,526.4 67.2,526.5 67.6,526.5 68.1,526.6 68.5,526.6 68.9,526.7 69.3,526.7 69.8,526.8 70.2,526.8 70.6,526.9 71.1,526.9 71.5,527.0 71.9,527.0 72.4,527.1 72.8,527.1 73.2,527.2 73.6,527.2 74.1,527.3 74.5,527.3 74.9,527.4 75.4,527.4 75.8,527.5 76.2,527.5 76.7,527.6 77.1,527.6 77.5,527.7 77.9,527.7 78.4,527.8 78.8,527.8 79.2,527.9 79.7,527.9 80.1,528.0 80.5,528.0 81.0,528.1 81.4,528.1 81.8,528.2 82.2,528.2 82.7,528.3 83.1,528.3 83.5,528.4 84.0,528.4 84.4,528.5 84.8,528.5 85.2,528.6 85.7,528.6 86.1,528.7 86.5,528.7 87.0,528.8 87.4,528.8 87.8,528.9 88.3,528.9 88.7,529.0 89.1,529.0 89.5,529.1 90.0,529.1 90.4,529.2 90.8,529.2 91.3,529.3 91.7,529.4 92.1,529.4 92.6,529.5 93.0,529.5 93.4,529.6 93.8,529.6 94.3,529.7 94.7,529.7 95.1,529.8 95.6,529.8 96.0,529.9 96.4,529.9 96.9,530.0 97.3,530.0 97.7,530.1 98.1,530.1 98.6,530.2 99.0,530.2 99.4,530.3 99.9,530.3 100.3,530.4 100.7,530.4 101.2,530.5 101.6,530.6 102.0,530.6 102.4,530.7 102.9,530.7 103.3,530.8 103.7,530.8 104.2,530.9 104.6,530.9 105.0,531.0 105.4,531.0 105.9,531.1 106.3,531.1 106.7,531.2 107.2,531.2 107.6,531.3 108.0,531.4 108.5,531.4 108.9,531.5 109.3,531.5 109.7,531.6 110.2,531.6 110.6,531.7 111.0,531.7 111.5,531.8 111.9,531.8 112.3,531.9 112.8,532.0 113.2,532.0 113.6,532.1 114.0,532.1 114.5,532.2 114.9,532.2 115.3,532.3 115.8,532.3 116.2,532.4 116.6,532.5 117.1,532.5 117.5,532.6 117.9,532.6 118.3,532.7 118.8,532.7 119.2,532.8 119.6,532.9 120.1,532.9 120.5,533.0 120.9,533.0 121.3,533.1 121.8,533.2 122.2,533.2 122.6,533.3 123.1,533.3 123.5,533.4 123.9,533.5 124.4,533.5 124.8,533.6 125.2,533.7 125.6,533.7 126.1,533.8 126.5,533.8 126.9,533.9 127.4,534.0 127.8,534.0 128.2,534.1 128.7,534.2 129.1,534.2 129.5,534.3 129.9,534.4 130.4,534.4 130.8,534.5 131.2,534.6 131.7,534.7 132.1,534.7 132.5,534.8 133.0,534.9 133.4,534.9 133.8,535.0 134.2,535.1 134.7,535.1 135.1,535.2 135.5,535.3 136.0,535.3 136.4,535.4 136.8,535.5 137.3,535.6 137.7,535.6 138.1,535.7 138.5,535.8 139.0,535.8 139.4,535.9 139.8,536.0 140.3,536.1 140.7,536.1 141.1,536.2 141.5,536.3 142.0,536.3 142.4,536.4 142.8,536.5 143.3,536.6 143.7,536.6 144.1,536.7 144.6,536.8 145.0,536.8 145.4,536.9 145.8,537.0 146.3,537.1 146.7,537.1 147.1,537.2 147.6,537.3 148.0,537.3 148.4,537.4 148.9,537.5 149.3,537.5 149.7,537.6 150.1,537.7 150.6,537.8 151.0,537.8 151.4,537.9 151.9,538.0 152.3,538.0 152.7,538.1 153.2,538.2 153.6,538.2 154.0,538.3 154.4,538.4 154.9,538.4 155.3,538.5 155.7,538.6 156.2,538.7 156.6,538.7 157.0,538.8 157.4,538.9 157.9,538.9 158.3,539.0 158.7,539.0 159.2,539.1 159.6,539.2 160.0,539.2 160.5,539.3 160.9,539.4 161.3,539.4 161.7,539.5 162.2,539.6 162.6,539.6 163.0,539.7 163.5,539.7 163.9,539.8 164.3,539.9 164.8,539.9 165.2,540.0 165.6,540.0 166.0,540.1 166.5,540.2 166.9,540.2 167.3,540.3 167.8,540.3 168.2,540.4 168.6,540.4 169.1,540.5 169.5,540.6 169.9,540.6 170.3,540.7 170.8,540.7 171.2,540.8 171.6,540.8 172.1,540.9 172.5,540.9 172.9,541.0 173.4,541.0 173.8,541.1 174.2,541.1 174.6,541.2 175.1,541.2 175.5,541.3 175.9,541.3 176.4,541.3 176.8,541.4 177.2,541.4 177.6,541.5 178.1,541.5 178.5,541.6 178.9,541.6 179.4,541.6 179.8,541.7 180.2,541.7 180.7,541.7 181.1,541.8 181.5,541.8 181.9,541.9 182.4,541.9 182.8,541.9 183.2,542.0 183.7,542.0 184.1,542.0 184.5,542.1 185.0,542.1 185.4,542.1 185.8,542.2 186.2,542.2 186.7,542.2 187.1,542.3 187.5,542.3 188.0,542.4 188.4,542.4 188.8,542.4 189.3,542.4 189.7,542.5 190.1,542.5 190.5,542.5 191.0,542.6 191.4,542.6 191.8,542.6 192.3,542.7 192.7,542.7 193.1,542.7 193.5,542.8 194.0,542.8 194.4,542.8 194.8,542.9 195.3,542.9 195.7,542.9 196.1,542.9 196.6,543.0 197.0,543.0 197.4,543.0 197.8,543.1 198.3,543.1 198.7,543.1 199.1,543.1 199.6,543.2 200.0,543.2 200.4,543.2 200.9,543.2 201.3,543.3 201.7,543.3 202.1,543.3 202.6,543.4 203.0,543.4 203.4,543.4 203.9,543.4 204.3,543.5 204.7,543.5 205.2,543.5 205.6,543.5 206.0,543.6 206.4,543.6 206.9,543.6 207.3,543.6 207.7,543.6 208.2,543.7 208.6,543.7 209.0,543.7 209.5,543.7 209.9,543.8 210.3,543.8 210.7,543.8 211.2,543.8 211.6,543.8 212.0,543.9 212.5,543.9 212.9,543.9 213.3,543.9 213.7,544.0 214.2,544.0 214.6,544.0 215.0,544.0 215.5,544.0 215.9,544.1 216.3,544.1 216.8,544.1 217.2,544.1 217.6,544.1 218.0,544.1 218.5,544.2 218.9,544.2 219.3,544.2 219.8,544.2 220.2,544.2 220.6,544.3 221.1,544.3 221.5,544.3 221.9,544.3 222.3,544.3 222.8,544.4 223.2,544.4 223.6,544.4 224.1,544.4 224.5,544.4 224.9,544.4 225.4,544.5 225.8,544.5 226.2,544.5 226.6,544.5 227.1,544.5 227.5,544.5 227.9,544.6 228.4,544.6 228.8,544.6 229.2,544.6 229.6,544.6 230.1,544.6 230.5,544.7 230.9,544.7 231.4,544.7 231.8,544.7 232.2,544.7 232.7,544.7 233.1,544.8 233.5,544.8 233.9,544.8 234.4,544.8 234.8,544.8 235.2,544.8 235.7,544.8 236.1,544.9 236.5,544.9 237.0,544.9 237.4,544.9 237.8,544.9 238.2,544.9 238.7,544.9 239.1,545.0 239.5,545.0 240.0,545.0 240.4,545.0 240.8,545.0 241.3,545.0 241.7,545.0 242.1,545.0 242.5,545.1 243.0,545.1 243.4,545.1 243.8,545.1 244.3,545.1 244.7,545.1 245.1,545.1 245.5,545.1 246.0,545.1 246.4,545.2 246.8,545.2 247.3,545.2 247.7,545.2 248.1,545.2 248.6,545.2 249.0,545.2 249.4,545.2 249.8,545.2 250.3,545.2 250.7,545.3 251.1,545.3 251.6,545.3 252.0,545.3 252.4,545.3 252.9,545.3 253.3,545.3 253.7,545.3 254.1,545.3 254.6,545.3 255.0,545.3 255.4,545.3 255.9,545.4 256.3,545.4 256.7,545.4 257.2,545.4 257.6,545.4 258.0,545.4 258.4,545.4 258.9,545.4 259.3,545.4 259.7,545.4 260.2,545.4 260.6,545.5 261.0,545.5 261.5,545.5 261.9,545.5 262.3,545.5 262.7,545.5 263.2,545.5 263.6,545.5 264.0,545.5 264.5,545.5 264.9,545.5 265.3,545.5 265.7,545.5 266.2,545.6 266.6,545.6 267.0,545.6 267.5,545.6 267.9,545.6 268.3,545.6 268.8,545.6 269.2,545.6 269.6,545.6 270.0,545.6 270.5,545.6 270.9,545.6 271.3,545.7 271.8,545.7 272.2,545.7 272.6,545.7 273.1,545.7 273.5,545.7 273.9,545.7 274.3,545.7 274.8,545.7 275.2,545.7 275.6,545.7 276.1,545.7 276.5,545.7 276.9,545.7 277.4,545.8 277.8,545.8 278.2,545.8 278.6,545.8 279.1,545.8 279.5,545.8 279.9,545.8 280.4,545.8 280.8,545.8 281.2,545.8 281.6,545.8 282.1,545.8 282.5,545.8 282.9,545.8 283.4,545.8 283.8,545.8 284.2,545.9 284.7,545.9 285.1,545.9 285.5,545.9 285.9,545.9 286.4,545.9 286.8,545.9 287.2,545.9 287.7,545.9 288.1,545.9 288.5,545.9 289.0,545.9 289.4,545.9 289.8,545.9 290.2,545.9 290.7,545.9 291.1,545.9 291.5,545.9 292.0,545.9 292.4,545.9 292.8,546.0 293.3,546.0 293.7,546.0 294.1,546.0 294.5,546.0 295.0,546.0 295.4,546.0 295.8,546.0 296.3,546.0 296.7,546.0 297.1,546.0 297.6,546.0 298.0,546.0 298.4,546.0 298.8,546.0 299.3,546.0 299.7,546.0 300.1,546.0 300.6,546.0 301.0,546.0 301.4,546.0 301.8,546.0 302.3,546.0 302.7,546.0 303.1,546.0 303.6,546.0 304.0,546.0 304.4,546.0 304.9,546.0 305.3,546.0 305.7,546.0 306.1,546.0 306.6,546.0 307.0,546.0 307.4,546.0 307.9,546.0 308.3,546.0 308.7,546.0 309.2,546.0 309.6,546.0 310.0,546.0 310.4,546.0 310.9,546.0 311.3,546.0" fill="none" stroke="#8a5a36" stroke-width="1.0" stroke-linejoin="round" />
<polyline points="53.9,524.5 54.3,524.5 54.7,524.5 55.2,524.6 55.6,524.6 56.0,524.7 56.5,524.7 56.9,524.7 57.3,524.8 57.7,524.8 58.2,524.9 58.6,524.9 59.0,524.9 59.5,525.0 59.9,525.0 60.3,525.1 60.8,525.1 61.2,525.1 61.6,525.2 62.0,525.2 62.5,525.2 62.9,525.3 63.3,525.3 63.8,525.3 64.2,525.4 64.6,525.4 65.1,525.4 65.5,525.5 65.9,525.5 66.3,525.5 66.8,525.6 67.2,525.6 67.6,525.6 68.1,525.6 68.5,525.7 68.9,525.7 69.3,525.7 69.8,525.7 70.2,525.7 70.6,525.8 71.1,525.8 71.5,525.8 71.9,525.8 72.4,525.8 72.8,525.8 73.2,525.8 73.6,525.8 74.1,525.8 74.5,525.8 74.9,525.8 75.4,525.8 75.8,525.8 76.2,525.7 76.7,525.7 77.1,525.7 77.5,525.7 77.9,525.6 78.4,525.6 78.8,525.5 79.2,525.5 79.7,525.4 80.1,525.4 80.5,525.3 81.0,525.2 81.4,525.1 81.8,525.1 82.2,525.0 82.7,524.9 83.1,524.7 83.5,524.6 84.0,524.5 84.4,524.4 84.8,524.2 85.2,524.1 85.7,523.9 86.1,523.7 86.5,523.5 87.0,523.4 87.4,523.1 87.8,522.9 88.3,522.7 88.7,522.5 89.1,522.2 89.5,521.9 90.0,521.6 90.4,521.3 90.8,521.0 91.3,520.7 91.7,520.4 92.1,520.0 92.6,519.6 93.0,519.2 93.4,518.8 93.8,518.4 94.3,517.9 94.7,517.5 95.1,517.0 95.6,516.5 96.0,516.0 96.4,515.4 96.9,514.8 97.3,514.2 97.7,513.6 98.1,513.0 98.6,512.3 99.0,511.7 99.4,511.0 99.9,510.2 100.3,509.5 100.7,508.7 101.2,507.9 101.6,507.1 102.0,506.3 102.4,505.4 102.9,504.5 103.3,503.6 103.7,502.6 104.2,501.7 104.6,500.7 105.0,499.7 105.4,498.6 105.9,497.6 106.3,496.5 106.7,495.4 107.2,494.2 107.6,493.1 108.0,491.9 108.5,490.7 108.9,489.4 109.3,488.2 109.7,486.9 110.2,485.6 110.6,484.3 111.0,483.0 111.5,481.6 111.9,480.3 112.3,478.9 112.8,477.5 113.2,476.1 113.6,474.6 114.0,473.2 114.5,471.7 114.9,470.3 115.3,468.8 115.8,467.3 116.2,465.8 116.6,464.3 117.1,462.8 117.5,461.3 117.9,459.8 118.3,458.3 118.8,456.8 119.2,455.3 119.6,453.7 120.1,452.2 120.5,450.8 120.9,449.3 121.3,447.8 121.8,446.3 122.2,444.9 122.6,443.5 123.1,442.1 123.5,440.7 123.9,439.3 124.4,437.9 124.8,436.6 125.2,435.3 125.6,434.0 126.1,432.8 126.5,431.6 126.9,430.4 127.4,429.3 127.8,428.1 128.2,427.1 128.7,426.0 129.1,425.0 129.5,424.1 129.9,423.2 130.4,422.3 130.8,421.5 131.2,420.7 131.7,420.0 132.1,419.4 132.5,418.7 133.0,418.2 133.4,417.7 133.8,417.2 134.2,416.8 134.7,416.5 135.1,416.2 135.5,415.9 136.0,415.8 136.4,415.7 136.8,415.6 137.3,415.6 137.7,415.7 138.1,415.8 138.5,416.0 139.0,416.3 139.4,416.7 139.8,417.1 140.3,417.6 140.7,418.2 141.1,418.8 141.5,419.6 142.0,420.4 142.4,421.2 142.8,422.1 143.3,423.1 143.7,424.2 144.1,425.3 144.6,426.5 145.0,427.7 145.4,429.0 145.8,430.3 146.3,431.7 146.7,433.2 147.1,434.6 147.6,436.2 148.0,437.7 148.4,439.3 148.9,440.9 149.3,442.6 149.7,444.3 150.1,446.0 150.6,447.8 151.0,449.5 151.4,451.3 151.9,453.1 152.3,455.0 152.7,456.8 153.2,458.6 153.6,460.5 154.0,462.3 154.4,464.2 154.9,466.0 155.3,467.9 155.7,469.8 156.2,471.6 156.6,473.4 157.0,475.3 157.4,477.1 157.9,478.9 158.3,480.7 158.7,482.4 159.2,484.2 159.6,485.9 160.0,487.6 160.5,489.3 160.9,491.0 161.3,492.6 161.7,494.2 162.2,495.8 162.6,497.3 163.0,498.9 163.5,500.4 163.9,501.8 164.3,503.3 164.8,504.7 165.2,506.1 165.6,507.4 166.0,508.7 166.5,510.0 166.9,511.2 167.3,512.4 167.8,513.6 168.2,514.8 168.6,515.9 169.1,517.0 169.5,518.0 169.9,519.0 170.3,520.0 170.8,521.0 171.2,521.9 171.6,522.8 172.1,523.7 172.5,524.5 172.9,525.3 173.4,526.1 173.8,526.8 174.2,527.5 174.6,528.2 175.1,528.9 175.5,529.5 175.9,530.1 176.4,530.7 176.8,531.3 177.2,531.8 177.6,532.4 178.1,532.9 178.5,533.3 178.9,533.8 179.4,534.2 179.8,534.6 180.2,535.0 180.7,535.4 181.1,535.8 181.5,536.1 181.9,536.4 182.4,536.8 182.8,537.1 183.2,537.3 183.7,537.6 184.1,537.9 184.5,538.1 185.0,538.4 185.4,538.6 185.8,538.8 186.2,539.0 186.7,539.2 187.1,539.4 187.5,539.6 188.0,539.7 188.4,539.9 188.8,540.1 189.3,540.2 189.7,540.3 190.1,540.5 190.5,540.6 191.0,540.7 191.4,540.8 191.8,540.9 192.3,541.0 192.7,541.1 193.1,541.2 193.5,541.3 194.0,541.4 194.4,541.5 194.8,541.6 195.3,541.7 195.7,541.7 196.1,541.8 196.6,541.9 197.0,541.9 197.4,542.0 197.8,542.1 198.3,542.1 198.7,542.2 199.1,542.2 199.6,542.3 200.0,542.3 200.4,542.4 200.9,542.4 201.3,542.5 201.7,542.5 202.1,542.6 202.6,542.6 203.0,542.7 203.4,542.7 203.9,542.7 204.3,542.8 204.7,542.8 205.2,542.9 205.6,542.9 206.0,542.9 206.4,543.0 206.9,543.0 207.3,543.0 207.7,543.1" fill="none" stroke="#9ac272" stroke-width="1.0" stroke-linejoin="round" />
<polyline points="155.7,536.3 156.2,536.3 156.6,536.2 157.0,536.2 157.4,536.2 157.9,536.1 158.3,536.1 158.7,536.0 159.2,536.0 159.6,535.9 160.0,535.8 160.5,535.7 160.9,535.6 161.3,535.5 161.7,535.4 162.2,535.3 162.6,535.1 163.0,535.0 163.5,534.8 163.9,534.6 164.3,534.4 164.8,534.2 165.2,533.9 165.6,533.7 166.0,533.4 166.5,533.1 166.9,532.8 167.3,532.4 167.8,532.1 168.2,531.7 168.6,531.3 169.1,530.8 169.5,530.4 169.9,529.8 170.3,529.3 170.8,528.8 171.2,528.2 171.6,527.5 172.1,526.9 172.5,526.1 172.9,525.4 173.4,524.6 173.8,523.8 174.2,522.9 174.6,522.0 175.1,521.1 175.5,520.1 175.9,519.0 176.4,517.9 176.8,516.8 177.2,515.6 177.6,514.4 178.1,513.1 178.5,511.8 178.9,510.4 179.4,508.9 179.8,507.4 180.2,505.8 180.7,504.2 181.1,502.6 181.5,500.9 181.9,499.1 182.4,497.2 182.8,495.4 183.2,493.4 183.7,491.4 184.1,489.4 184.5,487.3 185.0,485.1 185.4,482.9 185.8,480.7 186.2,478.3 186.7,476.0 187.1,473.6 187.5,471.1 188.0,468.7 188.4,466.1 188.8,463.6 189.3,461.0 189.7,458.3 190.1,455.7 190.5,453.0 191.0,450.3 191.4,447.5 191.8,444.8 192.3,442.0 192.7,439.2 193.1,436.4 193.5,433.6 194.0,430.8 194.4,428.1 194.8,425.3 195.3,422.5 195.7,419.8 196.1,417.0 196.6,414.3 197.0,411.7 197.4,409.1 197.8,406.5 198.3,403.9 198.7,401.4 199.1,399.0 199.6,396.6 200.0,394.3 200.4,392.1 200.9,389.9 201.3,387.9 201.7,385.9 202.1,384.0 202.6,382.1 203.0,380.4 203.4,378.8 203.9,377.3 204.3,375.9 204.7,374.6 205.2,373.5 205.6,372.4 206.0,371.5 206.4,370.7 206.9,370.0 207.3,369.5 207.7,369.1 208.2,368.8 208.6,368.6 209.0,368.6 209.5,368.7 209.9,369.0 210.3,369.4 210.7,369.9 211.2,370.5 211.6,371.3 212.0,372.2 212.5,373.2 212.9,374.3 213.3,375.6 213.7,377.0 214.2,378.5 214.6,380.1 215.0,381.8 215.5,383.6 215.9,385.5 216.3,387.5 216.8,389.5 217.2,391.7 217.6,393.9 218.0,396.2 218.5,398.6 218.9,401.1 219.3,403.6 219.8,406.1 220.2,408.7 220.6,411.4 221.1,414.1 221.5,416.8 221.9,419.6 222.3,422.3 222.8,425.1 223.2,428.0 223.6,430.8 224.1,433.6 224.5,436.5 224.9,439.3 225.4,442.1 225.8,445.0 226.2,447.8 226.6,450.6 227.1,453.4 227.5,456.1 227.9,458.8 228.4,461.5 228.8,464.2 229.2,466.8 229.6,469.4 230.1,472.0 230.5,474.5 230.9,477.0 231.4,479.4 231.8,481.8 232.2,484.2 232.7,486.4 233.1,488.7 233.5,490.9 233.9,493.0 234.4,495.1 234.8,497.1 235.2,499.1 235.7,501.0 236.1,502.8 236.5,504.6 237.0,506.4 237.4,508.1 237.8,509.7 238.2,511.3 238.7,512.8 239.1,514.3 239.5,515.7 240.0,517.1 240.4,518.4 240.8,519.7 241.3,520.9 241.7,522.1 242.1,523.2 242.5,524.3 243.0,525.4 243.4,526.3 243.8,527.3 244.3,528.2 244.7,529.1 245.1,529.9 245.5,530.7 246.0,531.4 246.4,532.1 246.8,532.8 247.3,533.5 247.7,534.1 248.1,534.7 248.6,535.2 249.0,535.8 249.4,536.3 249.8,536.7 250.3,537.2 250.7,537.6 251.1,538.0 251.6,538.4 252.0,538.7 252.4,539.1 252.9,539.4 253.3,539.7 253.7,540.0 254.1,540.2 254.6,540.5 255.0,540.7 255.4,541.0 255.9,541.2 256.3,541.4 256.7,541.6 257.2,541.7 257.6,541.9 258.0,542.1 258.4,542.2 258.9,542.3 259.3,542.5 259.7,542.6 260.2,542.7 260.6,542.8 261.0,542.9 261.5,543.0 261.9,543.1 262.3,543.2 262.7,543.3 263.2,543.4 263.6,543.4 264.0,543.5 264.5,543.6 264.9,543.6 265.3,543.7 265.7,543.7 266.2,543.8 266.6,543.8 267.0,543.9 267.5,543.9 267.9,544.0 268.3,544.0 268.8,544.1 269.2,544.1 269.6,544.1 270.0,544.2 270.5,544.2 270.9,544.2 271.3,544.3 271.8,544.3 272.2,544.3 272.6,544.4 273.1,544.4 273.5,544.4 273.9,544.5 274.3,544.5 274.8,544.5 275.2,544.5 275.6,544.6 276.1,544.6 276.5,544.6 276.9,544.6 277.4,544.6 277.8,544.7 278.2,544.7 278.6,544.7 279.1,544.7 279.5,544.7 279.9,544.8 280.4,544.8 280.8,544.8 281.2,544.8 281.6,544.8 282.1,544.9 282.5,544.9 282.9,544.9 283.4,544.9 283.8,544.9 284.2,544.9 284.7,544.9 285.1,545.0 285.5,545.0 285.9,545.0 286.4,545.0 286.8,545.0 287.2,545.0 287.7,545.1 288.1,545.1 288.5,545.1 289.0,545.1 289.4,545.1 289.8,545.1 290.2,545.1 290.7,545.1 291.1,545.2 291.5,545.2 292.0,545.2 292.4,545.2 292.8,545.2 293.3,545.2 293.7,545.2 294.1,545.2 294.5,545.3 295.0,545.3 295.4,545.3 295.8,545.3 296.3,545.3 296.7,545.3 297.1,545.3 297.6,545.3 298.0,545.3 298.4,545.3 298.8,545.3 299.3,545.4 299.7,545.4 300.1,545.4 300.6,545.4 301.0,545.4 301.4,545.4 301.8,545.4 302.3,545.4 302.7,545.4 303.1,545.4 303.6,545.4 304.0,545.4 304.4,545.4 304.9,545.5 305.3,545.5 305.7,545.5 306.1,545.5 306.6,545.5 307.0,545.5 307.4,545.5 307.9,545.5 308.3,545.5 308.7,545.5 309.2,545.5 309.6,545.5 310.0,545.5 310.4,545.5 310.9,545.5 311.3,545.5" fill="none" stroke="#d46a6a" stroke-width="1.0" stroke-linejoin="round" />
<polyline points="208.2,543.6 208.6,543.6 209.0,543.6 209.5,543.6 209.9,543.7 210.3,543.7 210.7,543.7 211.2,543.7 211.6,543.7 212.0,543.7 212.5,543.8 212.9,543.8 213.3,543.8 213.7,543.8 214.2,543.8 214.6,543.8 215.0,543.8 215.5,543.8 215.9,543.8 216.3,543.8 216.8,543.8 217.2,543.8 217.6,543.8 218.0,543.8 218.5,543.7 218.9,543.7 219.3,543.7 219.8,543.6 220.2,543.5 220.6,543.4 221.1,543.3 221.5,543.2 221.9,543.1 222.3,542.9 222.8,542.7 223.2,542.5 223.6,542.3 224.1,542.0 224.5,541.7 224.9,541.4 225.4,541.0 225.8,540.6 226.2,540.2 226.6,539.7 227.1,539.1 227.5,538.6 227.9,537.9 228.4,537.3 228.8,536.5 229.2,535.8 229.6,535.0 230.1,534.2 230.5,533.3 230.9,532.4 231.4,531.4 231.8,530.5 232.2,529.5 232.7,528.5 233.1,527.5 233.5,526.5 233.9,525.6 234.4,524.6 234.8,523.7 235.2,522.8 235.7,521.9 236.1,521.2 236.5,520.4 237.0,519.8 237.4,519.2 237.8,518.7 238.2,518.3 238.7,518.0 239.1,517.8 239.5,517.7 240.0,517.7 240.4,517.8 240.8,518.1 241.3,518.4 241.7,518.8 242.1,519.3 242.5,519.9 243.0,520.6 243.4,521.3 243.8,522.1 244.3,523.0 244.7,523.9 245.1,524.9 245.5,525.8 246.0,526.8 246.4,527.8 246.8,528.9 247.3,529.9 247.7,530.9 248.1,531.9 248.6,532.8 249.0,533.8 249.4,534.7 249.8,535.5 250.3,536.4 250.7,537.2 251.1,537.9 251.6,538.6 252.0,539.3 252.4,539.9 252.9,540.4 253.3,540.9 253.7,541.4 254.1,541.9 254.6,542.3 255.0,542.6 255.4,543.0 255.9,543.2 256.3,543.5 256.7,543.7 257.2,544.0 257.6,544.1 258.0,544.3 258.4,544.5 258.9,544.6 259.3,544.7 259.7,544.8 260.2,544.9 260.6,545.0 261.0,545.0 261.5,545.1 261.9,545.1 262.3,545.2 262.7,545.2 263.2,545.3 263.6,545.3 264.0,545.3 264.5,545.3 264.9,545.4 265.3,545.4 265.7,545.4 266.2,545.4 266.6,545.4 267.0,545.4 267.5,545.5 267.9,545.5 268.3,545.5 268.8,545.5 269.2,545.5 269.6,545.5 270.0,545.5 270.5,545.5 270.9,545.6 271.3,545.6 271.8,545.6 272.2,545.6 272.6,545.6 273.1,545.6 273.5,545.6 273.9,545.6 274.3,545.6 274.8,545.6 275.2,545.6 275.6,545.7 276.1,545.7 276.5,545.7 276.9,545.7 277.4,545.7 277.8,545.7 278.2,545.7 278.6,545.7 279.1,545.7 279.5,545.7 279.9,545.7 280.4,545.7 280.8,545.8 281.2,545.8 281.6,545.8 282.1,545.8 282.5,545.8 282.9,545.8 283.4,545.8 283.8,545.8 284.2,545.8 284.7,545.8 285.1,545.8 285.5,545.8 285.9,545.8 286.4,545.8 286.8,545.8 287.2,545.9 287.7,545.9 288.1,545.9 288.5,545.9 289.0,545.9 289.4,545.9 289.8,545.9 290.2,545.9 290.7,545.9 291.1,545.9 291.5,545.9 292.0,545.9 292.4,545.9 292.8,545.9 293.3,545.9 293.7,545.9 294.1,545.9 294.5,545.9 295.0,545.9 295.4,545.9 295.8,546.0 296.3,546.0 296.7,546.0 297.1,546.0 297.6,546.0 298.0,546.0 298.4,546.0 298.8,546.0 299.3,546.0 299.7,546.0 300.1,546.0 300.6,546.0 301.0,546.0 301.4,546.0 301.8,546.0 302.3,546.0 302.7,546.0 303.1,546.0 303.6,546.0 304.0,546.0 304.4,546.0 304.9,546.0 305.3,546.0 305.7,546.0 306.1,546.0 306.6,546.0 307.0,546.0 307.4,546.0 307.9,546.0 308.3,546.0 308.7,546.0 309.2,546.0 309.6,546.0 310.0,546.0 310.4,546.0 310.9,546.0 311.3,546.0" fill="none" stroke="#6e98d6" stroke-width="1.0" stroke-linejoin="round" />
<polyline points="53.9,524.2 54.3,524.3 54.7,524.3 55.2,524.4 55.6,524.4 56.0,524.4 56.5,524.5 56.9,524.5 57.3,524.5 57.7,524.6 58.2,524.6 58.6,524.7 59.0,524.7 59.5,524.7 59.9,524.8 60.3,524.8 60.8,524.8 61.2,524.9 61.6,524.9 62.0,524.9 62.5,525.0 62.9,525.0 63.3,525.1 63.8,525.1 64.2,525.1 64.6,525.1 65.1,525.2 65.5,525.2 65.9,525.2 66.3,525.3 66.8,525.3 67.2,525.3 67.6,525.3 68.1,525.4 68.5,525.4 68.9,525.4 69.3,525.4 69.8,525.4 70.2,525.5 70.6,525.5 71.1,525.5 71.5,525.5 71.9,525.5 72.4,525.5 72.8,525.5 73.2,525.5 73.6,525.5 74.1,525.5 74.5,525.5 74.9,525.5 75.4,525.5 75.8,525.5 76.2,525.4 76.7,525.4 77.1,525.4 77.5,525.3 77.9,525.3 78.4,525.3 78.8,525.2 79.2,525.2 79.7,525.1 80.1,525.0 80.5,525.0 81.0,524.9 81.4,524.8 81.8,524.7 82.2,524.6 82.7,524.5 83.1,524.4 83.5,524.3 84.0,524.2 84.4,524.0 84.8,523.9 85.2,523.7 85.7,523.5 86.1,523.4 86.5,523.2 87.0,523.0 87.4,522.8 87.8,522.6 88.3,522.3 88.7,522.1 89.1,521.8 89.5,521.5 90.0,521.3 90.4,521.0 90.8,520.6 91.3,520.3 91.7,520.0 92.1,519.6 92.6,519.2 93.0,518.8 93.4,518.4 93.8,518.0 94.3,517.5 94.7,517.1 95.1,516.6 95.6,516.1 96.0,515.5 96.4,515.0 96.9,514.4 97.3,513.8 97.7,513.2 98.1,512.6 98.6,511.9 99.0,511.2 99.4,510.5 99.9,509.8 100.3,509.0 100.7,508.3 101.2,507.5 101.6,506.6 102.0,505.8 102.4,504.9 102.9,504.0 103.3,503.1 103.7,502.2 104.2,501.2 104.6,500.2 105.0,499.2 105.4,498.1 105.9,497.1 106.3,496.0 106.7,494.8 107.2,493.7 107.6,492.5 108.0,491.4 108.5,490.1 108.9,488.9 109.3,487.7 109.7,486.4 110.2,485.1 110.6,483.8 111.0,482.4 111.5,481.1 111.9,479.7 112.3,478.3 112.8,476.9 113.2,475.5 113.6,474.0 114.0,472.6 114.5,471.1 114.9,469.7 115.3,468.2 115.8,466.7 116.2,465.2 116.6,463.7 117.1,462.2 117.5,460.7 117.9,459.1 118.3,457.6 118.8,456.1 119.2,454.6 119.6,453.1 120.1,451.6 120.5,450.1 120.9,448.6 121.3,447.1 121.8,445.6 122.2,444.2 122.6,442.8 123.1,441.3 123.5,439.9 123.9,438.6 124.4,437.2 124.8,435.9 125.2,434.6 125.6,433.3 126.1,432.0 126.5,430.8 126.9,429.6 127.4,428.5 127.8,427.3 128.2,426.3 128.7,425.2 129.1,424.2 129.5,423.3 129.9,422.3 130.4,421.5 130.8,420.6 131.2,419.9 131.7,419.1 132.1,418.5 132.5,417.8 133.0,417.3 133.4,416.7 133.8,416.3 134.2,415.9 134.7,415.5 135.1,415.2 135.5,415.0 136.0,414.8 136.4,414.7 136.8,414.6 137.3,414.6 137.7,414.6 138.1,414.8 138.5,415.0 139.0,415.2 139.4,415.6 139.8,416.0 140.3,416.5 140.7,417.1 141.1,417.7 141.5,418.4 142.0,419.2 142.4,420.0 142.8,420.9 143.3,421.9 143.7,422.9 144.1,424.0 144.6,425.2 145.0,426.4 145.4,427.7 145.8,429.0 146.3,430.3 146.7,431.8 147.1,433.2 147.6,434.7 148.0,436.2 148.4,437.8 148.9,439.4 149.3,441.0 149.7,442.7 150.1,444.4 150.6,446.1 151.0,447.8 151.4,449.5 151.9,451.3 152.3,453.0 152.7,454.8 153.2,456.6 153.6,458.3 154.0,460.1 154.4,461.9 154.9,463.7 155.3,465.4 155.7,467.2 156.2,468.9 156.6,470.6 157.0,472.3 157.4,474.0 157.9,475.6 158.3,477.2 158.7,478.8 159.2,480.4 159.6,481.9 160.0,483.4 160.5,484.9 160.9,486.3 161.3,487.7 161.7,489.1 162.2,490.4 162.6,491.6 163.0,492.8 163.5,494.0 163.9,495.1 164.3,496.2 164.8,497.2 165.2,498.2 165.6,499.2 166.0,500.1 166.5,500.9 166.9,501.7 167.3,502.4 167.8,503.1 168.2,503.7 168.6,504.3 169.1,504.8 169.5,505.3 169.9,505.7 170.3,506.1 170.8,506.4 171.2,506.6 171.6,506.8 172.1,506.9 172.5,507.0 172.9,507.0 173.4,507.0 173.8,506.9 174.2,506.8 174.6,506.5 175.1,506.2 175.5,505.9 175.9,505.5 176.4,505.0 176.8,504.5 177.2,503.9 177.6,503.2 178.1,502.4 178.5,501.6 178.9,500.7 179.4,499.8 179.8,498.7 180.2,497.6 180.7,496.4 181.1,495.2 181.5,493.9 181.9,492.5 182.4,491.0 182.8,489.5 183.2,487.8 183.7,486.2 184.1,484.4 184.5,482.6 185.0,480.7 185.4,478.7 185.8,476.7 186.2,474.6 186.7,472.5 187.1,470.3 187.5,468.0 188.0,465.7 188.4,463.3 188.8,460.9 189.3,458.5 189.7,456.0 190.1,453.4 190.5,450.8 191.0,448.2 191.4,445.6 191.8,442.9 192.3,440.2 192.7,437.5 193.1,434.8 193.5,432.1 194.0,429.4 194.4,426.7 194.8,423.9 195.3,421.2 195.7,418.5 196.1,415.8 196.6,413.2 197.0,410.6 197.4,408.0 197.8,405.4 198.3,402.9 198.7,400.4 199.1,398.0 199.6,395.7 200.0,393.4 200.4,391.2 200.9,389.1 201.3,387.0 201.7,385.0 202.1,383.1 202.6,381.3 203.0,379.6 203.4,378.0 203.9,376.5 204.3,375.2 204.7,373.9 205.2,372.7 205.6,371.7 206.0,370.8 206.4,370.0 206.9,369.3 207.3,368.8 207.7,368.4 208.2,368.1 208.6,368.0 209.0,368.0 209.5,368.1 209.9,368.3 210.3,368.7 210.7,369.2 211.2,369.9 211.6,370.7 212.0,371.6 212.5,372.6 212.9,373.7 213.3,375.0 213.7,376.3 214.2,377.8 214.6,379.4 215.0,381.1 215.5,382.9 215.9,384.8 216.3,386.8 216.8,388.8 217.2,390.9 217.6,393.2 218.0,395.4 218.5,397.8 218.9,400.2 219.3,402.6 219.8,405.1 220.2,407.6 220.6,410.1 221.1,412.7 221.5,415.3 221.9,417.9 222.3,420.5 222.8,423.1 223.2,425.7 223.6,428.3 224.1,430.9 224.5,433.4 224.9,435.9 225.4,438.3 225.8,440.7 226.2,443.1 226.6,445.4 227.1,447.6 227.5,449.8 227.9,451.9 228.4,453.9 228.8,455.8 229.2,457.7 229.6,459.5 230.1,461.2 230.5,462.8 230.9,464.4 231.4,465.8 231.8,467.3 232.2,468.6 232.7,469.9 233.1,471.1 233.5,472.3 233.9,473.4 234.4,474.6 234.8,475.6 235.2,476.7 235.7,477.8 236.1,478.8 236.5,479.9 237.0,481.0 237.4,482.1 237.8,483.2 238.2,484.4 238.7,485.6 239.1,486.9 239.5,488.2 240.0,489.6 240.4,491.0 240.8,492.5 241.3,494.0 241.7,495.6 242.1,497.2 242.5,498.9 243.0,500.6 243.4,502.3 243.8,504.1 244.3,505.8 244.7,507.6 245.1,509.4 245.5,511.1 246.0,512.9 246.4,514.6 246.8,516.3 247.3,517.9 247.7,519.5 248.1,521.1 248.6,522.6 249.0,524.1 249.4,525.5 249.8,526.8 250.3,528.1 250.7,529.3 251.1,530.4 251.6,531.5 252.0,532.5 252.4,533.4 252.9,534.3 253.3,535.1 253.7,535.9 254.1,536.6 254.6,537.2 255.0,537.8 255.4,538.4 255.9,538.8 256.3,539.3 256.7,539.7 257.2,540.1 257.6,540.4 258.0,540.8 258.4,541.0 258.9,541.3 259.3,541.5 259.7,541.8 260.2,542.0 260.6,542.1 261.0,542.3 261.5,542.4 261.9,542.6 262.3,542.7 262.7,542.8 263.2,542.9 263.6,543.0 264.0,543.1 264.5,543.2 264.9,543.3 265.3,543.3 265.7,543.4 266.2,543.5 266.6,543.5 267.0,543.6 267.5,543.6 267.9,543.7 268.3,543.7 268.8,543.8 269.2,543.8 269.6,543.9 270.0,543.9 270.5,544.0 270.9,544.0 271.3,544.0 271.8,544.1 272.2,544.1 272.6,544.1 273.1,544.2 273.5,544.2 273.9,544.2 274.3,544.2 274.8,544.3 275.2,544.3 275.6,544.3 276.1,544.4 276.5,544.4 276.9,544.4 277.4,544.4 277.8,544.5 278.2,544.5 278.6,544.5 279.1,544.5 279.5,544.5 279.9,544.6 280.4,544.6 280.8,544.6 281.2,544.6 281.6,544.6 282.1,544.7 282.5,544.7 282.9,544.7 283.4,544.7 283.8,544.7 284.2,544.8 284.7,544.8 285.1,544.8 285.5,544.8 285.9,544.8 286.4,544.8 286.8,544.9 287.2,544.9 287.7,544.9 288.1,544.9 288.5,544.9 289.0,544.9 289.4,544.9 289.8,545.0 290.2,545.0 290.7,545.0 291.1,545.0 291.5,545.0 292.0,545.0 292.4,545.0 292.8,545.1 293.3,545.1 293.7,545.1 294.1,545.1 294.5,545.1 295.0,545.1 295.4,545.1 295.8,545.1 296.3,545.1 296.7,545.2 297.1,545.2 297.6,545.2 298.0,545.2 298.4,545.2 298.8,545.2 299.3,545.2 299.7,545.2 300.1,545.2 300.6,545.2 301.0,545.3 301.4,545.3 301.8,545.3 302.3,545.3 302.7,545.3 303.1,545.3 303.6,545.3 304.0,545.3 304.4,545.3 304.9,545.3 305.3,545.3 305.7,545.3 306.1,545.3 306.6,545.4 307.0,545.4 307.4,545.4 307.9,545.4 308.3,545.4 308.7,545.4 309.2,545.4 309.6,545.4 310.0,545.4 310.4,545.4 310.9,545.4 311.3,545.4" fill="none" stroke="#8a5a36" stroke-width="1.0" stroke-linejoin="round" />
<polyline points="43.4,522.8 44.1,524.8 44.9,527.5 45.6,527.1 46.4,527.5 47.1,527.5 47.9,522.8 48.6,523.0 49.4,524.3 50.1,524.8 50.9,525.3 51.6,524.0 52.4,524.6 53.1,523.5 53.9,521.2 54.6,521.8 55.4,524.0 56.1,525.5 56.9,525.0 57.6,524.1 58.4,523.9 59.1,523.7 59.9,522.6 60.6,525.1 61.4,527.9 62.1,524.2 62.9,524.3 63.6,526.6 64.4,526.5 65.1,527.3 65.9,526.9 66.6,521.9 67.3,520.7 68.1,525.3 68.8,528.0 69.6,527.1 70.3,524.7 71.1,525.2 71.8,527.5 72.6,525.3 73.3,523.2 74.1,524.9 74.8,527.4 75.6,528.9 76.3,528.4 77.1,529.2 77.8,527.2 78.6,525.1 79.3,525.3 80.1,522.0 80.8,521.0 81.6,524.7 82.3,525.0 83.1,521.8 83.8,523.3 84.6,525.4 85.3,524.6 86.1,524.9 86.8,523.2 87.6,523.5 88.3,525.4 89.0,523.1 89.8,521.8 90.5,520.9 91.3,519.9 92.0,519.6 92.8,518.2 93.5,519.2 94.3,519.4 95.0,517.3 95.8,516.3 96.5,514.5 97.3,514.4 98.0,514.1 98.8,511.5 99.5,509.4 100.3,509.4 101.0,506.5 101.8,502.5 102.5,504.0 103.3,504.2 104.0,499.1 104.8,496.9 105.5,497.1 106.3,496.1 107.0,494.8 107.8,492.8 108.5,490.7 109.3,487.7 110.0,485.3 110.8,484.0 111.5,482.4 112.2,479.7 113.0,476.9 113.7,474.5 114.5,470.3 115.2,467.3 116.0,465.1 116.7,462.5 117.5,460.3 118.2,458.1 119.0,455.7 119.7,452.3 120.5,450.4 121.2,447.3 122.0,443.8 122.7,443.1 123.5,441.1 124.2,438.6 125.0,435.8 125.7,433.5 126.5,430.5 127.2,428.5 128.0,429.6 128.7,427.7 129.5,425.8 130.2,423.6 131.0,419.5 131.7,417.6 132.5,418.5 133.2,418.8 133.9,415.3 134.7,413.7 135.4,414.7 136.2,413.8 136.9,411.5 137.7,411.4 138.4,413.7 139.2,415.0 139.9,415.3 140.7,417.0 141.4,419.7 142.2,420.4 142.9,421.9 143.7,423.8 144.4,424.8 145.2,424.8 145.9,427.9 146.7,432.5 147.4,434.4 148.2,436.6 148.9,438.3 149.7,442.0 150.4,446.6 151.2,450.6 151.9,453.7 152.7,454.9 153.4,457.1 154.2,461.5 154.9,465.0 155.7,467.1 156.4,469.4 157.1,472.9 157.9,476.4 158.6,480.3 159.4,483.8 160.1,483.4 160.9,486.8 161.6,490.9 162.4,491.1 163.1,493.2 163.9,496.1 164.6,497.7 165.4,498.7 166.1,500.3 166.9,503.3 167.6,504.6 168.4,504.8 169.1,506.1 169.9,505.9 170.6,505.5 171.4,505.4 172.1,506.6 172.9,506.7 173.6,505.1 174.4,504.7 175.1,504.0 175.9,504.5 176.6,505.0 177.4,503.1 178.1,502.9 178.8,501.9 179.6,499.5 180.3,498.1 181.1,497.0 181.8,495.0 182.6,490.8 183.3,486.3 184.1,482.1 184.8,479.3 185.6,476.2 186.3,472.3 187.1,466.8 187.8,461.0 188.6,455.1 189.3,447.7 190.1,442.6 190.8,440.1 191.6,435.9 192.3,431.5 193.1,428.0 193.8,422.2 194.6,418.0 195.3,417.8 196.1,415.2 196.8,411.0 197.6,410.6 198.3,411.5 199.1,410.9 199.8,409.3 200.6,406.8 201.3,403.3 202.0,398.7 202.8,393.5 203.5,387.6 204.3,382.2 205.0,379.3 205.8,375.1 206.5,368.9 207.3,364.5 208.0,359.1 208.8,354.1 209.5,351.2 210.3,346.8 211.0,345.1 211.8,348.8 212.5,353.6 213.3,359.5 214.0,366.9 214.8,376.4 215.5,382.9 216.3,386.0 217.0,390.7 217.8,394.4 218.5,396.7 219.3,401.5 220.0,407.9 220.8,410.2 221.5,414.1 222.3,421.4 223.0,425.4 223.7,428.4 224.5,433.7 225.2,437.7 226.0,441.6 226.7,447.1 227.5,450.4 228.2,452.5 229.0,456.6 229.7,460.1 230.5,462.5 231.2,463.0 232.0,466.0 232.7,469.5 233.5,471.0 234.2,474.3 235.0,475.5 235.7,476.5 236.5,477.9 237.2,480.3 238.0,483.9 238.7,486.7 239.5,488.0 240.2,489.5 241.0,491.3 241.7,494.1 242.5,497.3 243.2,499.3 244.0,503.1 244.7,508.8 245.5,513.0 246.2,516.0 246.9,516.6 247.7,518.9 248.4,521.9 249.2,523.2 249.9,525.1 250.7,526.9 251.4,530.4 252.2,533.2 252.9,534.5 253.7,535.5 254.4,537.5 255.2,538.8 255.9,536.9 256.7,539.8 257.4,542.2 258.2,541.7 258.9,542.3 259.7,540.4 260.4,541.0 261.2,541.4 261.9,543.7 262.7,543.4 263.4,542.3 264.2,543.1 264.9,542.2 265.7,546.5 266.4,547.9 267.2,544.3 267.9,541.4 268.6,541.4 269.4,543.1 270.1,545.4 270.9,544.0 271.6,539.8 272.4,541.7 273.1,544.4 273.9,546.6 274.6,545.2 275.4,539.6 276.1,539.9 276.9,541.8 277.6,542.1 278.4,545.1 279.1,544.1 279.9,544.4 280.6,546.5 281.4,544.5 282.1,543.1 282.9,543.0 283.6,543.7 284.4,545.2 285.1,547.5 285.9,546.4 286.6,545.7 287.4,547.5 288.1,548.3 288.9,547.2 289.6,548.0 290.4,549.1 291.1,548.9 291.8,546.9 292.6,544.3 293.3,541.9 294.1,544.4 294.8,547.9 295.6,544.8 296.3,544.2 297.1,545.9 297.8,543.4 298.6,543.4 299.3,547.2 300.1,548.5 300.8,546.5 301.6,544.4 302.3,546.7 303.1,548.4 303.8,545.9 304.6,543.9 305.3,545.4 306.1,545.4 306.8,543.8 307.6,546.9 308.3,548.1 309.1,545.3 309.8,545.6 310.6,548.9 311.3,548.6" fill="none" stroke="#ff2a2a" stroke-width="0.85" stroke-linejoin="round" />
<text x="58.00" y="358.90" font-size="28.5" font-weight="bold" fill="#000" text-anchor="start" >c</text>
<text x="135.80" y="353.90" font-size="21.3" font-weight="bold" fill="#0000f0" text-anchor="start" >S 2p</text>
<text x="117.40" y="407.90" font-size="21.3" font-weight="normal" fill="#000" text-anchor="start" >Sat.</text>
<text x="226.60" y="361.40" font-size="21.3" fill="#000">2p<tspan font-size="14.2" dx="0.6" dy="4.6">1/2</tspan></text>
<text x="250.80" y="470.00" font-size="21.3" fill="#000">2p<tspan font-size="14.2" dx="0.6" dy="4.6">3/2</tspan></text>
<line x1="246.00" y1="369.60" x2="210.50" y2="397.00" stroke="#111" stroke-width="1.3"/>
<line x1="264.60" y1="480.00" x2="238.20" y2="525.00" stroke="#111" stroke-width="1.3"/>
<rect x="374.60" y="317.20" width="261.00" height="234.80" fill="none" stroke="#6e6e6e" stroke-width="1.2"/>
<line x1="372.10" y1="548.41" x2="374.60" y2="548.41" stroke="#505050" stroke-width="1.0"/>
<line x1="372.10" y1="541.51" x2="374.60" y2="541.51" stroke="#505050" stroke-width="1.0"/>
<line x1="372.10" y1="534.60" x2="374.60" y2="534.60" stroke="#505050" stroke-width="1.0"/>
<line x1="372.10" y1="520.80" x2="374.60" y2="520.80" stroke="#505050" stroke-width="1.0"/>
<line x1="372.10" y1="513.89" x2="374.60" y2="513.89" stroke="#505050" stroke-width="1.0"/>
<line x1="372.10" y1="506.99" x2="374.60" y2="506.99" stroke="#505050" stroke-width="1.0"/>
<line x1="372.10" y1="500.09" x2="374.60" y2="500.09" stroke="#505050" stroke-width="1.0"/>
<line x1="372.10" y1="486.28" x2="374.60" y2="486.28" stroke="#505050" stroke-width="1.0"/>
<line x1="372.10" y1="479.38" x2="374.60" y2="479.38" stroke="#505050" stroke-width="1.0"/>
<line x1="372.10" y1="472.47" x2="374.60" y2="472.47" stroke="#505050" stroke-width="1.0"/>
<line x1="372.10" y1="465.57" x2="374.60" y2="465.57" stroke="#505050" stroke-width="1.0"/>
<line x1="372.10" y1="451.76" x2="374.60" y2="451.76" stroke="#505050" stroke-width="1.0"/>
<line x1="372.10" y1="444.86" x2="374.60" y2="444.86" stroke="#505050" stroke-width="1.0"/>
<line x1="372.10" y1="437.96" x2="374.60" y2="437.96" stroke="#505050" stroke-width="1.0"/>
<line x1="372.10" y1="431.05" x2="374.60" y2="431.05" stroke="#505050" stroke-width="1.0"/>
<line x1="372.10" y1="417.25" x2="374.60" y2="417.25" stroke="#505050" stroke-width="1.0"/>
<line x1="372.10" y1="410.34" x2="374.60" y2="410.34" stroke="#505050" stroke-width="1.0"/>
<line x1="372.10" y1="403.44" x2="374.60" y2="403.44" stroke="#505050" stroke-width="1.0"/>
<line x1="372.10" y1="396.54" x2="374.60" y2="396.54" stroke="#505050" stroke-width="1.0"/>
<line x1="372.10" y1="382.73" x2="374.60" y2="382.73" stroke="#505050" stroke-width="1.0"/>
<line x1="372.10" y1="375.83" x2="374.60" y2="375.83" stroke="#505050" stroke-width="1.0"/>
<line x1="372.10" y1="368.92" x2="374.60" y2="368.92" stroke="#505050" stroke-width="1.0"/>
<line x1="372.10" y1="362.02" x2="374.60" y2="362.02" stroke="#505050" stroke-width="1.0"/>
<line x1="372.10" y1="348.21" x2="374.60" y2="348.21" stroke="#505050" stroke-width="1.0"/>
<line x1="372.10" y1="341.31" x2="374.60" y2="341.31" stroke="#505050" stroke-width="1.0"/>
<line x1="372.10" y1="334.41" x2="374.60" y2="334.41" stroke="#505050" stroke-width="1.0"/>
<line x1="372.10" y1="327.50" x2="374.60" y2="327.50" stroke="#505050" stroke-width="1.0"/>
<line x1="369.40" y1="527.70" x2="374.60" y2="527.70" stroke="#505050" stroke-width="1.0"/>
<text x="369.10" y="527.90" font-size="12" font-weight="normal" fill="#1c1c1c" text-anchor="end" >5</text>
<line x1="369.40" y1="493.18" x2="374.60" y2="493.18" stroke="#505050" stroke-width="1.0"/>
<text x="369.10" y="493.38" font-size="12" font-weight="normal" fill="#1c1c1c" text-anchor="end" >10</text>
<line x1="369.40" y1="458.67" x2="374.60" y2="458.67" stroke="#505050" stroke-width="1.0"/>
<text x="369.10" y="458.87" font-size="12" font-weight="normal" fill="#1c1c1c" text-anchor="end" >15</text>
<line x1="369.40" y1="424.15" x2="374.60" y2="424.15" stroke="#505050" stroke-width="1.0"/>
<text x="369.10" y="424.35" font-size="12" font-weight="normal" fill="#1c1c1c" text-anchor="end" >20</text>
<line x1="369.40" y1="389.63" x2="374.60" y2="389.63" stroke="#505050" stroke-width="1.0"/>
<text x="369.10" y="389.83" font-size="12" font-weight="normal" fill="#1c1c1c" text-anchor="end" >25</text>
<line x1="369.40" y1="355.12" x2="374.60" y2="355.12" stroke="#505050" stroke-width="1.0"/>
<text x="369.10" y="355.32" font-size="12" font-weight="normal" fill="#1c1c1c" text-anchor="end" >30</text>
<line x1="369.40" y1="320.60" x2="374.60" y2="320.60" stroke="#505050" stroke-width="1.0"/>
<text x="369.10" y="320.80" font-size="12" font-weight="normal" fill="#1c1c1c" text-anchor="end" >35</text>
<line x1="637.09" y1="552.00" x2="637.09" y2="556.30" stroke="#505050" stroke-width="1.0"/>
<line x1="609.51" y1="552.00" x2="609.51" y2="556.30" stroke="#505050" stroke-width="1.0"/>
<line x1="595.72" y1="552.00" x2="595.72" y2="556.30" stroke="#505050" stroke-width="1.0"/>
<line x1="581.94" y1="552.00" x2="581.94" y2="556.30" stroke="#505050" stroke-width="1.0"/>
<line x1="554.36" y1="552.00" x2="554.36" y2="556.30" stroke="#505050" stroke-width="1.0"/>
<line x1="540.57" y1="552.00" x2="540.57" y2="556.30" stroke="#505050" stroke-width="1.0"/>
<line x1="526.79" y1="552.00" x2="526.79" y2="556.30" stroke="#505050" stroke-width="1.0"/>
<line x1="499.21" y1="552.00" x2="499.21" y2="556.30" stroke="#505050" stroke-width="1.0"/>
<line x1="485.42" y1="552.00" x2="485.42" y2="556.30" stroke="#505050" stroke-width="1.0"/>
<line x1="471.64" y1="552.00" x2="471.64" y2="556.30" stroke="#505050" stroke-width="1.0"/>
<line x1="444.06" y1="552.00" x2="444.06" y2="556.30" stroke="#505050" stroke-width="1.0"/>
<line x1="430.28" y1="552.00" x2="430.28" y2="556.30" stroke="#505050" stroke-width="1.0"/>
<line x1="416.49" y1="552.00" x2="416.49" y2="556.30" stroke="#505050" stroke-width="1.0"/>
<line x1="388.91" y1="552.00" x2="388.91" y2="556.30" stroke="#505050" stroke-width="1.0"/>
<line x1="375.12" y1="552.00" x2="375.12" y2="556.30" stroke="#505050" stroke-width="1.0"/>
<line x1="402.70" y1="552.00" x2="402.70" y2="560.50" stroke="#505050" stroke-width="1.0"/>
<text x="402.70" y="571.60" font-size="12" font-weight="normal" fill="#1c1c1c" text-anchor="middle" >296</text>
<line x1="457.85" y1="552.00" x2="457.85" y2="560.50" stroke="#505050" stroke-width="1.0"/>
<text x="457.85" y="571.60" font-size="12" font-weight="normal" fill="#1c1c1c" text-anchor="middle" >292</text>
<line x1="513.00" y1="552.00" x2="513.00" y2="560.50" stroke="#505050" stroke-width="1.0"/>
<text x="513.00" y="571.60" font-size="12" font-weight="normal" fill="#1c1c1c" text-anchor="middle" >288</text>
<line x1="568.15" y1="552.00" x2="568.15" y2="560.50" stroke="#505050" stroke-width="1.0"/>
<text x="568.15" y="571.60" font-size="12" font-weight="normal" fill="#1c1c1c" text-anchor="middle" >284</text>
<line x1="623.30" y1="552.00" x2="623.30" y2="560.50" stroke="#505050" stroke-width="1.0"/>
<text x="623.30" y="571.60" font-size="12" font-weight="normal" fill="#1c1c1c" text-anchor="middle" >280</text>
<text x="374.40" y="315.80" font-size="12" fill="#222">x 10<tspan font-size="12.6" dy="-5.6">3</tspan></text>
<text x="0" y="0" font-size="13" font-weight="bold" fill="#111" text-anchor="middle" transform="translate(341.80,437.60) rotate(-90)">Counts (s)</text>
<text x="504.80" y="586.40" font-size="12" font-weight="bold" fill="#111" text-anchor="middle" >Binding Energy (eV)</text>
<polyline points="375.1,536.2 375.4,536.3 375.7,536.3 376.0,536.4 376.3,536.4 376.6,536.5 376.9,536.5 377.2,536.6 377.4,536.6 377.7,536.6 378.0,536.7 378.3,536.7 378.6,536.8 378.9,536.8 379.2,536.9 379.5,536.9 379.8,537.0 380.1,537.0 380.3,537.1 380.6,537.1 380.9,537.2 381.2,537.2 381.5,537.2 381.8,537.3 382.1,537.3 382.4,537.4 382.7,537.4 383.0,537.4 383.2,537.5 383.5,537.5 383.8,537.6 384.1,537.6 384.4,537.6 384.7,537.7 385.0,537.7 385.3,537.7 385.6,537.8 385.8,537.8 386.1,537.8 386.4,537.9 386.7,537.9 387.0,537.9 387.3,537.9 387.6,538.0 387.9,538.0 388.2,538.0 388.5,538.0 388.7,538.1 389.0,538.1 389.3,538.1 389.6,538.1 389.9,538.1 390.2,538.2 390.5,538.2 390.8,538.2 391.1,538.2 391.4,538.3 391.6,538.3 391.9,538.3 392.2,538.3 392.5,538.3 392.8,538.4 393.1,538.4 393.4,538.4 393.7,538.4 394.0,538.4 394.3,538.5 394.5,538.5 394.8,538.5 395.1,538.5 395.4,538.5 395.7,538.5 396.0,538.6 396.3,538.6 396.6,538.6 396.9,538.6 397.2,538.6 397.4,538.6 397.7,538.7 398.0,538.7 398.3,538.7 398.6,538.7 398.9,538.7 399.2,538.7 399.5,538.8 399.8,538.8 400.1,538.8 400.3,538.8 400.6,538.8 400.9,538.8 401.2,538.8 401.5,538.9 401.8,538.9 402.1,538.9 402.4,538.9 402.7,538.9 403.0,538.9 403.2,538.9 403.5,539.0 403.8,539.0 404.1,539.0 404.4,539.0 404.7,539.0 405.0,539.0 405.3,539.0 405.6,539.1 405.9,539.1 406.1,539.1 406.4,539.1 406.7,539.1 407.0,539.1 407.3,539.1 407.6,539.1 407.9,539.2 408.2,539.2 408.5,539.2 408.7,539.2 409.0,539.2 409.3,539.2 409.6,539.2 409.9,539.3 410.2,539.3 410.5,539.3 410.8,539.3 411.1,539.3 411.4,539.3 411.6,539.3 411.9,539.3 412.2,539.4 412.5,539.4 412.8,539.4 413.1,539.4 413.4,539.4 413.7,539.4 414.0,539.4 414.3,539.5 414.5,539.5 414.8,539.5 415.1,539.5 415.4,539.5 415.7,539.5 416.0,539.6 416.3,539.6 416.6,539.6 416.9,539.6 417.2,539.6 417.4,539.6 417.7,539.6 418.0,539.7 418.3,539.7 418.6,539.7 418.9,539.7 419.2,539.7 419.5,539.7 419.8,539.8 420.1,539.8 420.3,539.8 420.6,539.8 420.9,539.8 421.2,539.9 421.5,539.9 421.8,539.9 422.1,539.9 422.4,539.9 422.7,539.9 423.0,540.0 423.2,540.0 423.5,540.0 423.8,540.0 424.1,540.0 424.4,540.1 424.7,540.1 425.0,540.1 425.3,540.1 425.6,540.1 425.9,540.2 426.1,540.2 426.4,540.2 426.7,540.2 427.0,540.2 427.3,540.3 427.6,540.3 427.9,540.3 428.2,540.3 428.5,540.4 428.7,540.4 429.0,540.4 429.3,540.4 429.6,540.4 429.9,540.5 430.2,540.5 430.5,540.5 430.8,540.5 431.1,540.5 431.4,540.6 431.6,540.6 431.9,540.6 432.2,540.6 432.5,540.7 432.8,540.7 433.1,540.7 433.4,540.7 433.7,540.7 434.0,540.8 434.3,540.8 434.5,540.8 434.8,540.8 435.1,540.9 435.4,540.9 435.7,540.9 436.0,540.9 436.3,541.0 436.6,541.0 436.9,541.0 437.2,541.0 437.4,541.0 437.7,541.1 438.0,541.1 438.3,541.1 438.6,541.1 438.9,541.2 439.2,541.2 439.5,541.2 439.8,541.2 440.1,541.3 440.3,541.3 440.6,541.3 440.9,541.3 441.2,541.4 441.5,541.4 441.8,541.4 442.1,541.4 442.4,541.4 442.7,541.5 443.0,541.5 443.2,541.5 443.5,541.5 443.8,541.6 444.1,541.6 444.4,541.6 444.7,541.6 445.0,541.7 445.3,541.7 445.6,541.7 445.9,541.7 446.1,541.8 446.4,541.8 446.7,541.8 447.0,541.8 447.3,541.9 447.6,541.9 447.9,541.9 448.2,541.9 448.5,542.0 448.7,542.0 449.0,542.0 449.3,542.0 449.6,542.0 449.9,542.1 450.2,542.1 450.5,542.1 450.8,542.1 451.1,542.2 451.4,542.2 451.6,542.2 451.9,542.2 452.2,542.3 452.5,542.3 452.8,542.3 453.1,542.3 453.4,542.4 453.7,542.4 454.0,542.4 454.3,542.4 454.5,542.5 454.8,542.5 455.1,542.5 455.4,542.5 455.7,542.5 456.0,542.6 456.3,542.6 456.6,542.6 456.9,542.6 457.2,542.7 457.4,542.7 457.7,542.7 458.0,542.7 458.3,542.8 458.6,542.8 458.9,542.8 459.2,542.8 459.5,542.9 459.8,542.9 460.1,542.9 460.3,542.9 460.6,542.9 460.9,543.0 461.2,543.0 461.5,543.0 461.8,543.0 462.1,543.1 462.4,543.1 462.7,543.1 463.0,543.1 463.2,543.1 463.5,543.2 463.8,543.2 464.1,543.2 464.4,543.2 464.7,543.3 465.0,543.3 465.3,543.3 465.6,543.3 465.9,543.3 466.1,543.4 466.4,543.4 466.7,543.4 467.0,543.4 467.3,543.5 467.6,543.5 467.9,543.5 468.2,543.5 468.5,543.5 468.7,543.6 469.0,543.6 469.3,543.6 469.6,543.6 469.9,543.7 470.2,543.7 470.5,543.7 470.8,543.7 471.1,543.7 471.4,543.8 471.6,543.8 471.9,543.8 472.2,543.8 472.5,543.9 472.8,543.9 473.1,543.9 473.4,543.9 473.7,543.9 474.0,544.0 474.3,544.0 474.5,544.0 474.8,544.0 475.1,544.1 475.4,544.1 475.7,544.1 476.0,544.1 476.3,544.2 476.6,544.2 476.9,544.2 477.2,544.2 477.4,544.2 477.7,544.3 478.0,544.3 478.3,544.3 478.6,544.3 478.9,544.4 479.2,544.4 479.5,544.4 479.8,544.4 480.1,544.5 480.3,544.5 480.6,544.5 480.9,544.5 481.2,544.6 481.5,544.6 481.8,544.6 482.1,544.6 482.4,544.6 482.7,544.7 483.0,544.7 483.2,544.7 483.5,544.7 483.8,544.8 484.1,544.8 484.4,544.8 484.7,544.8 485.0,544.9 485.3,544.9 485.6,544.9 485.9,545.0 486.1,545.0 486.4,545.0 486.7,545.0 487.0,545.1 487.3,545.1 487.6,545.1 487.9,545.1 488.2,545.2 488.5,545.2 488.7,545.2 489.0,545.2 489.3,545.3 489.6,545.3 489.9,545.3 490.2,545.4 490.5,545.4 490.8,545.4 491.1,545.4 491.4,545.5 491.6,545.5 491.9,545.5 492.2,545.6 492.5,545.6 492.8,545.6 493.1,545.6 493.4,545.7 493.7,545.7 494.0,545.7 494.3,545.8 494.5,545.8 494.8,545.8 495.1,545.8 495.4,545.9 495.7,545.9 496.0,545.9 496.3,546.0 496.6,546.0 496.9,546.0 497.2,546.1 497.4,546.1 497.7,546.1 498.0,546.1 498.3,546.2 498.6,546.2 498.9,546.2 499.2,546.3 499.5,546.3 499.8,546.3 500.1,546.3 500.3,546.4 500.6,546.4 500.9,546.4 501.2,546.5 501.5,546.5 501.8,546.5 502.1,546.6 502.4,546.6 502.7,546.6 503.0,546.6 503.2,546.7 503.5,546.7 503.8,546.7 504.1,546.8 504.4,546.8 504.7,546.8 505.0,546.9 505.3,546.9 505.6,546.9 505.9,546.9 506.1,547.0 506.4,547.0 506.7,547.0 507.0,547.1 507.3,547.1 507.6,547.1 507.9,547.1 508.2,547.2 508.5,547.2 508.8,547.2 509.0,547.3 509.3,547.3 509.6,547.3 509.9,547.3 510.2,547.4 510.5,547.4 510.8,547.4 511.1,547.5 511.4,547.5 511.6,547.5 511.9,547.5 512.2,547.6 512.5,547.6 512.8,547.6 513.1,547.7 513.4,547.7 513.7,547.7 514.0,547.7 514.3,547.8 514.5,547.8 514.8,547.8 515.1,547.9 515.4,547.9 515.7,547.9 516.0,548.0 516.3,548.0 516.6,548.0 516.9,548.0 517.2,548.1 517.4,548.1 517.7,548.1 518.0,548.2 518.3,548.2 518.6,548.2 518.9,548.3 519.2,548.3 519.5,548.3 519.8,548.3 520.1,548.4 520.3,548.4 520.6,548.4 520.9,548.5 521.2,548.5 521.5,548.5 521.8,548.6 522.1,548.6 522.4,548.6 522.7,548.6 523.0,548.7 523.2,548.7 523.5,548.7 523.8,548.7 524.1,548.8 524.4,548.8 524.7,548.8 525.0,548.8 525.3,548.9 525.6,548.9 525.9,548.9 526.1,548.9 526.4,549.0 526.7,549.0 527.0,549.0 527.3,549.0 527.6,549.1 527.9,549.1 528.2,549.1 528.5,549.1 528.8,549.1 529.0,549.2 529.3,549.2 529.6,549.2 529.9,549.2 530.2,549.2 530.5,549.3 530.8,549.3 531.1,549.3 531.4,549.3 531.6,549.3 531.9,549.3 532.2,549.4 532.5,549.4 532.8,549.4 533.1,549.4 533.4,549.4 533.7,549.4 534.0,549.5 534.3,549.5 534.5,549.5 534.8,549.5 535.1,549.5 535.4,549.5 535.7,549.5 536.0,549.6 536.3,549.6 536.6,549.6 536.9,549.6 537.2,549.6 537.4,549.6 537.7,549.6 538.0,549.7 538.3,549.7 538.6,549.7 538.9,549.7 539.2,549.7 539.5,549.7 539.8,549.7 540.1,549.8 540.3,549.8 540.6,549.8 540.9,549.8 541.2,549.8 541.5,549.8 541.8,549.8 542.1,549.9 542.4,549.9 542.7,549.9 543.0,549.9 543.2,549.9 543.5,549.9 543.8,549.9 544.1,549.9 544.4,550.0 544.7,550.0 545.0,550.0 545.3,550.0 545.6,550.0 545.9,550.0 546.1,550.0 546.4,550.0 546.7,550.1 547.0,550.1 547.3,550.1 547.6,550.1 547.9,550.1 548.2,550.1 548.5,550.1 548.8,550.1 549.0,550.1 549.3,550.1 549.6,550.2 549.9,550.2 550.2,550.2 550.5,550.2 550.8,550.2 551.1,550.2 551.4,550.2 551.6,550.2 551.9,550.2 552.2,550.3 552.5,550.3 552.8,550.3 553.1,550.3 553.4,550.3 553.7,550.3 554.0,550.3 554.3,550.3 554.5,550.3 554.8,550.3 555.1,550.3 555.4,550.4 555.7,550.4 556.0,550.4 556.3,550.4 556.6,550.4 556.9,550.4 557.2,550.4 557.4,550.4 557.7,550.4 558.0,550.4 558.3,550.4 558.6,550.4 558.9,550.5 559.2,550.5 559.5,550.5 559.8,550.5 560.1,550.5 560.3,550.5 560.6,550.5 560.9,550.5 561.2,550.5 561.5,550.5 561.8,550.5 562.1,550.5 562.4,550.5 562.7,550.6 563.0,550.6 563.2,550.6 563.5,550.6 563.8,550.6 564.1,550.6 564.4,550.6 564.7,550.6 565.0,550.6 565.3,550.6 565.6,550.6 565.9,550.6 566.1,550.6 566.4,550.6 566.7,550.6 567.0,550.7 567.3,550.7 567.6,550.7 567.9,550.7 568.2,550.7 568.5,550.7 568.8,550.7 569.0,550.7 569.3,550.7 569.6,550.7 569.9,550.7 570.2,550.7 570.5,550.7 570.8,550.7 571.1,550.7 571.4,550.7 571.6,550.7 571.9,550.8 572.2,550.8 572.5,550.8 572.8,550.8 573.1,550.8 573.4,550.8 573.7,550.8 574.0,550.8 574.3,550.8 574.5,550.8 574.8,550.8 575.1,550.8 575.4,550.8 575.7,550.8 576.0,550.8 576.3,550.8 576.6,550.8 576.9,550.8 577.2,550.8 577.4,550.9 577.7,550.9 578.0,550.9 578.3,550.9 578.6,550.9 578.9,550.9 579.2,550.9 579.5,550.9 579.8,550.9 580.1,550.9 580.3,550.9 580.6,550.9 580.9,550.9 581.2,550.9 581.5,550.9 581.8,550.9 582.1,550.9 582.4,550.9 582.7,550.9 583.0,550.9 583.2,550.9 583.5,551.0 583.8,551.0 584.1,551.0 584.4,551.0 584.7,551.0 585.0,551.0 585.3,551.0 585.6,551.0 585.9,551.0 586.1,551.0 586.4,551.0 586.7,551.0 587.0,551.0 587.3,551.0 587.6,551.0 587.9,551.0 588.2,551.0 588.5,551.0 588.8,551.0 589.0,551.0 589.3,551.0 589.6,551.0 589.9,551.0 590.2,551.1 590.5,551.1 590.8,551.1 591.1,551.1 591.4,551.1 591.7,551.1 591.9,551.1 592.2,551.1 592.5,551.1 592.8,551.1 593.1,551.1 593.4,551.1 593.7,551.1 594.0,551.1 594.3,551.1 594.5,551.1 594.8,551.1 595.1,551.1 595.4,551.1 595.7,551.1 596.0,551.1 596.3,551.1 596.6,551.2 596.9,551.2 597.2,551.2 597.4,551.2 597.7,551.2 598.0,551.2 598.3,551.2 598.6,551.2 598.9,551.2 599.2,551.2 599.5,551.2 599.8,551.2 600.1,551.2 600.3,551.2 600.6,551.2 600.9,551.2 601.2,551.2 601.5,551.2 601.8,551.2 602.1,551.2 602.4,551.2 602.7,551.2 603.0,551.2 603.2,551.2 603.5,551.2 603.8,551.2 604.1,551.2 604.4,551.2 604.7,551.2 605.0,551.2 605.3,551.2 605.6,551.2 605.9,551.2 606.1,551.2 606.4,551.2 606.7,551.2 607.0,551.2 607.3,551.2 607.6,551.2 607.9,551.2 608.2,551.2 608.5,551.2 608.8,551.2 609.0,551.2 609.3,551.2 609.6,551.2 609.9,551.2 610.2,551.2 610.5,551.2 610.8,551.2 611.1,551.2 611.4,551.2 611.7,551.2 611.9,551.2 612.2,551.2 612.5,551.2 612.8,551.2 613.1,551.2 613.4,551.2 613.7,551.2 614.0,551.2 614.3,551.2 614.5,551.2 614.8,551.2 615.1,551.2 615.4,551.2 615.7,551.2 616.0,551.2 616.3,551.2 616.6,551.2 616.9,551.2 617.2,551.2 617.4,551.2 617.7,551.2 618.0,551.2 618.3,551.2 618.6,551.2 618.9,551.2 619.2,551.2 619.5,551.2 619.8,551.2 620.1,551.2 620.3,551.2 620.6,551.2 620.9,551.2 621.2,551.2 621.5,551.2 621.8,551.2 622.1,551.2 622.4,551.2 622.7,551.2 623.0,551.2 623.2,551.2 623.5,551.2 623.8,551.2 624.1,551.2 624.4,551.2 624.7,551.2 625.0,551.2 625.3,551.2 625.6,551.2 625.9,551.2 626.1,551.2 626.4,551.2 626.7,551.2 627.0,551.2 627.3,551.2 627.6,551.2 627.9,551.2 628.2,551.2 628.5,551.2 628.8,551.2 629.0,551.2 629.3,551.2 629.6,551.2 629.9,551.2 630.2,551.2 630.5,551.2 630.8,551.2 631.1,551.2 631.4,551.2 631.7,551.2 631.9,551.2 632.2,551.2 632.5,551.2 632.8,551.2 633.1,551.2 633.4,551.2 633.7,551.2 634.0,551.2 634.3,551.2 634.5,551.2 634.8,551.2 635.1,551.2 635.4,551.2 635.7,551.2" fill="none" stroke="#8a5a36" stroke-width="1.0" stroke-linejoin="round" />
<polyline points="465.0,543.0 465.3,543.0 465.6,543.0 465.9,543.0 466.1,543.0 466.4,543.1 466.7,543.1 467.0,543.1 467.3,543.1 467.6,543.1 467.9,543.1 468.2,543.1 468.5,543.1 468.7,543.1 469.0,543.1 469.3,543.1 469.6,543.1 469.9,543.2 470.2,543.2 470.5,543.2 470.8,543.2 471.1,543.2 471.4,543.2 471.6,543.2 471.9,543.2 472.2,543.2 472.5,543.2 472.8,543.2 473.1,543.2 473.4,543.2 473.7,543.2 474.0,543.2 474.3,543.2 474.5,543.2 474.8,543.2 475.1,543.2 475.4,543.2 475.7,543.1 476.0,543.1 476.3,543.1 476.6,543.1 476.9,543.1 477.2,543.1 477.4,543.1 477.7,543.1 478.0,543.1 478.3,543.1 478.6,543.0 478.9,543.0 479.2,543.0 479.5,543.0 479.8,543.0 480.1,543.0 480.3,542.9 480.6,542.9 480.9,542.9 481.2,542.9 481.5,542.9 481.8,542.8 482.1,542.8 482.4,542.8 482.7,542.8 483.0,542.7 483.2,542.7 483.5,542.7 483.8,542.7 484.1,542.6 484.4,542.6 484.7,542.6 485.0,542.5 485.3,542.5 485.6,542.5 485.9,542.4 486.1,542.4 486.4,542.3 486.7,542.3 487.0,542.3 487.3,542.2 487.6,542.2 487.9,542.1 488.2,542.1 488.5,542.0 488.7,542.0 489.0,541.9 489.3,541.9 489.6,541.8 489.9,541.8 490.2,541.7 490.5,541.7 490.8,541.6 491.1,541.6 491.4,541.5 491.6,541.5 491.9,541.4 492.2,541.4 492.5,541.3 492.8,541.2 493.1,541.2 493.4,541.1 493.7,541.0 494.0,541.0 494.3,540.9 494.5,540.8 494.8,540.8 495.1,540.7 495.4,540.6 495.7,540.5 496.0,540.5 496.3,540.4 496.6,540.3 496.9,540.2 497.2,540.2 497.4,540.1 497.7,540.0 498.0,539.9 498.3,539.8 498.6,539.8 498.9,539.7 499.2,539.6 499.5,539.5 499.8,539.4 500.1,539.3 500.3,539.2 500.6,539.2 500.9,539.1 501.2,539.0 501.5,538.9 501.8,538.8 502.1,538.7 502.4,538.6 502.7,538.5 503.0,538.4 503.2,538.3 503.5,538.2 503.8,538.1 504.1,538.0 504.4,537.9 504.7,537.8 505.0,537.8 505.3,537.7 505.6,537.6 505.9,537.5 506.1,537.4 506.4,537.3 506.7,537.2 507.0,537.1 507.3,537.0 507.6,536.9 507.9,536.8 508.2,536.7 508.5,536.6 508.8,536.5 509.0,536.4 509.3,536.3 509.6,536.2 509.9,536.1 510.2,536.0 510.5,535.9 510.8,535.8 511.1,535.7 511.4,535.6 511.6,535.5 511.9,535.4 512.2,535.3 512.5,535.2 512.8,535.1 513.1,535.1 513.4,535.0 513.7,534.9 514.0,534.8 514.3,534.7 514.5,534.6 514.8,534.5 515.1,534.5 515.4,534.4 515.7,534.3 516.0,534.2 516.3,534.2 516.6,534.1 516.9,534.0 517.2,533.9 517.4,533.9 517.7,533.8 518.0,533.7 518.3,533.7 518.6,533.6 518.9,533.6 519.2,533.5 519.5,533.4 519.8,533.4 520.1,533.3 520.3,533.3 520.6,533.2 520.9,533.2 521.2,533.1 521.5,533.1 521.8,533.1 522.1,533.0 522.4,533.0 522.7,533.0 523.0,532.9 523.2,532.9 523.5,532.9 523.8,532.8 524.1,532.8 524.4,532.8 524.7,532.8 525.0,532.7 525.3,532.7 525.6,532.7 525.9,532.7 526.1,532.7 526.4,532.7 526.7,532.7 527.0,532.7 527.3,532.7 527.6,532.7 527.9,532.7 528.2,532.7 528.5,532.7 528.8,532.7 529.0,532.7 529.3,532.8 529.6,532.8 529.9,532.8 530.2,532.8 530.5,532.8 530.8,532.9 531.1,532.9 531.4,532.9 531.6,533.0 531.9,533.0 532.2,533.1 532.5,533.1 532.8,533.2 533.1,533.2 533.4,533.3 533.7,533.3 534.0,533.4 534.3,533.4 534.5,533.5 534.8,533.6 535.1,533.6 535.4,533.7 535.7,533.8 536.0,533.9 536.3,534.0 536.6,534.0 536.9,534.1 537.2,534.2 537.4,534.3 537.7,534.4 538.0,534.5 538.3,534.6 538.6,534.7 538.9,534.8 539.2,534.9 539.5,535.0 539.8,535.1 540.1,535.3 540.3,535.4 540.6,535.5 540.9,535.6 541.2,535.7 541.5,535.8 541.8,536.0 542.1,536.1 542.4,536.2 542.7,536.3 543.0,536.5 543.2,536.6 543.5,536.7 543.8,536.9 544.1,537.0 544.4,537.1 544.7,537.3 545.0,537.4 545.3,537.6 545.6,537.7 545.9,537.8 546.1,538.0 546.4,538.1 546.7,538.3 547.0,538.4 547.3,538.6 547.6,538.7 547.9,538.8 548.2,539.0 548.5,539.1 548.8,539.3 549.0,539.4 549.3,539.6 549.6,539.7 549.9,539.9 550.2,540.0 550.5,540.2 550.8,540.3 551.1,540.5 551.4,540.6 551.6,540.8 551.9,540.9 552.2,541.0 552.5,541.2 552.8,541.3 553.1,541.5 553.4,541.6 553.7,541.8 554.0,541.9 554.3,542.1 554.5,542.2 554.8,542.3 555.1,542.5 555.4,542.6 555.7,542.8 556.0,542.9 556.3,543.0 556.6,543.2 556.9,543.3 557.2,543.4 557.4,543.6 557.7,543.7 558.0,543.8 558.3,544.0 558.6,544.1 558.9,544.2 559.2,544.4 559.5,544.5 559.8,544.6 560.1,544.7 560.3,544.8 560.6,545.0 560.9,545.1 561.2,545.2 561.5,545.3 561.8,545.4 562.1,545.5 562.4,545.7 562.7,545.8 563.0,545.9 563.2,546.0 563.5,546.1 563.8,546.2 564.1,546.3 564.4,546.4 564.7,546.5 565.0,546.6 565.3,546.7 565.6,546.8 565.9,546.9 566.1,547.0 566.4,547.1 566.7,547.2 567.0,547.3 567.3,547.4 567.6,547.4 567.9,547.5 568.2,547.6 568.5,547.7 568.8,547.8 569.0,547.9 569.3,547.9 569.6,548.0 569.9,548.1 570.2,548.2 570.5,548.2 570.8,548.3 571.1,548.4 571.4,548.4 571.6,548.5 571.9,548.6 572.2,548.6 572.5,548.7 572.8,548.8 573.1,548.8 573.4,548.9 573.7,549.0 574.0,549.0 574.3,549.1 574.5,549.1 574.8,549.2 575.1,549.2 575.4,549.3 575.7,549.3 576.0,549.4 576.3,549.4 576.6,549.5 576.9,549.5 577.2,549.6 577.4,549.6 577.7,549.7 578.0,549.7 578.3,549.7 578.6,549.8 578.9,549.8 579.2,549.9 579.5,549.9 579.8,549.9 580.1,550.0 580.3,550.0 580.6,550.0 580.9,550.1 581.2,550.1 581.5,550.1 581.8,550.2 582.1,550.2 582.4,550.2 582.7,550.3 583.0,550.3 583.2,550.3 583.5,550.3 583.8,550.4 584.1,550.4 584.4,550.4 584.7,550.4 585.0,550.5 585.3,550.5 585.6,550.5 585.9,550.5 586.1,550.5 586.4,550.6 586.7,550.6 587.0,550.6 587.3,550.6 587.6,550.6 587.9,550.7 588.2,550.7 588.5,550.7 588.8,550.7 589.0,550.7 589.3,550.7 589.6,550.8 589.9,550.8 590.2,550.8 590.5,550.8 590.8,550.8 591.1,550.8 591.4,550.9 591.7,550.9 591.9,550.9 592.2,550.9 592.5,550.9 592.8,550.9 593.1,550.9 593.4,550.9 593.7,551.0 594.0,551.0 594.3,551.0 594.5,551.0 594.8,551.0 595.1,551.0 595.4,551.0 595.7,551.0 596.0,551.0 596.3,551.0 596.6,551.0 596.9,551.1 597.2,551.1 597.4,551.1 597.7,551.1 598.0,551.1 598.3,551.1 598.6,551.1 598.9,551.1 599.2,551.1 599.5,551.1 599.8,551.1 600.1,551.1 600.3,551.1 600.6,551.1 600.9,551.1 601.2,551.1 601.5,551.1 601.8,551.1 602.1,551.1 602.4,551.1" fill="none" stroke="#9ac272" stroke-width="1.0" stroke-linejoin="round" />
<polyline points="451.1,541.8 451.4,541.8 451.6,541.8 451.9,541.9 452.2,541.9 452.5,541.9 452.8,541.9 453.1,542.0 453.4,542.0 453.7,542.0 454.0,542.0 454.3,542.0 454.5,542.1 454.8,542.1 455.1,542.1 455.4,542.1 455.7,542.1 456.0,542.2 456.3,542.2 456.6,542.2 456.9,542.2 457.2,542.3 457.4,542.3 457.7,542.3 458.0,542.3 458.3,542.3 458.6,542.4 458.9,542.4 459.2,542.4 459.5,542.4 459.8,542.4 460.1,542.5 460.3,542.5 460.6,542.5 460.9,542.5 461.2,542.5 461.5,542.6 461.8,542.6 462.1,542.6 462.4,542.6 462.7,542.6 463.0,542.7 463.2,542.7 463.5,542.7 463.8,542.7 464.1,542.7 464.4,542.8 464.7,542.8 465.0,542.8 465.3,542.8 465.6,542.8 465.9,542.9 466.1,542.9 466.4,542.9 466.7,542.9 467.0,542.9 467.3,543.0 467.6,543.0 467.9,543.0 468.2,543.0 468.5,543.0 468.7,543.0 469.0,543.1 469.3,543.1 469.6,543.1 469.9,543.1 470.2,543.1 470.5,543.2 470.8,543.2 471.1,543.2 471.4,543.2 471.6,543.2 471.9,543.3 472.2,543.3 472.5,543.3 472.8,543.3 473.1,543.3 473.4,543.3 473.7,543.4 474.0,543.4 474.3,543.4 474.5,543.4 474.8,543.4 475.1,543.5 475.4,543.5 475.7,543.5 476.0,543.5 476.3,543.5 476.6,543.6 476.9,543.6 477.2,543.6 477.4,543.6 477.7,543.6 478.0,543.6 478.3,543.7 478.6,543.7 478.9,543.7 479.2,543.7 479.5,543.7 479.8,543.8 480.1,543.8 480.3,543.8 480.6,543.8 480.9,543.8 481.2,543.9 481.5,543.9 481.8,543.9 482.1,543.9 482.4,543.9 482.7,543.9 483.0,544.0 483.2,544.0 483.5,544.0 483.8,544.0 484.1,544.0 484.4,544.1 484.7,544.1 485.0,544.1 485.3,544.1 485.6,544.1 485.9,544.2 486.1,544.2 486.4,544.2 486.7,544.2 487.0,544.2 487.3,544.3 487.6,544.3 487.9,544.3 488.2,544.3 488.5,544.3 488.7,544.4 489.0,544.4 489.3,544.4 489.6,544.4 489.9,544.4 490.2,544.5 490.5,544.5 490.8,544.5 491.1,544.5 491.4,544.5 491.6,544.6 491.9,544.6 492.2,544.6 492.5,544.6 492.8,544.7 493.1,544.7 493.4,544.7 493.7,544.7 494.0,544.7 494.3,544.8 494.5,544.8 494.8,544.8 495.1,544.8 495.4,544.8 495.7,544.9 496.0,544.9 496.3,544.9 496.6,544.9 496.9,544.9 497.2,545.0 497.4,545.0 497.7,545.0 498.0,545.0 498.3,545.0 498.6,545.1 498.9,545.1 499.2,545.1 499.5,545.1 499.8,545.1 500.1,545.1 500.3,545.2 500.6,545.2 500.9,545.2 501.2,545.2 501.5,545.2 501.8,545.3 502.1,545.3 502.4,545.3 502.7,545.3 503.0,545.3 503.2,545.3 503.5,545.4 503.8,545.4 504.1,545.4 504.4,545.4 504.7,545.4 505.0,545.4 505.3,545.4 505.6,545.5 505.9,545.5 506.1,545.5 506.4,545.5 506.7,545.5 507.0,545.5 507.3,545.5 507.6,545.5 507.9,545.6 508.2,545.6 508.5,545.6 508.8,545.6 509.0,545.6 509.3,545.6 509.6,545.6 509.9,545.6 510.2,545.6 510.5,545.6 510.8,545.7 511.1,545.7 511.4,545.7 511.6,545.7 511.9,545.7 512.2,545.7 512.5,545.7 512.8,545.7 513.1,545.7 513.4,545.7 513.7,545.7 514.0,545.7 514.3,545.7 514.5,545.7 514.8,545.7 515.1,545.7 515.4,545.7 515.7,545.7 516.0,545.7 516.3,545.7 516.6,545.7 516.9,545.7 517.2,545.7 517.4,545.7 517.7,545.7 518.0,545.7 518.3,545.7 518.6,545.7 518.9,545.7 519.2,545.7 519.5,545.7 519.8,545.7 520.1,545.7 520.3,545.7 520.6,545.7 520.9,545.7 521.2,545.6 521.5,545.6 521.8,545.6 522.1,545.6 522.4,545.6 522.7,545.5 523.0,545.5 523.2,545.5 523.5,545.5 523.8,545.4 524.1,545.4 524.4,545.4 524.7,545.3 525.0,545.3 525.3,545.2 525.6,545.2 525.9,545.1 526.1,545.1 526.4,545.0 526.7,544.9 527.0,544.9 527.3,544.8 527.6,544.7 527.9,544.6 528.2,544.5 528.5,544.4 528.8,544.3 529.0,544.2 529.3,544.0 529.6,543.9 529.9,543.7 530.2,543.6 530.5,543.4 530.8,543.2 531.1,543.0 531.4,542.8 531.6,542.6 531.9,542.4 532.2,542.1 532.5,541.8 532.8,541.5 533.1,541.2 533.4,540.9 533.7,540.5 534.0,540.1 534.3,539.7 534.5,539.3 534.8,538.8 535.1,538.3 535.4,537.8 535.7,537.3 536.0,536.7 536.3,536.1 536.6,535.4 536.9,534.7 537.2,534.0 537.4,533.2 537.7,532.4 538.0,531.5 538.3,530.6 538.6,529.6 538.9,528.6 539.2,527.5 539.5,526.4 539.8,525.2 540.1,523.9 540.3,522.6 540.6,521.3 540.9,519.9 541.2,518.4 541.5,516.8 541.8,515.2 542.1,513.5 542.4,511.8 542.7,510.0 543.0,508.1 543.2,506.1 543.5,504.1 543.8,502.0 544.1,499.9 544.4,497.6 544.7,495.3 545.0,493.0 545.3,490.5 545.6,488.1 545.9,485.5 546.1,482.9 546.4,480.2 546.7,477.5 547.0,474.7 547.3,471.9 547.6,469.0 547.9,466.1 548.2,463.2 548.5,460.2 548.8,457.2 549.0,454.1 549.3,451.1 549.6,448.0 549.9,444.9 550.2,441.8 550.5,438.7 550.8,435.6 551.1,432.5 551.4,429.5 551.6,426.5 551.9,423.5 552.2,420.5 552.5,417.7 552.8,414.8 553.1,412.1 553.4,409.4 553.7,406.8 554.0,404.3 554.3,401.8 554.5,399.5 554.8,397.3 555.1,395.3 555.4,393.3 555.7,391.5 556.0,389.9 556.3,388.4 556.6,387.0 556.9,385.8 557.2,384.8 557.4,384.0 557.7,383.4 558.0,382.9 558.3,382.6 558.6,382.5 558.9,382.6 559.2,382.8 559.5,383.3 559.8,383.9 560.1,384.6 560.3,385.6 560.6,386.7 560.9,388.0 561.2,389.4 561.5,391.0 561.8,392.7 562.1,394.6 562.4,396.6 562.7,398.8 563.0,401.0 563.2,403.4 563.5,405.9 563.8,408.4 564.1,411.1 564.4,413.8 564.7,416.7 565.0,419.6 565.3,422.5 565.6,425.5 565.9,428.5 566.1,431.6 566.4,434.7 566.7,437.9 567.0,441.0 567.3,444.2 567.6,447.4 567.9,450.5 568.2,453.7 568.5,456.8 568.8,459.9 569.0,463.0 569.3,466.1 569.6,469.1 569.9,472.1 570.2,475.1 570.5,478.0 570.8,480.8 571.1,483.6 571.4,486.3 571.6,489.0 571.9,491.6 572.2,494.2 572.5,496.6 572.8,499.1 573.1,501.4 573.4,503.7 573.7,505.9 574.0,508.0 574.3,510.1 574.5,512.1 574.8,514.0 575.1,515.8 575.4,517.6 575.7,519.3 576.0,521.0 576.3,522.5 576.6,524.0 576.9,525.5 577.2,526.8 577.4,528.2 577.7,529.4 578.0,530.6 578.3,531.7 578.6,532.8 578.9,533.8 579.2,534.8 579.5,535.7 579.8,536.6 580.1,537.4 580.3,538.2 580.6,538.9 580.9,539.6 581.2,540.2 581.5,540.8 581.8,541.4 582.1,542.0 582.4,542.5 582.7,542.9 583.0,543.4 583.2,543.8 583.5,544.2 583.8,544.6 584.1,544.9 584.4,545.2 584.7,545.5 585.0,545.8 585.3,546.1 585.6,546.3 585.9,546.5 586.1,546.7 586.4,546.9 586.7,547.1 587.0,547.3 587.3,547.5 587.6,547.6 587.9,547.7 588.2,547.9 588.5,548.0 588.8,548.1 589.0,548.2 589.3,548.3 589.6,548.4 589.9,548.5 590.2,548.6 590.5,548.7 590.8,548.7 591.1,548.8 591.4,548.9 591.7,548.9 591.9,549.0 592.2,549.0 592.5,549.1 592.8,549.1 593.1,549.2 593.4,549.2 593.7,549.3 594.0,549.3 594.3,549.4 594.5,549.4 594.8,549.4 595.1,549.5 595.4,549.5 595.7,549.5 596.0,549.6 596.3,549.6 596.6,549.6 596.9,549.7 597.2,549.7 597.4,549.7 597.7,549.7 598.0,549.8 598.3,549.8 598.6,549.8 598.9,549.8 599.2,549.8 599.5,549.9 599.8,549.9 600.1,549.9 600.3,549.9 600.6,549.9 600.9,549.9 601.2,550.0 601.5,550.0 601.8,550.0 602.1,550.0 602.4,550.0 602.7,550.0 603.0,550.0 603.2,550.1 603.5,550.1 603.8,550.1 604.1,550.1 604.4,550.1 604.7,550.1 605.0,550.1 605.3,550.2 605.6,550.2 605.9,550.2 606.1,550.2 606.4,550.2 606.7,550.2 607.0,550.2 607.3,550.2 607.6,550.2 607.9,550.3 608.2,550.3 608.5,550.3 608.8,550.3 609.0,550.3 609.3,550.3 609.6,550.3 609.9,550.3 610.2,550.3 610.5,550.3 610.8,550.3 611.1,550.4 611.4,550.4 611.7,550.4 611.9,550.4 612.2,550.4 612.5,550.4 612.8,550.4 613.1,550.4 613.4,550.4 613.7,550.4 614.0,550.4 614.3,550.4 614.5,550.5 614.8,550.5 615.1,550.5 615.4,550.5 615.7,550.5 616.0,550.5 616.3,550.5 616.6,550.5 616.9,550.5 617.2,550.5 617.4,550.5 617.7,550.5 618.0,550.5 618.3,550.5 618.6,550.5 618.9,550.5 619.2,550.6 619.5,550.6 619.8,550.6 620.1,550.6 620.3,550.6 620.6,550.6 620.9,550.6 621.2,550.6 621.5,550.6 621.8,550.6 622.1,550.6 622.4,550.6 622.7,550.6 623.0,550.6 623.2,550.6 623.5,550.6 623.8,550.6 624.1,550.6 624.4,550.6 624.7,550.7 625.0,550.7 625.3,550.7 625.6,550.7 625.9,550.7 626.1,550.7 626.4,550.7 626.7,550.7 627.0,550.7 627.3,550.7 627.6,550.7 627.9,550.7 628.2,550.7 628.5,550.7 628.8,550.7 629.0,550.7 629.3,550.7 629.6,550.7 629.9,550.7 630.2,550.7 630.5,550.7 630.8,550.7 631.1,550.7 631.4,550.7 631.7,550.7 631.9,550.7 632.2,550.7 632.5,550.8 632.8,550.8 633.1,550.8 633.4,550.8 633.7,550.8 634.0,550.8 634.3,550.8 634.5,550.8 634.8,550.8 635.1,550.8 635.4,550.8 635.7,550.8" fill="none" stroke="#3a3af0" stroke-width="1.0" stroke-linejoin="round" />
<polyline points="375.1,536.1 375.4,536.1 375.7,536.2 376.0,536.2 376.3,536.3 376.6,536.3 376.9,536.4 377.2,536.4 377.4,536.5 377.7,536.5 378.0,536.6 378.3,536.6 378.6,536.7 378.9,536.7 379.2,536.8 379.5,536.8 379.8,536.8 380.1,536.9 380.3,536.9 380.6,537.0 380.9,537.0 381.2,537.1 381.5,537.1 381.8,537.1 382.1,537.2 382.4,537.2 382.7,537.3 383.0,537.3 383.2,537.3 383.5,537.4 383.8,537.4 384.1,537.5 384.4,537.5 384.7,537.5 385.0,537.6 385.3,537.6 385.6,537.6 385.8,537.7 386.1,537.7 386.4,537.7 386.7,537.7 387.0,537.8 387.3,537.8 387.6,537.8 387.9,537.8 388.2,537.9 388.5,537.9 388.7,537.9 389.0,537.9 389.3,538.0 389.6,538.0 389.9,538.0 390.2,538.0 390.5,538.0 390.8,538.1 391.1,538.1 391.4,538.1 391.6,538.1 391.9,538.1 392.2,538.2 392.5,538.2 392.8,538.2 393.1,538.2 393.4,538.2 393.7,538.3 394.0,538.3 394.3,538.3 394.5,538.3 394.8,538.3 395.1,538.3 395.4,538.4 395.7,538.4 396.0,538.4 396.3,538.4 396.6,538.4 396.9,538.4 397.2,538.5 397.4,538.5 397.7,538.5 398.0,538.5 398.3,538.5 398.6,538.5 398.9,538.6 399.2,538.6 399.5,538.6 399.8,538.6 400.1,538.6 400.3,538.6 400.6,538.6 400.9,538.7 401.2,538.7 401.5,538.7 401.8,538.7 402.1,538.7 402.4,538.7 402.7,538.7 403.0,538.8 403.2,538.8 403.5,538.8 403.8,538.8 404.1,538.8 404.4,538.8 404.7,538.8 405.0,538.8 405.3,538.9 405.6,538.9 405.9,538.9 406.1,538.9 406.4,538.9 406.7,538.9 407.0,538.9 407.3,538.9 407.6,539.0 407.9,539.0 408.2,539.0 408.5,539.0 408.7,539.0 409.0,539.0 409.3,539.0 409.6,539.0 409.9,539.1 410.2,539.1 410.5,539.1 410.8,539.1 411.1,539.1 411.4,539.1 411.6,539.1 411.9,539.2 412.2,539.2 412.5,539.2 412.8,539.2 413.1,539.2 413.4,539.2 413.7,539.2 414.0,539.2 414.3,539.3 414.5,539.3 414.8,539.3 415.1,539.3 415.4,539.3 415.7,539.3 416.0,539.3 416.3,539.4 416.6,539.4 416.9,539.4 417.2,539.4 417.4,539.4 417.7,539.4 418.0,539.4 418.3,539.5 418.6,539.5 418.9,539.5 419.2,539.5 419.5,539.5 419.8,539.5 420.1,539.6 420.3,539.6 420.6,539.6 420.9,539.6 421.2,539.6 421.5,539.6 421.8,539.7 422.1,539.7 422.4,539.7 422.7,539.7 423.0,539.7 423.2,539.8 423.5,539.8 423.8,539.8 424.1,539.8 424.4,539.8 424.7,539.8 425.0,539.9 425.3,539.9 425.6,539.9 425.9,539.9 426.1,539.9 426.4,540.0 426.7,540.0 427.0,540.0 427.3,540.0 427.6,540.0 427.9,540.1 428.2,540.1 428.5,540.1 428.7,540.1 429.0,540.1 429.3,540.2 429.6,540.2 429.9,540.2 430.2,540.2 430.5,540.2 430.8,540.3 431.1,540.3 431.4,540.3 431.6,540.3 431.9,540.3 432.2,540.4 432.5,540.4 432.8,540.4 433.1,540.4 433.4,540.5 433.7,540.5 434.0,540.5 434.3,540.5 434.5,540.5 434.8,540.6 435.1,540.6 435.4,540.6 435.7,540.6 436.0,540.6 436.3,540.7 436.6,540.7 436.9,540.7 437.2,540.7 437.4,540.8 437.7,540.8 438.0,540.8 438.3,540.8 438.6,540.8 438.9,540.9 439.2,540.9 439.5,540.9 439.8,540.9 440.1,540.9 440.3,541.0 440.6,541.0 440.9,541.0 441.2,541.0 441.5,541.1 441.8,541.1 442.1,541.1 442.4,541.1 442.7,541.1 443.0,541.2 443.2,541.2 443.5,541.2 443.8,541.2 444.1,541.3 444.4,541.3 444.7,541.3 445.0,541.3 445.3,541.3 445.6,541.4 445.9,541.4 446.1,541.4 446.4,541.4 446.7,541.4 447.0,541.5 447.3,541.5 447.6,541.5 447.9,541.5 448.2,541.6 448.5,541.6 448.7,541.6 449.0,541.6 449.3,541.6 449.6,541.7 449.9,541.7 450.2,541.7 450.5,541.7 450.8,541.7 451.1,541.8 451.4,541.8 451.6,541.8 451.9,541.8 452.2,541.8 452.5,541.9 452.8,541.9 453.1,541.9 453.4,541.9 453.7,541.9 454.0,542.0 454.3,542.0 454.5,542.0 454.8,542.0 455.1,542.0 455.4,542.1 455.7,542.1 456.0,542.1 456.3,542.1 456.6,542.1 456.9,542.1 457.2,542.2 457.4,542.2 457.7,542.2 458.0,542.2 458.3,542.2 458.6,542.2 458.9,542.3 459.2,542.3 459.5,542.3 459.8,542.3 460.1,542.3 460.3,542.3 460.6,542.3 460.9,542.4 461.2,542.4 461.5,542.4 461.8,542.4 462.1,542.4 462.4,542.4 462.7,542.4 463.0,542.4 463.2,542.5 463.5,542.5 463.8,542.5 464.1,542.5 464.4,542.5 464.7,542.5 465.0,542.5 465.3,542.5 465.6,542.5 465.9,542.5 466.1,542.6 466.4,542.6 466.7,542.6 467.0,542.6 467.3,542.6 467.6,542.6 467.9,542.6 468.2,542.6 468.5,542.6 468.7,542.6 469.0,542.6 469.3,542.6 469.6,542.6 469.9,542.6 470.2,542.6 470.5,542.6 470.8,542.6 471.1,542.6 471.4,542.6 471.6,542.6 471.9,542.6 472.2,542.6 472.5,542.6 472.8,542.6 473.1,542.6 473.4,542.6 473.7,542.6 474.0,542.6 474.3,542.6 474.5,542.6 474.8,542.6 475.1,542.6 475.4,542.5 475.7,542.5 476.0,542.5 476.3,542.5 476.6,542.5 476.9,542.5 477.2,542.5 477.4,542.5 477.7,542.4 478.0,542.4 478.3,542.4 478.6,542.4 478.9,542.4 479.2,542.3 479.5,542.3 479.8,542.3 480.1,542.3 480.3,542.3 480.6,542.2 480.9,542.2 481.2,542.2 481.5,542.2 481.8,542.1 482.1,542.1 482.4,542.1 482.7,542.0 483.0,542.0 483.2,542.0 483.5,541.9 483.8,541.9 484.1,541.9 484.4,541.8 484.7,541.8 485.0,541.8 485.3,541.7 485.6,541.7 485.9,541.6 486.1,541.6 486.4,541.5 486.7,541.5 487.0,541.4 487.3,541.4 487.6,541.3 487.9,541.3 488.2,541.2 488.5,541.2 488.7,541.1 489.0,541.1 489.3,541.0 489.6,541.0 489.9,540.9 490.2,540.9 490.5,540.8 490.8,540.7 491.1,540.7 491.4,540.6 491.6,540.5 491.9,540.5 492.2,540.4 492.5,540.3 492.8,540.3 493.1,540.2 493.4,540.1 493.7,540.0 494.0,540.0 494.3,539.9 494.5,539.8 494.8,539.7 495.1,539.7 495.4,539.6 495.7,539.5 496.0,539.4 496.3,539.3 496.6,539.2 496.9,539.2 497.2,539.1 497.4,539.0 497.7,538.9 498.0,538.8 498.3,538.7 498.6,538.6 498.9,538.5 499.2,538.4 499.5,538.3 499.8,538.2 500.1,538.1 500.3,538.0 500.6,537.9 500.9,537.8 501.2,537.7 501.5,537.6 501.8,537.5 502.1,537.4 502.4,537.3 502.7,537.2 503.0,537.1 503.2,537.0 503.5,536.9 503.8,536.8 504.1,536.7 504.4,536.5 504.7,536.4 505.0,536.3 505.3,536.2 505.6,536.1 505.9,536.0 506.1,535.9 506.4,535.8 506.7,535.6 507.0,535.5 507.3,535.4 507.6,535.3 507.9,535.2 508.2,535.1 508.5,534.9 508.8,534.8 509.0,534.7 509.3,534.6 509.6,534.5 509.9,534.4 510.2,534.2 510.5,534.1 510.8,534.0 511.1,533.9 511.4,533.8 511.6,533.7 511.9,533.5 512.2,533.4 512.5,533.3 512.8,533.2 513.1,533.1 513.4,533.0 513.7,532.9 514.0,532.8 514.3,532.7 514.5,532.5 514.8,532.4 515.1,532.3 515.4,532.2 515.7,532.1 516.0,532.0 516.3,531.9 516.6,531.8 516.9,531.7 517.2,531.6 517.4,531.5 517.7,531.4 518.0,531.3 518.3,531.2 518.6,531.1 518.9,531.0 519.2,530.9 519.5,530.8 519.8,530.7 520.1,530.7 520.3,530.6 520.6,530.5 520.9,530.4 521.2,530.3 521.5,530.2 521.8,530.1 522.1,530.0 522.4,529.9 522.7,529.9 523.0,529.8 523.2,529.7 523.5,529.6 523.8,529.5 524.1,529.4 524.4,529.4 524.7,529.3 525.0,529.2 525.3,529.1 525.6,529.0 525.9,528.9 526.1,528.8 526.4,528.7 526.7,528.6 527.0,528.5 527.3,528.4 527.6,528.3 527.9,528.2 528.2,528.1 528.5,528.0 528.8,527.9 529.0,527.7 529.3,527.6 529.6,527.5 529.9,527.3 530.2,527.2 530.5,527.0 530.8,526.8 531.1,526.6 531.4,526.4 531.6,526.2 531.9,526.0 532.2,525.8 532.5,525.5 532.8,525.3 533.1,525.0 533.4,524.7 533.7,524.4 534.0,524.1 534.3,523.7 534.5,523.3 534.8,522.9 535.1,522.5 535.4,522.0 535.7,521.5 536.0,521.0 536.3,520.5 536.6,519.9 536.9,519.2 537.2,518.6 537.4,517.9 537.7,517.1 538.0,516.3 538.3,515.5 538.6,514.6 538.9,513.7 539.2,512.7 539.5,511.7 539.8,510.6 540.1,509.4 540.3,508.2 540.6,507.0 540.9,505.7 541.2,504.3 541.5,502.8 541.8,501.3 542.1,499.8 542.4,498.1 542.7,496.4 543.0,494.7 543.2,492.8 543.5,490.9 543.8,488.9 544.1,486.9 544.4,484.8 544.7,482.6 545.0,480.4 545.3,478.1 545.6,475.8 545.9,473.3 546.1,470.9 546.4,468.3 546.7,465.7 547.0,463.1 547.3,460.4 547.6,457.7 547.9,454.9 548.2,452.1 548.5,449.2 548.8,446.3 549.0,443.4 549.3,440.5 549.6,437.5 549.9,434.6 550.2,431.6 550.5,428.7 550.8,425.7 551.1,422.8 551.4,419.9 551.6,417.0 551.9,414.1 552.2,411.3 552.5,408.6 552.8,405.9 553.1,403.3 553.4,400.7 553.7,398.2 554.0,395.9 554.3,393.6 554.5,391.4 554.8,389.3 555.1,387.4 555.4,385.6 555.7,383.9 556.0,382.4 556.3,381.0 556.6,379.8 556.9,378.8 557.2,377.9 557.4,377.2 557.7,376.6 558.0,376.3 558.3,376.1 558.6,376.1 558.9,376.3 559.2,376.7 559.5,377.3 559.8,378.0 560.1,378.9 560.3,379.9 560.6,381.2 560.9,382.6 561.2,384.1 561.5,385.8 561.8,387.7 562.1,389.6 562.4,391.7 562.7,394.0 563.0,396.3 563.2,398.8 563.5,401.4 563.8,404.1 564.1,406.8 564.4,409.7 564.7,412.6 565.0,415.6 565.3,418.6 565.6,421.7 565.9,424.8 566.1,428.0 566.4,431.2 566.7,434.4 567.0,437.6 567.3,440.9 567.6,444.1 567.9,447.4 568.2,450.6 568.5,453.8 568.8,457.0 569.0,460.2 569.3,463.3 569.6,466.4 569.9,469.5 570.2,472.5 570.5,475.5 570.8,478.4 571.1,481.2 571.4,484.0 571.6,486.8 571.9,489.4 572.2,492.0 572.5,494.6 572.8,497.1 573.1,499.5 573.4,501.8 573.7,504.0 574.0,506.2 574.3,508.3 574.5,510.4 574.8,512.4 575.1,514.3 575.4,516.1 575.7,517.8 576.0,519.5 576.3,521.1 576.6,522.7 576.9,524.2 577.2,525.6 577.4,526.9 577.7,528.2 578.0,529.4 578.3,530.6 578.6,531.7 578.9,532.8 579.2,533.8 579.5,534.7 579.8,535.6 580.1,536.5 580.3,537.3 580.6,538.0 580.9,538.7 581.2,539.4 581.5,540.1 581.8,540.7 582.1,541.2 582.4,541.7 582.7,542.2 583.0,542.7 583.2,543.2 583.5,543.6 583.8,544.0 584.1,544.3 584.4,544.7 584.7,545.0 585.0,545.3 585.3,545.6 585.6,545.8 585.9,546.1 586.1,546.3 586.4,546.5 586.7,546.7 587.0,546.9 587.3,547.1 587.6,547.2 587.9,547.4 588.2,547.5 588.5,547.7 588.8,547.8 589.0,547.9 589.3,548.0 589.6,548.1 589.9,548.2 590.2,548.3 590.5,548.4 590.8,548.5 591.1,548.6 591.4,548.6 591.7,548.7 591.9,548.8 592.2,548.8 592.5,548.9 592.8,549.0 593.1,549.0 593.4,549.1 593.7,549.1 594.0,549.2 594.3,549.2 594.5,549.3 594.8,549.3 595.1,549.3 595.4,549.4 595.7,549.4 596.0,549.5 596.3,549.5 596.6,549.5 596.9,549.6 597.2,549.6 597.4,549.6 597.7,549.6 598.0,549.7 598.3,549.7 598.6,549.7 598.9,549.7 599.2,549.8 599.5,549.8 599.8,549.8 600.1,549.8 600.3,549.9 600.6,549.9 600.9,549.9 601.2,549.9 601.5,549.9 601.8,549.9 602.1,550.0 602.4,550.0 602.7,550.0 603.0,550.0 603.2,550.0 603.5,550.0 603.8,550.1 604.1,550.1 604.4,550.1 604.7,550.1 605.0,550.1 605.3,550.1 605.6,550.1 605.9,550.2 606.1,550.2 606.4,550.2 606.7,550.2 607.0,550.2 607.3,550.2 607.6,550.2 607.9,550.2 608.2,550.2 608.5,550.3 608.8,550.3 609.0,550.3 609.3,550.3 609.6,550.3 609.9,550.3 610.2,550.3 610.5,550.3 610.8,550.3 611.1,550.3 611.4,550.4 611.7,550.4 611.9,550.4 612.2,550.4 612.5,550.4 612.8,550.4 613.1,550.4 613.4,550.4 613.7,550.4 614.0,550.4 614.3,550.4 614.5,550.4 614.8,550.5 615.1,550.5 615.4,550.5 615.7,550.5 616.0,550.5 616.3,550.5 616.6,550.5 616.9,550.5 617.2,550.5 617.4,550.5 617.7,550.5 618.0,550.5 618.3,550.5 618.6,550.5 618.9,550.5 619.2,550.6 619.5,550.6 619.8,550.6 620.1,550.6 620.3,550.6 620.6,550.6 620.9,550.6 621.2,550.6 621.5,550.6 621.8,550.6 622.1,550.6 622.4,550.6 622.7,550.6 623.0,550.6 623.2,550.6 623.5,550.6 623.8,550.6 624.1,550.6 624.4,550.6 624.7,550.7 625.0,550.7 625.3,550.7 625.6,550.7 625.9,550.7 626.1,550.7 626.4,550.7 626.7,550.7 627.0,550.7 627.3,550.7 627.6,550.7 627.9,550.7 628.2,550.7 628.5,550.7 628.8,550.7 629.0,550.7 629.3,550.7 629.6,550.7 629.9,550.7 630.2,550.7 630.5,550.7 630.8,550.7 631.1,550.7 631.4,550.7 631.7,550.7 631.9,550.7 632.2,550.7 632.5,550.8 632.8,550.8 633.1,550.8 633.4,550.8 633.7,550.8 634.0,550.8 634.3,550.8 634.5,550.8 634.8,550.8 635.1,550.8 635.4,550.8 635.7,550.8" fill="none" stroke="#8a5a36" stroke-width="1.0" stroke-linejoin="round" />
<polyline points="374.8,536.3 375.4,536.5 376.0,535.1 376.6,536.8 377.2,535.5 377.8,536.2 378.4,536.3 379.0,536.2 379.6,535.9 380.2,535.4 380.8,536.0 381.4,535.5 382.0,534.9 382.6,536.9 383.2,536.4 383.8,537.0 384.4,536.3 385.0,537.4 385.6,537.7 386.2,538.0 386.8,537.7 387.4,537.5 388.0,537.9 388.6,537.2 389.2,537.4 389.8,538.0 390.4,537.6 391.0,537.8 391.6,537.8 392.2,538.4 392.8,538.2 393.4,537.6 394.0,538.0 394.6,537.3 395.2,537.5 395.8,537.9 396.4,537.2 397.0,537.6 397.6,537.2 398.2,537.8 398.8,538.4 399.4,537.6 400.0,538.0 400.6,537.7 401.2,537.7 401.8,537.7 402.4,538.8 403.0,539.2 403.6,538.6 404.2,538.2 404.8,538.8 405.4,538.5 406.0,539.0 406.6,538.9 407.2,538.9 407.8,539.1 408.4,538.7 409.0,538.7 409.6,538.3 410.2,538.7 410.8,538.4 411.4,538.8 412.0,538.6 412.6,538.9 413.2,539.1 413.8,538.4 414.4,538.6 415.0,538.6 415.6,539.2 416.2,539.5 416.8,539.2 417.4,538.8 418.0,539.4 418.6,538.4 419.2,539.4 419.8,538.7 420.4,537.9 421.0,539.8 421.6,539.5 422.2,538.5 422.8,539.0 423.4,538.8 424.0,538.9 424.6,538.4 425.2,538.7 425.8,539.1 426.4,539.0 427.0,539.3 427.6,538.9 428.2,539.7 428.8,538.6 429.4,539.0 430.0,538.2 430.6,538.5 431.2,539.3 431.8,538.5 432.4,539.0 433.0,538.7 433.6,538.4 434.2,538.5 434.8,538.4 435.4,538.4 436.0,538.7 436.6,538.6 437.2,538.1 437.8,537.9 438.4,538.2 439.0,538.0 439.6,538.3 440.2,538.8 440.8,538.1 441.4,537.7 442.0,537.5 442.6,537.2 443.2,537.1 443.8,537.0 444.4,537.1 445.0,537.0 445.6,537.4 446.2,536.9 446.8,536.9 447.4,536.5 448.0,537.4 448.6,536.9 449.2,537.3 449.8,536.8 450.4,537.0 451.0,536.3 451.6,536.6 452.2,537.2 452.8,535.7 453.4,536.5 454.0,536.6 454.6,536.0 455.2,536.1 455.8,536.2 456.4,535.4 457.0,535.7 457.6,535.2 458.2,535.2 458.8,535.1 459.4,535.2 460.0,535.2 460.6,535.3 461.2,534.5 461.8,535.7 462.4,535.3 463.0,535.1 463.6,534.7 464.2,534.7 464.8,534.8 465.4,534.7 466.0,533.9 466.6,534.7 467.2,535.4 467.8,533.7 468.4,534.6 469.0,534.3 469.6,534.1 470.2,534.6 470.8,533.6 471.4,534.1 472.0,534.5 472.6,533.8 473.2,533.7 473.8,533.8 474.4,533.6 475.0,534.3 475.6,533.4 476.2,534.0 476.8,533.2 477.4,533.8 478.0,533.5 478.6,532.6 479.2,533.5 479.8,533.0 480.4,533.2 481.0,533.9 481.6,532.8 482.2,532.8 482.8,533.6 483.4,533.0 484.0,533.4 484.6,532.8 485.2,532.2 485.8,532.3 486.4,532.6 487.0,532.3 487.6,531.8 488.2,531.6 488.8,531.4 489.4,531.0 490.0,531.7 490.6,530.7 491.2,530.1 491.8,530.1 492.4,530.2 493.0,529.8 493.6,529.1 494.2,528.5 494.8,528.3 495.4,527.2 496.0,526.9 496.6,527.2 497.2,526.2 497.8,526.0 498.4,525.9 499.0,525.2 499.6,524.5 500.2,524.8 500.8,523.9 501.4,523.2 502.0,523.3 502.6,522.9 503.2,522.2 503.8,522.2 504.4,521.9 505.0,521.0 505.6,521.4 506.2,521.1 506.8,520.8 507.4,520.1 508.0,520.3 508.6,520.1 509.2,519.8 509.8,519.0 510.4,519.3 511.0,518.1 511.6,518.0 512.2,518.0 512.8,516.6 513.4,516.0 514.0,515.9 514.6,514.7 515.2,514.0 515.8,513.4 516.4,513.0 517.0,511.0 517.6,510.7 518.2,509.9 518.8,509.1 519.4,508.4 520.0,507.7 520.6,507.3 521.2,506.2 521.8,505.9 522.4,505.3 523.0,504.2 523.6,503.9 524.2,503.7 524.8,502.5 525.4,501.4 526.0,500.7 526.6,499.5 527.2,498.9 527.8,498.0 528.4,496.1 529.0,494.9 529.6,493.9 530.2,491.8 530.8,490.4 531.4,488.3 532.0,486.6 532.6,484.9 533.2,484.0 533.8,481.2 534.4,479.1 535.0,476.9 535.6,474.7 536.2,472.6 536.8,470.0 537.4,468.1 538.0,464.7 538.6,462.2 539.2,458.7 539.8,455.7 540.4,452.1 541.0,450.1 541.6,447.9 542.2,445.7 542.8,442.6 543.4,440.8 544.0,436.6 544.6,431.7 545.2,426.1 545.8,420.2 546.4,414.8 547.0,409.3 547.6,405.4 548.2,402.2 548.8,398.8 549.4,395.2 550.0,391.3 550.6,386.8 551.2,382.2 551.8,377.6 552.4,372.1 553.0,368.7 553.6,365.1 554.2,361.9 554.8,359.7 555.4,356.4 556.0,354.0 556.6,352.0 557.2,350.6 557.8,349.3 558.4,348.4 559.0,348.4 559.6,348.2 560.2,350.4 560.8,351.5 561.4,354.2 562.0,357.0 562.6,359.8 563.2,363.2 563.8,368.7 564.4,376.3 565.0,384.8 565.6,393.4 566.2,401.5 566.8,411.3 567.4,421.4 568.0,431.8 568.6,440.9 569.2,452.3 569.8,461.8 570.4,471.9 571.0,482.1 571.6,490.1 572.2,496.1 572.8,501.9 573.4,506.5 574.0,511.1 574.6,514.9 575.2,517.9 575.8,521.7 576.4,524.2 577.0,526.8 577.6,528.8 578.2,531.0 578.8,533.1 579.4,533.9 580.0,536.1 580.6,537.3 581.2,538.6 581.8,538.8 582.4,540.6 583.0,541.8 583.6,542.1 584.2,543.1 584.8,542.9 585.4,544.6 586.0,544.7 586.6,545.8 587.2,545.4 587.8,546.9 588.4,547.0 589.0,547.9 589.6,547.7 590.2,548.2 590.8,549.5 591.4,548.8 592.0,549.1 592.6,549.5 593.2,549.4 593.8,550.3 594.4,550.6 595.0,549.8 595.6,549.6 596.2,550.7 596.8,550.7 597.4,550.7 598.0,550.9 598.6,550.2 599.2,550.5 599.8,550.2 600.4,550.2 601.0,551.1 601.6,550.5 602.2,551.6 602.8,550.9 603.4,550.6 604.0,551.2 604.6,551.5 605.2,551.1 605.8,550.5 606.4,551.0 607.0,551.4 607.6,550.7 608.2,550.7 608.8,551.3 609.4,551.0 610.0,550.5 610.6,550.8 611.2,550.7 611.8,551.0 612.4,551.0 613.0,551.4 613.6,551.2 614.2,550.4 614.8,551.1 615.4,551.3 616.0,551.1 616.6,551.3 617.2,550.8 617.8,550.6 618.4,551.3 619.0,550.6 619.6,550.2 620.2,551.3 620.8,550.7 621.4,550.9 622.0,550.5 622.6,550.5 623.2,550.6 623.8,550.9 624.4,551.1 625.0,550.2 625.6,551.3 626.2,550.6 626.8,550.6 627.4,551.2 628.0,551.0 628.6,550.5 629.2,551.6 629.8,550.7 630.4,551.1 631.0,551.1 631.6,551.5 632.2,550.8 632.8,551.4 633.4,550.7 634.0,551.4 634.6,550.7 635.2,550.9" fill="none" stroke="#d06a6a" stroke-width="1.0" stroke-linejoin="round" />
<text x="386.40" y="360.30" font-size="28.5" font-weight="bold" fill="#000" text-anchor="start" >d</text>
<text x="465.00" y="350.80" font-size="21.3" font-weight="bold" fill="#0000f0" text-anchor="start" >C 1s</text>
<text x="458.60" y="504.10" font-size="21.3" font-weight="normal" fill="#000" text-anchor="start" >C=O</text>
<text x="587.80" y="435.50" font-size="21.3" font-weight="normal" fill="#000" text-anchor="start" >C-C</text>
<line x1="565.70" y1="458.80" x2="594.60" y2="450.30" stroke="#111" stroke-width="1.3"/>
<line x1="502.40" y1="514.20" x2="527.80" y2="534.60" stroke="#111" stroke-width="1.3"/>
</svg>
</body></html>
